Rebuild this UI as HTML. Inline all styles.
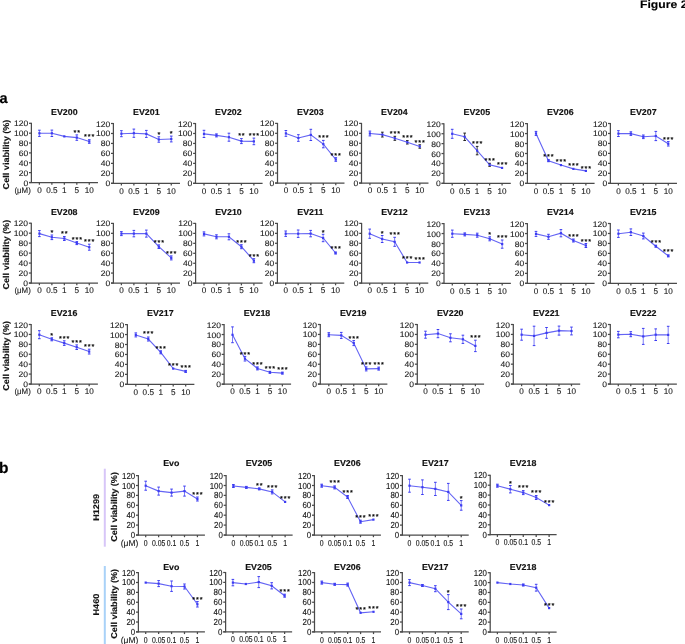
<!DOCTYPE html>
<html><head><meta charset="utf-8"><title>Figure 2</title>
<style>
html,body{margin:0;padding:0;background:#fff;}
body{width:685px;height:644px;overflow:hidden;}
svg{display:block;will-change:transform;}
text{font-family:"Liberation Sans", sans-serif;text-rendering:geometricPrecision;}
</style></head>
<body>
<svg width="685" height="644" viewBox="0 0 685 644">
<rect width="685" height="644" fill="#fff"/>
<line x1="31.4" y1="122.8" x2="31.4" y2="183" stroke="#4a4a4a" stroke-width="1.25"/>
<line x1="29" y1="182.5" x2="31.4" y2="182.5" stroke="#4a4a4a" stroke-width="1.25"/>
<text transform="translate(28.2,185.5) scale(1.08,1)" font-size="7.9" stroke="#1a1a1a" stroke-width="0.11" text-anchor="end" fill="#1a1a1a">0</text>
<line x1="29" y1="172.63" x2="31.4" y2="172.63" stroke="#4a4a4a" stroke-width="1.25"/>
<text transform="translate(28.2,175.63) scale(1.08,1)" font-size="7.9" stroke="#1a1a1a" stroke-width="0.11" text-anchor="end" fill="#1a1a1a">20</text>
<line x1="29" y1="162.77" x2="31.4" y2="162.77" stroke="#4a4a4a" stroke-width="1.25"/>
<text transform="translate(28.2,165.77) scale(1.08,1)" font-size="7.9" stroke="#1a1a1a" stroke-width="0.11" text-anchor="end" fill="#1a1a1a">40</text>
<line x1="29" y1="152.9" x2="31.4" y2="152.9" stroke="#4a4a4a" stroke-width="1.25"/>
<text transform="translate(28.2,155.9) scale(1.08,1)" font-size="7.9" stroke="#1a1a1a" stroke-width="0.11" text-anchor="end" fill="#1a1a1a">60</text>
<line x1="29" y1="143.03" x2="31.4" y2="143.03" stroke="#4a4a4a" stroke-width="1.25"/>
<text transform="translate(28.2,146.03) scale(1.08,1)" font-size="7.9" stroke="#1a1a1a" stroke-width="0.11" text-anchor="end" fill="#1a1a1a">80</text>
<line x1="29" y1="133.17" x2="31.4" y2="133.17" stroke="#4a4a4a" stroke-width="1.25"/>
<text transform="translate(28.2,136.17) scale(1.08,1)" font-size="7.9" stroke="#1a1a1a" stroke-width="0.11" text-anchor="end" fill="#1a1a1a">100</text>
<line x1="29" y1="123.3" x2="31.4" y2="123.3" stroke="#4a4a4a" stroke-width="1.25"/>
<text transform="translate(28.2,126.3) scale(1.08,1)" font-size="7.9" stroke="#1a1a1a" stroke-width="0.11" text-anchor="end" fill="#1a1a1a">120</text>
<line x1="29" y1="182.5" x2="97.98" y2="182.5" stroke="#4a4a4a" stroke-width="1.25"/>
<line x1="39.4" y1="182.5" x2="39.4" y2="184.7" stroke="#4a4a4a" stroke-width="1.25"/>
<text transform="translate(39.4,192.7) scale(0.98,1)" font-size="8.3" stroke="#1a1a1a" stroke-width="0.12" text-anchor="middle" fill="#1a1a1a">0</text>
<line x1="51.87" y1="182.5" x2="51.87" y2="184.7" stroke="#4a4a4a" stroke-width="1.25"/>
<text transform="translate(51.87,192.7) scale(0.98,1)" font-size="8.3" stroke="#1a1a1a" stroke-width="0.12" text-anchor="middle" fill="#1a1a1a">0.5</text>
<line x1="64.34" y1="182.5" x2="64.34" y2="184.7" stroke="#4a4a4a" stroke-width="1.25"/>
<text transform="translate(64.34,192.7) scale(0.98,1)" font-size="8.3" stroke="#1a1a1a" stroke-width="0.12" text-anchor="middle" fill="#1a1a1a">1</text>
<line x1="76.81" y1="182.5" x2="76.81" y2="184.7" stroke="#4a4a4a" stroke-width="1.25"/>
<text transform="translate(76.81,192.7) scale(0.98,1)" font-size="8.3" stroke="#1a1a1a" stroke-width="0.12" text-anchor="middle" fill="#1a1a1a">5</text>
<line x1="89.28" y1="182.5" x2="89.28" y2="184.7" stroke="#4a4a4a" stroke-width="1.25"/>
<text transform="translate(89.28,192.7) scale(0.98,1)" font-size="8.3" stroke="#1a1a1a" stroke-width="0.12" text-anchor="middle" fill="#1a1a1a">10</text>
<text transform="translate(64.3,115.1) scale(1.03,1)" font-size="8.6" font-weight="bold" stroke="#111" stroke-width="0.15" text-anchor="middle" fill="#111">EV200</text>
<polyline points="39.4,133.3 51.87,133.3 64.34,136.4 76.81,137.6 89.28,141.5" fill="none" stroke="#6464f4" stroke-width="1.1"/>
<line x1="39.4" y1="130.2" x2="39.4" y2="136.4" stroke="#6a6af5" stroke-width="0.9"/>
<line x1="38.1" y1="130.2" x2="40.7" y2="130.2" stroke="#3c3cf2" stroke-width="1"/>
<line x1="38.1" y1="136.4" x2="40.7" y2="136.4" stroke="#3c3cf2" stroke-width="1"/>
<rect x="38.3" y="132.2" width="2.2" height="2.2" fill="#3c3cf2"/>
<line x1="51.87" y1="130.1" x2="51.87" y2="136.5" stroke="#6a6af5" stroke-width="0.9"/>
<line x1="50.57" y1="130.1" x2="53.17" y2="130.1" stroke="#3c3cf2" stroke-width="1"/>
<line x1="50.57" y1="136.5" x2="53.17" y2="136.5" stroke="#3c3cf2" stroke-width="1"/>
<rect x="50.77" y="132.2" width="2.2" height="2.2" fill="#3c3cf2"/>
<rect x="63.24" y="135.3" width="2.2" height="2.2" fill="#3c3cf2"/>
<line x1="76.81" y1="134.9" x2="76.81" y2="140.3" stroke="#6a6af5" stroke-width="0.9"/>
<line x1="75.51" y1="134.9" x2="78.11" y2="134.9" stroke="#3c3cf2" stroke-width="1"/>
<line x1="75.51" y1="140.3" x2="78.11" y2="140.3" stroke="#3c3cf2" stroke-width="1"/>
<rect x="75.71" y="136.5" width="2.2" height="2.2" fill="#3c3cf2"/>
<line x1="89.28" y1="139.7" x2="89.28" y2="143.3" stroke="#6a6af5" stroke-width="0.9"/>
<line x1="87.98" y1="139.7" x2="90.58" y2="139.7" stroke="#3c3cf2" stroke-width="1"/>
<line x1="87.98" y1="143.3" x2="90.58" y2="143.3" stroke="#3c3cf2" stroke-width="1"/>
<rect x="88.18" y="140.4" width="2.2" height="2.2" fill="#3c3cf2"/>
<text transform="translate(77.26,134.5)" font-size="7.3" letter-spacing="0.9" stroke="#000" stroke-width="0.2" text-anchor="middle" fill="#000">**</text>
<text transform="translate(89.73,139)" font-size="7.3" letter-spacing="0.9" stroke="#000" stroke-width="0.2" text-anchor="middle" fill="#000">***</text>
<text transform="translate(8.9,154.5) rotate(-90) scale(1.07,1)" font-size="8.5" font-weight="bold" stroke="#111" stroke-width="0.14" text-anchor="middle" fill="#111">Cell viability (%)</text>
<text transform="translate(30.8,192.7)" font-size="7.9" stroke="#1a1a1a" stroke-width="0.12" text-anchor="end" fill="#1a1a1a">(μM)</text>
<line x1="113.4" y1="123" x2="113.4" y2="183.8" stroke="#4a4a4a" stroke-width="1.25"/>
<line x1="111" y1="183.3" x2="113.4" y2="183.3" stroke="#4a4a4a" stroke-width="1.25"/>
<text transform="translate(110.2,186.3) scale(1.08,1)" font-size="7.9" stroke="#1a1a1a" stroke-width="0.11" text-anchor="end" fill="#1a1a1a">0</text>
<line x1="111" y1="173.33" x2="113.4" y2="173.33" stroke="#4a4a4a" stroke-width="1.25"/>
<text transform="translate(110.2,176.33) scale(1.08,1)" font-size="7.9" stroke="#1a1a1a" stroke-width="0.11" text-anchor="end" fill="#1a1a1a">20</text>
<line x1="111" y1="163.37" x2="113.4" y2="163.37" stroke="#4a4a4a" stroke-width="1.25"/>
<text transform="translate(110.2,166.37) scale(1.08,1)" font-size="7.9" stroke="#1a1a1a" stroke-width="0.11" text-anchor="end" fill="#1a1a1a">40</text>
<line x1="111" y1="153.4" x2="113.4" y2="153.4" stroke="#4a4a4a" stroke-width="1.25"/>
<text transform="translate(110.2,156.4) scale(1.08,1)" font-size="7.9" stroke="#1a1a1a" stroke-width="0.11" text-anchor="end" fill="#1a1a1a">60</text>
<line x1="111" y1="143.43" x2="113.4" y2="143.43" stroke="#4a4a4a" stroke-width="1.25"/>
<text transform="translate(110.2,146.43) scale(1.08,1)" font-size="7.9" stroke="#1a1a1a" stroke-width="0.11" text-anchor="end" fill="#1a1a1a">80</text>
<line x1="111" y1="133.47" x2="113.4" y2="133.47" stroke="#4a4a4a" stroke-width="1.25"/>
<text transform="translate(110.2,136.47) scale(1.08,1)" font-size="7.9" stroke="#1a1a1a" stroke-width="0.11" text-anchor="end" fill="#1a1a1a">100</text>
<line x1="111" y1="123.5" x2="113.4" y2="123.5" stroke="#4a4a4a" stroke-width="1.25"/>
<text transform="translate(110.2,126.5) scale(1.08,1)" font-size="7.9" stroke="#1a1a1a" stroke-width="0.11" text-anchor="end" fill="#1a1a1a">120</text>
<line x1="111" y1="183.3" x2="179.98" y2="183.3" stroke="#4a4a4a" stroke-width="1.25"/>
<line x1="121.4" y1="183.3" x2="121.4" y2="185.5" stroke="#4a4a4a" stroke-width="1.25"/>
<text transform="translate(121.4,193.5) scale(0.98,1)" font-size="8.3" stroke="#1a1a1a" stroke-width="0.12" text-anchor="middle" fill="#1a1a1a">0</text>
<line x1="133.87" y1="183.3" x2="133.87" y2="185.5" stroke="#4a4a4a" stroke-width="1.25"/>
<text transform="translate(133.87,193.5) scale(0.98,1)" font-size="8.3" stroke="#1a1a1a" stroke-width="0.12" text-anchor="middle" fill="#1a1a1a">0.5</text>
<line x1="146.34" y1="183.3" x2="146.34" y2="185.5" stroke="#4a4a4a" stroke-width="1.25"/>
<text transform="translate(146.34,193.5) scale(0.98,1)" font-size="8.3" stroke="#1a1a1a" stroke-width="0.12" text-anchor="middle" fill="#1a1a1a">1</text>
<line x1="158.81" y1="183.3" x2="158.81" y2="185.5" stroke="#4a4a4a" stroke-width="1.25"/>
<text transform="translate(158.81,193.5) scale(0.98,1)" font-size="8.3" stroke="#1a1a1a" stroke-width="0.12" text-anchor="middle" fill="#1a1a1a">5</text>
<line x1="171.28" y1="183.3" x2="171.28" y2="185.5" stroke="#4a4a4a" stroke-width="1.25"/>
<text transform="translate(171.28,193.5) scale(0.98,1)" font-size="8.3" stroke="#1a1a1a" stroke-width="0.12" text-anchor="middle" fill="#1a1a1a">10</text>
<text transform="translate(146.3,115.1) scale(1.03,1)" font-size="8.6" font-weight="bold" stroke="#111" stroke-width="0.15" text-anchor="middle" fill="#111">EV201</text>
<polyline points="121.4,133.7 133.87,133.2 146.34,133.9 158.81,139.5 171.28,139" fill="none" stroke="#6464f4" stroke-width="1.1"/>
<line x1="121.4" y1="130.7" x2="121.4" y2="136.7" stroke="#6a6af5" stroke-width="0.9"/>
<line x1="120.1" y1="130.7" x2="122.7" y2="130.7" stroke="#3c3cf2" stroke-width="1"/>
<line x1="120.1" y1="136.7" x2="122.7" y2="136.7" stroke="#3c3cf2" stroke-width="1"/>
<rect x="120.3" y="132.6" width="2.2" height="2.2" fill="#3c3cf2"/>
<line x1="133.87" y1="129.1" x2="133.87" y2="137.3" stroke="#6a6af5" stroke-width="0.9"/>
<line x1="132.57" y1="129.1" x2="135.17" y2="129.1" stroke="#3c3cf2" stroke-width="1"/>
<line x1="132.57" y1="137.3" x2="135.17" y2="137.3" stroke="#3c3cf2" stroke-width="1"/>
<rect x="132.77" y="132.1" width="2.2" height="2.2" fill="#3c3cf2"/>
<line x1="146.34" y1="130.4" x2="146.34" y2="137.4" stroke="#6a6af5" stroke-width="0.9"/>
<line x1="145.04" y1="130.4" x2="147.64" y2="130.4" stroke="#3c3cf2" stroke-width="1"/>
<line x1="145.04" y1="137.4" x2="147.64" y2="137.4" stroke="#3c3cf2" stroke-width="1"/>
<rect x="145.24" y="132.8" width="2.2" height="2.2" fill="#3c3cf2"/>
<line x1="158.81" y1="136.8" x2="158.81" y2="142.2" stroke="#6a6af5" stroke-width="0.9"/>
<line x1="157.51" y1="136.8" x2="160.11" y2="136.8" stroke="#3c3cf2" stroke-width="1"/>
<line x1="157.51" y1="142.2" x2="160.11" y2="142.2" stroke="#3c3cf2" stroke-width="1"/>
<rect x="157.71" y="138.4" width="2.2" height="2.2" fill="#3c3cf2"/>
<line x1="171.28" y1="136.1" x2="171.28" y2="141.9" stroke="#6a6af5" stroke-width="0.9"/>
<line x1="169.98" y1="136.1" x2="172.58" y2="136.1" stroke="#3c3cf2" stroke-width="1"/>
<line x1="169.98" y1="141.9" x2="172.58" y2="141.9" stroke="#3c3cf2" stroke-width="1"/>
<rect x="170.18" y="137.9" width="2.2" height="2.2" fill="#3c3cf2"/>
<text transform="translate(159.26,137.1)" font-size="7.3" letter-spacing="0.9" stroke="#000" stroke-width="0.2" text-anchor="middle" fill="#000">*</text>
<text transform="translate(171.73,136.1)" font-size="7.3" letter-spacing="0.9" stroke="#000" stroke-width="0.2" text-anchor="middle" fill="#000">*</text>
<line x1="195.5" y1="123" x2="195.5" y2="183.8" stroke="#4a4a4a" stroke-width="1.25"/>
<line x1="193.1" y1="183.3" x2="195.5" y2="183.3" stroke="#4a4a4a" stroke-width="1.25"/>
<text transform="translate(192.3,186.3) scale(1.08,1)" font-size="7.9" stroke="#1a1a1a" stroke-width="0.11" text-anchor="end" fill="#1a1a1a">0</text>
<line x1="193.1" y1="173.33" x2="195.5" y2="173.33" stroke="#4a4a4a" stroke-width="1.25"/>
<text transform="translate(192.3,176.33) scale(1.08,1)" font-size="7.9" stroke="#1a1a1a" stroke-width="0.11" text-anchor="end" fill="#1a1a1a">20</text>
<line x1="193.1" y1="163.37" x2="195.5" y2="163.37" stroke="#4a4a4a" stroke-width="1.25"/>
<text transform="translate(192.3,166.37) scale(1.08,1)" font-size="7.9" stroke="#1a1a1a" stroke-width="0.11" text-anchor="end" fill="#1a1a1a">40</text>
<line x1="193.1" y1="153.4" x2="195.5" y2="153.4" stroke="#4a4a4a" stroke-width="1.25"/>
<text transform="translate(192.3,156.4) scale(1.08,1)" font-size="7.9" stroke="#1a1a1a" stroke-width="0.11" text-anchor="end" fill="#1a1a1a">60</text>
<line x1="193.1" y1="143.43" x2="195.5" y2="143.43" stroke="#4a4a4a" stroke-width="1.25"/>
<text transform="translate(192.3,146.43) scale(1.08,1)" font-size="7.9" stroke="#1a1a1a" stroke-width="0.11" text-anchor="end" fill="#1a1a1a">80</text>
<line x1="193.1" y1="133.47" x2="195.5" y2="133.47" stroke="#4a4a4a" stroke-width="1.25"/>
<text transform="translate(192.3,136.47) scale(1.08,1)" font-size="7.9" stroke="#1a1a1a" stroke-width="0.11" text-anchor="end" fill="#1a1a1a">100</text>
<line x1="193.1" y1="123.5" x2="195.5" y2="123.5" stroke="#4a4a4a" stroke-width="1.25"/>
<text transform="translate(192.3,126.5) scale(1.08,1)" font-size="7.9" stroke="#1a1a1a" stroke-width="0.11" text-anchor="end" fill="#1a1a1a">120</text>
<line x1="193.1" y1="183.3" x2="262.58" y2="183.3" stroke="#4a4a4a" stroke-width="1.25"/>
<line x1="204" y1="183.3" x2="204" y2="185.5" stroke="#4a4a4a" stroke-width="1.25"/>
<text transform="translate(204,193.5) scale(0.98,1)" font-size="8.3" stroke="#1a1a1a" stroke-width="0.12" text-anchor="middle" fill="#1a1a1a">0</text>
<line x1="216.47" y1="183.3" x2="216.47" y2="185.5" stroke="#4a4a4a" stroke-width="1.25"/>
<text transform="translate(216.47,193.5) scale(0.98,1)" font-size="8.3" stroke="#1a1a1a" stroke-width="0.12" text-anchor="middle" fill="#1a1a1a">0.5</text>
<line x1="228.94" y1="183.3" x2="228.94" y2="185.5" stroke="#4a4a4a" stroke-width="1.25"/>
<text transform="translate(228.94,193.5) scale(0.98,1)" font-size="8.3" stroke="#1a1a1a" stroke-width="0.12" text-anchor="middle" fill="#1a1a1a">1</text>
<line x1="241.41" y1="183.3" x2="241.41" y2="185.5" stroke="#4a4a4a" stroke-width="1.25"/>
<text transform="translate(241.41,193.5) scale(0.98,1)" font-size="8.3" stroke="#1a1a1a" stroke-width="0.12" text-anchor="middle" fill="#1a1a1a">5</text>
<line x1="253.88" y1="183.3" x2="253.88" y2="185.5" stroke="#4a4a4a" stroke-width="1.25"/>
<text transform="translate(253.88,193.5) scale(0.98,1)" font-size="8.3" stroke="#1a1a1a" stroke-width="0.12" text-anchor="middle" fill="#1a1a1a">10</text>
<text transform="translate(228.4,115.1) scale(1.03,1)" font-size="8.6" font-weight="bold" stroke="#111" stroke-width="0.15" text-anchor="middle" fill="#111">EV202</text>
<polyline points="204,133.9 216.47,135.4 228.94,137.2 241.41,141.1 253.88,141.4" fill="none" stroke="#6464f4" stroke-width="1.1"/>
<line x1="204" y1="130.3" x2="204" y2="137.5" stroke="#6a6af5" stroke-width="0.9"/>
<line x1="202.7" y1="130.3" x2="205.3" y2="130.3" stroke="#3c3cf2" stroke-width="1"/>
<line x1="202.7" y1="137.5" x2="205.3" y2="137.5" stroke="#3c3cf2" stroke-width="1"/>
<rect x="202.9" y="132.8" width="2.2" height="2.2" fill="#3c3cf2"/>
<line x1="216.47" y1="133.9" x2="216.47" y2="136.9" stroke="#6a6af5" stroke-width="0.9"/>
<line x1="215.17" y1="133.9" x2="217.77" y2="133.9" stroke="#3c3cf2" stroke-width="1"/>
<line x1="215.17" y1="136.9" x2="217.77" y2="136.9" stroke="#3c3cf2" stroke-width="1"/>
<rect x="215.37" y="134.3" width="2.2" height="2.2" fill="#3c3cf2"/>
<line x1="228.94" y1="133.2" x2="228.94" y2="141.2" stroke="#6a6af5" stroke-width="0.9"/>
<line x1="227.64" y1="133.2" x2="230.24" y2="133.2" stroke="#3c3cf2" stroke-width="1"/>
<line x1="227.64" y1="141.2" x2="230.24" y2="141.2" stroke="#3c3cf2" stroke-width="1"/>
<rect x="227.84" y="136.1" width="2.2" height="2.2" fill="#3c3cf2"/>
<line x1="241.41" y1="138.6" x2="241.41" y2="143.6" stroke="#6a6af5" stroke-width="0.9"/>
<line x1="240.11" y1="138.6" x2="242.71" y2="138.6" stroke="#3c3cf2" stroke-width="1"/>
<line x1="240.11" y1="143.6" x2="242.71" y2="143.6" stroke="#3c3cf2" stroke-width="1"/>
<rect x="240.31" y="140" width="2.2" height="2.2" fill="#3c3cf2"/>
<line x1="253.88" y1="138.1" x2="253.88" y2="144.7" stroke="#6a6af5" stroke-width="0.9"/>
<line x1="252.58" y1="138.1" x2="255.18" y2="138.1" stroke="#3c3cf2" stroke-width="1"/>
<line x1="252.58" y1="144.7" x2="255.18" y2="144.7" stroke="#3c3cf2" stroke-width="1"/>
<rect x="252.78" y="140.3" width="2.2" height="2.2" fill="#3c3cf2"/>
<text transform="translate(241.86,138.1)" font-size="7.3" letter-spacing="0.9" stroke="#000" stroke-width="0.2" text-anchor="middle" fill="#000">**</text>
<text transform="translate(254.33,137.7)" font-size="7.3" letter-spacing="0.9" stroke="#000" stroke-width="0.2" text-anchor="middle" fill="#000">***</text>
<line x1="277.5" y1="122.9" x2="277.5" y2="183.5" stroke="#4a4a4a" stroke-width="1.25"/>
<line x1="275.1" y1="183" x2="277.5" y2="183" stroke="#4a4a4a" stroke-width="1.25"/>
<text transform="translate(274.3,186) scale(1.08,1)" font-size="7.9" stroke="#1a1a1a" stroke-width="0.11" text-anchor="end" fill="#1a1a1a">0</text>
<line x1="275.1" y1="173.07" x2="277.5" y2="173.07" stroke="#4a4a4a" stroke-width="1.25"/>
<text transform="translate(274.3,176.07) scale(1.08,1)" font-size="7.9" stroke="#1a1a1a" stroke-width="0.11" text-anchor="end" fill="#1a1a1a">20</text>
<line x1="275.1" y1="163.13" x2="277.5" y2="163.13" stroke="#4a4a4a" stroke-width="1.25"/>
<text transform="translate(274.3,166.13) scale(1.08,1)" font-size="7.9" stroke="#1a1a1a" stroke-width="0.11" text-anchor="end" fill="#1a1a1a">40</text>
<line x1="275.1" y1="153.2" x2="277.5" y2="153.2" stroke="#4a4a4a" stroke-width="1.25"/>
<text transform="translate(274.3,156.2) scale(1.08,1)" font-size="7.9" stroke="#1a1a1a" stroke-width="0.11" text-anchor="end" fill="#1a1a1a">60</text>
<line x1="275.1" y1="143.27" x2="277.5" y2="143.27" stroke="#4a4a4a" stroke-width="1.25"/>
<text transform="translate(274.3,146.27) scale(1.08,1)" font-size="7.9" stroke="#1a1a1a" stroke-width="0.11" text-anchor="end" fill="#1a1a1a">80</text>
<line x1="275.1" y1="133.33" x2="277.5" y2="133.33" stroke="#4a4a4a" stroke-width="1.25"/>
<text transform="translate(274.3,136.33) scale(1.08,1)" font-size="7.9" stroke="#1a1a1a" stroke-width="0.11" text-anchor="end" fill="#1a1a1a">100</text>
<line x1="275.1" y1="123.4" x2="277.5" y2="123.4" stroke="#4a4a4a" stroke-width="1.25"/>
<text transform="translate(274.3,126.4) scale(1.08,1)" font-size="7.9" stroke="#1a1a1a" stroke-width="0.11" text-anchor="end" fill="#1a1a1a">120</text>
<line x1="275.1" y1="183" x2="344.48" y2="183" stroke="#4a4a4a" stroke-width="1.25"/>
<line x1="285.9" y1="183" x2="285.9" y2="185.2" stroke="#4a4a4a" stroke-width="1.25"/>
<text transform="translate(285.9,193.2) scale(0.98,1)" font-size="8.3" stroke="#1a1a1a" stroke-width="0.12" text-anchor="middle" fill="#1a1a1a">0</text>
<line x1="298.37" y1="183" x2="298.37" y2="185.2" stroke="#4a4a4a" stroke-width="1.25"/>
<text transform="translate(298.37,193.2) scale(0.98,1)" font-size="8.3" stroke="#1a1a1a" stroke-width="0.12" text-anchor="middle" fill="#1a1a1a">0.5</text>
<line x1="310.84" y1="183" x2="310.84" y2="185.2" stroke="#4a4a4a" stroke-width="1.25"/>
<text transform="translate(310.84,193.2) scale(0.98,1)" font-size="8.3" stroke="#1a1a1a" stroke-width="0.12" text-anchor="middle" fill="#1a1a1a">1</text>
<line x1="323.31" y1="183" x2="323.31" y2="185.2" stroke="#4a4a4a" stroke-width="1.25"/>
<text transform="translate(323.31,193.2) scale(0.98,1)" font-size="8.3" stroke="#1a1a1a" stroke-width="0.12" text-anchor="middle" fill="#1a1a1a">5</text>
<line x1="335.78" y1="183" x2="335.78" y2="185.2" stroke="#4a4a4a" stroke-width="1.25"/>
<text transform="translate(335.78,193.2) scale(0.98,1)" font-size="8.3" stroke="#1a1a1a" stroke-width="0.12" text-anchor="middle" fill="#1a1a1a">10</text>
<text transform="translate(310.4,115.1) scale(1.03,1)" font-size="8.6" font-weight="bold" stroke="#111" stroke-width="0.15" text-anchor="middle" fill="#111">EV203</text>
<polyline points="285.9,133.4 298.37,138 310.84,134.9 323.31,144.1 335.78,159.5" fill="none" stroke="#6464f4" stroke-width="1.1"/>
<line x1="285.9" y1="130.5" x2="285.9" y2="136.3" stroke="#6a6af5" stroke-width="0.9"/>
<line x1="284.6" y1="130.5" x2="287.2" y2="130.5" stroke="#3c3cf2" stroke-width="1"/>
<line x1="284.6" y1="136.3" x2="287.2" y2="136.3" stroke="#3c3cf2" stroke-width="1"/>
<rect x="284.8" y="132.3" width="2.2" height="2.2" fill="#3c3cf2"/>
<line x1="298.37" y1="134.7" x2="298.37" y2="141.3" stroke="#6a6af5" stroke-width="0.9"/>
<line x1="297.07" y1="134.7" x2="299.67" y2="134.7" stroke="#3c3cf2" stroke-width="1"/>
<line x1="297.07" y1="141.3" x2="299.67" y2="141.3" stroke="#3c3cf2" stroke-width="1"/>
<rect x="297.27" y="136.9" width="2.2" height="2.2" fill="#3c3cf2"/>
<line x1="310.84" y1="129.3" x2="310.84" y2="140.5" stroke="#6a6af5" stroke-width="0.9"/>
<line x1="309.54" y1="129.3" x2="312.14" y2="129.3" stroke="#3c3cf2" stroke-width="1"/>
<line x1="309.54" y1="140.5" x2="312.14" y2="140.5" stroke="#3c3cf2" stroke-width="1"/>
<rect x="309.74" y="133.8" width="2.2" height="2.2" fill="#3c3cf2"/>
<line x1="323.31" y1="140.4" x2="323.31" y2="147.8" stroke="#6a6af5" stroke-width="0.9"/>
<line x1="322.01" y1="140.4" x2="324.61" y2="140.4" stroke="#3c3cf2" stroke-width="1"/>
<line x1="322.01" y1="147.8" x2="324.61" y2="147.8" stroke="#3c3cf2" stroke-width="1"/>
<rect x="322.21" y="143" width="2.2" height="2.2" fill="#3c3cf2"/>
<line x1="335.78" y1="157.7" x2="335.78" y2="161.3" stroke="#6a6af5" stroke-width="0.9"/>
<line x1="334.48" y1="157.7" x2="337.08" y2="157.7" stroke="#3c3cf2" stroke-width="1"/>
<line x1="334.48" y1="161.3" x2="337.08" y2="161.3" stroke="#3c3cf2" stroke-width="1"/>
<rect x="334.68" y="158.4" width="2.2" height="2.2" fill="#3c3cf2"/>
<text transform="translate(323.76,140)" font-size="7.3" letter-spacing="0.9" stroke="#000" stroke-width="0.2" text-anchor="middle" fill="#000">***</text>
<text transform="translate(336.23,157.6)" font-size="7.3" letter-spacing="0.9" stroke="#000" stroke-width="0.2" text-anchor="middle" fill="#000">***</text>
<line x1="361.5" y1="122.9" x2="361.5" y2="183.5" stroke="#4a4a4a" stroke-width="1.25"/>
<line x1="359.1" y1="183" x2="361.5" y2="183" stroke="#4a4a4a" stroke-width="1.25"/>
<text transform="translate(358.3,186) scale(1.08,1)" font-size="7.9" stroke="#1a1a1a" stroke-width="0.11" text-anchor="end" fill="#1a1a1a">0</text>
<line x1="359.1" y1="173.07" x2="361.5" y2="173.07" stroke="#4a4a4a" stroke-width="1.25"/>
<text transform="translate(358.3,176.07) scale(1.08,1)" font-size="7.9" stroke="#1a1a1a" stroke-width="0.11" text-anchor="end" fill="#1a1a1a">20</text>
<line x1="359.1" y1="163.13" x2="361.5" y2="163.13" stroke="#4a4a4a" stroke-width="1.25"/>
<text transform="translate(358.3,166.13) scale(1.08,1)" font-size="7.9" stroke="#1a1a1a" stroke-width="0.11" text-anchor="end" fill="#1a1a1a">40</text>
<line x1="359.1" y1="153.2" x2="361.5" y2="153.2" stroke="#4a4a4a" stroke-width="1.25"/>
<text transform="translate(358.3,156.2) scale(1.08,1)" font-size="7.9" stroke="#1a1a1a" stroke-width="0.11" text-anchor="end" fill="#1a1a1a">60</text>
<line x1="359.1" y1="143.27" x2="361.5" y2="143.27" stroke="#4a4a4a" stroke-width="1.25"/>
<text transform="translate(358.3,146.27) scale(1.08,1)" font-size="7.9" stroke="#1a1a1a" stroke-width="0.11" text-anchor="end" fill="#1a1a1a">80</text>
<line x1="359.1" y1="133.33" x2="361.5" y2="133.33" stroke="#4a4a4a" stroke-width="1.25"/>
<text transform="translate(358.3,136.33) scale(1.08,1)" font-size="7.9" stroke="#1a1a1a" stroke-width="0.11" text-anchor="end" fill="#1a1a1a">100</text>
<line x1="359.1" y1="123.4" x2="361.5" y2="123.4" stroke="#4a4a4a" stroke-width="1.25"/>
<text transform="translate(358.3,126.4) scale(1.08,1)" font-size="7.9" stroke="#1a1a1a" stroke-width="0.11" text-anchor="end" fill="#1a1a1a">120</text>
<line x1="359.1" y1="183" x2="428.48" y2="183" stroke="#4a4a4a" stroke-width="1.25"/>
<line x1="369.9" y1="183" x2="369.9" y2="185.2" stroke="#4a4a4a" stroke-width="1.25"/>
<text transform="translate(369.9,193.2) scale(0.98,1)" font-size="8.3" stroke="#1a1a1a" stroke-width="0.12" text-anchor="middle" fill="#1a1a1a">0</text>
<line x1="382.37" y1="183" x2="382.37" y2="185.2" stroke="#4a4a4a" stroke-width="1.25"/>
<text transform="translate(382.37,193.2) scale(0.98,1)" font-size="8.3" stroke="#1a1a1a" stroke-width="0.12" text-anchor="middle" fill="#1a1a1a">0.5</text>
<line x1="394.84" y1="183" x2="394.84" y2="185.2" stroke="#4a4a4a" stroke-width="1.25"/>
<text transform="translate(394.84,193.2) scale(0.98,1)" font-size="8.3" stroke="#1a1a1a" stroke-width="0.12" text-anchor="middle" fill="#1a1a1a">1</text>
<line x1="407.31" y1="183" x2="407.31" y2="185.2" stroke="#4a4a4a" stroke-width="1.25"/>
<text transform="translate(407.31,193.2) scale(0.98,1)" font-size="8.3" stroke="#1a1a1a" stroke-width="0.12" text-anchor="middle" fill="#1a1a1a">5</text>
<line x1="419.78" y1="183" x2="419.78" y2="185.2" stroke="#4a4a4a" stroke-width="1.25"/>
<text transform="translate(419.78,193.2) scale(0.98,1)" font-size="8.3" stroke="#1a1a1a" stroke-width="0.12" text-anchor="middle" fill="#1a1a1a">10</text>
<text transform="translate(394.4,115.1) scale(1.03,1)" font-size="8.6" font-weight="bold" stroke="#111" stroke-width="0.15" text-anchor="middle" fill="#111">EV204</text>
<polyline points="369.9,133.5 382.37,134.6 394.84,138.3 407.31,142.3 419.78,146.5" fill="none" stroke="#6464f4" stroke-width="1.1"/>
<line x1="369.9" y1="131.1" x2="369.9" y2="135.9" stroke="#6a6af5" stroke-width="0.9"/>
<line x1="368.6" y1="131.1" x2="371.2" y2="131.1" stroke="#3c3cf2" stroke-width="1"/>
<line x1="368.6" y1="135.9" x2="371.2" y2="135.9" stroke="#3c3cf2" stroke-width="1"/>
<rect x="368.8" y="132.4" width="2.2" height="2.2" fill="#3c3cf2"/>
<line x1="382.37" y1="132.2" x2="382.37" y2="137" stroke="#222" stroke-width="0.9"/>
<line x1="381.07" y1="132.2" x2="383.67" y2="132.2" stroke="#222" stroke-width="1"/>
<line x1="381.07" y1="137" x2="383.67" y2="137" stroke="#222" stroke-width="1"/>
<rect x="381.27" y="133.5" width="2.2" height="2.2" fill="#3c3cf2"/>
<line x1="394.84" y1="136.3" x2="394.84" y2="140.3" stroke="#222" stroke-width="0.9"/>
<line x1="393.54" y1="136.3" x2="396.14" y2="136.3" stroke="#222" stroke-width="1"/>
<line x1="393.54" y1="140.3" x2="396.14" y2="140.3" stroke="#222" stroke-width="1"/>
<rect x="393.74" y="137.2" width="2.2" height="2.2" fill="#3c3cf2"/>
<line x1="407.31" y1="140.6" x2="407.31" y2="144" stroke="#222" stroke-width="0.9"/>
<line x1="406.01" y1="140.6" x2="408.61" y2="140.6" stroke="#222" stroke-width="1"/>
<line x1="406.01" y1="144" x2="408.61" y2="144" stroke="#222" stroke-width="1"/>
<rect x="406.21" y="141.2" width="2.2" height="2.2" fill="#3c3cf2"/>
<line x1="419.78" y1="144.8" x2="419.78" y2="148.2" stroke="#222" stroke-width="0.9"/>
<line x1="418.48" y1="144.8" x2="421.08" y2="144.8" stroke="#222" stroke-width="1"/>
<line x1="418.48" y1="148.2" x2="421.08" y2="148.2" stroke="#222" stroke-width="1"/>
<rect x="418.68" y="145.4" width="2.2" height="2.2" fill="#3c3cf2"/>
<text transform="translate(395.29,135.9)" font-size="7.3" letter-spacing="0.9" stroke="#000" stroke-width="0.2" text-anchor="middle" fill="#000">***</text>
<text transform="translate(407.76,139.9)" font-size="7.3" letter-spacing="0.9" stroke="#000" stroke-width="0.2" text-anchor="middle" fill="#000">***</text>
<text transform="translate(420.23,144.5)" font-size="7.3" letter-spacing="0.9" stroke="#000" stroke-width="0.2" text-anchor="middle" fill="#000">***</text>
<line x1="443.9" y1="123.3" x2="443.9" y2="183.8" stroke="#4a4a4a" stroke-width="1.25"/>
<line x1="441.5" y1="183.3" x2="443.9" y2="183.3" stroke="#4a4a4a" stroke-width="1.25"/>
<text transform="translate(440.7,186.3) scale(1.08,1)" font-size="7.9" stroke="#1a1a1a" stroke-width="0.11" text-anchor="end" fill="#1a1a1a">0</text>
<line x1="441.5" y1="173.38" x2="443.9" y2="173.38" stroke="#4a4a4a" stroke-width="1.25"/>
<text transform="translate(440.7,176.38) scale(1.08,1)" font-size="7.9" stroke="#1a1a1a" stroke-width="0.11" text-anchor="end" fill="#1a1a1a">20</text>
<line x1="441.5" y1="163.47" x2="443.9" y2="163.47" stroke="#4a4a4a" stroke-width="1.25"/>
<text transform="translate(440.7,166.47) scale(1.08,1)" font-size="7.9" stroke="#1a1a1a" stroke-width="0.11" text-anchor="end" fill="#1a1a1a">40</text>
<line x1="441.5" y1="153.55" x2="443.9" y2="153.55" stroke="#4a4a4a" stroke-width="1.25"/>
<text transform="translate(440.7,156.55) scale(1.08,1)" font-size="7.9" stroke="#1a1a1a" stroke-width="0.11" text-anchor="end" fill="#1a1a1a">60</text>
<line x1="441.5" y1="143.63" x2="443.9" y2="143.63" stroke="#4a4a4a" stroke-width="1.25"/>
<text transform="translate(440.7,146.63) scale(1.08,1)" font-size="7.9" stroke="#1a1a1a" stroke-width="0.11" text-anchor="end" fill="#1a1a1a">80</text>
<line x1="441.5" y1="133.72" x2="443.9" y2="133.72" stroke="#4a4a4a" stroke-width="1.25"/>
<text transform="translate(440.7,136.72) scale(1.08,1)" font-size="7.9" stroke="#1a1a1a" stroke-width="0.11" text-anchor="end" fill="#1a1a1a">100</text>
<line x1="441.5" y1="123.8" x2="443.9" y2="123.8" stroke="#4a4a4a" stroke-width="1.25"/>
<text transform="translate(440.7,126.8) scale(1.08,1)" font-size="7.9" stroke="#1a1a1a" stroke-width="0.11" text-anchor="end" fill="#1a1a1a">120</text>
<line x1="441.5" y1="183.3" x2="510.78" y2="183.3" stroke="#4a4a4a" stroke-width="1.25"/>
<line x1="452.2" y1="183.3" x2="452.2" y2="185.5" stroke="#4a4a4a" stroke-width="1.25"/>
<text transform="translate(452.2,193.5) scale(0.98,1)" font-size="8.3" stroke="#1a1a1a" stroke-width="0.12" text-anchor="middle" fill="#1a1a1a">0</text>
<line x1="464.67" y1="183.3" x2="464.67" y2="185.5" stroke="#4a4a4a" stroke-width="1.25"/>
<text transform="translate(464.67,193.5) scale(0.98,1)" font-size="8.3" stroke="#1a1a1a" stroke-width="0.12" text-anchor="middle" fill="#1a1a1a">0.5</text>
<line x1="477.14" y1="183.3" x2="477.14" y2="185.5" stroke="#4a4a4a" stroke-width="1.25"/>
<text transform="translate(477.14,193.5) scale(0.98,1)" font-size="8.3" stroke="#1a1a1a" stroke-width="0.12" text-anchor="middle" fill="#1a1a1a">1</text>
<line x1="489.61" y1="183.3" x2="489.61" y2="185.5" stroke="#4a4a4a" stroke-width="1.25"/>
<text transform="translate(489.61,193.5) scale(0.98,1)" font-size="8.3" stroke="#1a1a1a" stroke-width="0.12" text-anchor="middle" fill="#1a1a1a">5</text>
<line x1="502.08" y1="183.3" x2="502.08" y2="185.5" stroke="#4a4a4a" stroke-width="1.25"/>
<text transform="translate(502.08,193.5) scale(0.98,1)" font-size="8.3" stroke="#1a1a1a" stroke-width="0.12" text-anchor="middle" fill="#1a1a1a">10</text>
<text transform="translate(476.8,115.1) scale(1.03,1)" font-size="8.6" font-weight="bold" stroke="#111" stroke-width="0.15" text-anchor="middle" fill="#111">EV205</text>
<polyline points="452.2,133.8 464.67,136.8 477.14,150.6 489.61,164.8 502.08,167.9" fill="none" stroke="#6464f4" stroke-width="1.1"/>
<line x1="452.2" y1="129.3" x2="452.2" y2="138.3" stroke="#6a6af5" stroke-width="0.9"/>
<line x1="450.9" y1="129.3" x2="453.5" y2="129.3" stroke="#3c3cf2" stroke-width="1"/>
<line x1="450.9" y1="138.3" x2="453.5" y2="138.3" stroke="#3c3cf2" stroke-width="1"/>
<rect x="451.1" y="132.7" width="2.2" height="2.2" fill="#3c3cf2"/>
<line x1="464.67" y1="133.1" x2="464.67" y2="140.5" stroke="#222" stroke-width="0.9"/>
<line x1="463.37" y1="133.1" x2="465.97" y2="133.1" stroke="#222" stroke-width="1"/>
<line x1="463.37" y1="140.5" x2="465.97" y2="140.5" stroke="#222" stroke-width="1"/>
<rect x="463.57" y="135.7" width="2.2" height="2.2" fill="#3c3cf2"/>
<line x1="477.14" y1="146.4" x2="477.14" y2="154.8" stroke="#222" stroke-width="0.9"/>
<line x1="475.84" y1="146.4" x2="478.44" y2="146.4" stroke="#222" stroke-width="1"/>
<line x1="475.84" y1="154.8" x2="478.44" y2="154.8" stroke="#222" stroke-width="1"/>
<rect x="476.04" y="149.5" width="2.2" height="2.2" fill="#3c3cf2"/>
<line x1="489.61" y1="163.3" x2="489.61" y2="166.3" stroke="#222" stroke-width="0.9"/>
<line x1="488.31" y1="163.3" x2="490.91" y2="163.3" stroke="#222" stroke-width="1"/>
<line x1="488.31" y1="166.3" x2="490.91" y2="166.3" stroke="#222" stroke-width="1"/>
<rect x="488.51" y="163.7" width="2.2" height="2.2" fill="#3c3cf2"/>
<rect x="500.98" y="166.8" width="2.2" height="2.2" fill="#3c3cf2"/>
<text transform="translate(477.59,146)" font-size="7.3" letter-spacing="0.9" stroke="#000" stroke-width="0.2" text-anchor="middle" fill="#000">***</text>
<text transform="translate(490.06,163.4)" font-size="7.3" letter-spacing="0.9" stroke="#000" stroke-width="0.2" text-anchor="middle" fill="#000">***</text>
<text transform="translate(502.53,166.9)" font-size="7.3" letter-spacing="0.9" stroke="#000" stroke-width="0.2" text-anchor="middle" fill="#000">***</text>
<line x1="527.4" y1="123.1" x2="527.4" y2="183.9" stroke="#4a4a4a" stroke-width="1.25"/>
<line x1="525" y1="183.4" x2="527.4" y2="183.4" stroke="#4a4a4a" stroke-width="1.25"/>
<text transform="translate(524.2,186.4) scale(1.08,1)" font-size="7.9" stroke="#1a1a1a" stroke-width="0.11" text-anchor="end" fill="#1a1a1a">0</text>
<line x1="525" y1="173.43" x2="527.4" y2="173.43" stroke="#4a4a4a" stroke-width="1.25"/>
<text transform="translate(524.2,176.43) scale(1.08,1)" font-size="7.9" stroke="#1a1a1a" stroke-width="0.11" text-anchor="end" fill="#1a1a1a">20</text>
<line x1="525" y1="163.47" x2="527.4" y2="163.47" stroke="#4a4a4a" stroke-width="1.25"/>
<text transform="translate(524.2,166.47) scale(1.08,1)" font-size="7.9" stroke="#1a1a1a" stroke-width="0.11" text-anchor="end" fill="#1a1a1a">40</text>
<line x1="525" y1="153.5" x2="527.4" y2="153.5" stroke="#4a4a4a" stroke-width="1.25"/>
<text transform="translate(524.2,156.5) scale(1.08,1)" font-size="7.9" stroke="#1a1a1a" stroke-width="0.11" text-anchor="end" fill="#1a1a1a">60</text>
<line x1="525" y1="143.53" x2="527.4" y2="143.53" stroke="#4a4a4a" stroke-width="1.25"/>
<text transform="translate(524.2,146.53) scale(1.08,1)" font-size="7.9" stroke="#1a1a1a" stroke-width="0.11" text-anchor="end" fill="#1a1a1a">80</text>
<line x1="525" y1="133.57" x2="527.4" y2="133.57" stroke="#4a4a4a" stroke-width="1.25"/>
<text transform="translate(524.2,136.57) scale(1.08,1)" font-size="7.9" stroke="#1a1a1a" stroke-width="0.11" text-anchor="end" fill="#1a1a1a">100</text>
<line x1="525" y1="123.6" x2="527.4" y2="123.6" stroke="#4a4a4a" stroke-width="1.25"/>
<text transform="translate(524.2,126.6) scale(1.08,1)" font-size="7.9" stroke="#1a1a1a" stroke-width="0.11" text-anchor="end" fill="#1a1a1a">120</text>
<line x1="525" y1="183.4" x2="594.58" y2="183.4" stroke="#4a4a4a" stroke-width="1.25"/>
<line x1="536" y1="183.4" x2="536" y2="185.6" stroke="#4a4a4a" stroke-width="1.25"/>
<text transform="translate(536,193.6) scale(0.98,1)" font-size="8.3" stroke="#1a1a1a" stroke-width="0.12" text-anchor="middle" fill="#1a1a1a">0</text>
<line x1="548.47" y1="183.4" x2="548.47" y2="185.6" stroke="#4a4a4a" stroke-width="1.25"/>
<text transform="translate(548.47,193.6) scale(0.98,1)" font-size="8.3" stroke="#1a1a1a" stroke-width="0.12" text-anchor="middle" fill="#1a1a1a">0.5</text>
<line x1="560.94" y1="183.4" x2="560.94" y2="185.6" stroke="#4a4a4a" stroke-width="1.25"/>
<text transform="translate(560.94,193.6) scale(0.98,1)" font-size="8.3" stroke="#1a1a1a" stroke-width="0.12" text-anchor="middle" fill="#1a1a1a">1</text>
<line x1="573.41" y1="183.4" x2="573.41" y2="185.6" stroke="#4a4a4a" stroke-width="1.25"/>
<text transform="translate(573.41,193.6) scale(0.98,1)" font-size="8.3" stroke="#1a1a1a" stroke-width="0.12" text-anchor="middle" fill="#1a1a1a">5</text>
<line x1="585.88" y1="183.4" x2="585.88" y2="185.6" stroke="#4a4a4a" stroke-width="1.25"/>
<text transform="translate(585.88,193.6) scale(0.98,1)" font-size="8.3" stroke="#1a1a1a" stroke-width="0.12" text-anchor="middle" fill="#1a1a1a">10</text>
<text transform="translate(560.3,115.1) scale(1.03,1)" font-size="8.6" font-weight="bold" stroke="#111" stroke-width="0.15" text-anchor="middle" fill="#111">EV206</text>
<polyline points="536,133.4 548.47,160.7 560.94,165.1 573.41,168.9 585.88,170.9" fill="none" stroke="#6464f4" stroke-width="1.1"/>
<line x1="536" y1="131.4" x2="536" y2="135.4" stroke="#6a6af5" stroke-width="0.9"/>
<line x1="534.7" y1="131.4" x2="537.3" y2="131.4" stroke="#3c3cf2" stroke-width="1"/>
<line x1="534.7" y1="135.4" x2="537.3" y2="135.4" stroke="#3c3cf2" stroke-width="1"/>
<rect x="534.9" y="132.3" width="2.2" height="2.2" fill="#3c3cf2"/>
<line x1="548.47" y1="159.7" x2="548.47" y2="161.7" stroke="#6a6af5" stroke-width="0.9"/>
<line x1="547.17" y1="159.7" x2="549.77" y2="159.7" stroke="#3c3cf2" stroke-width="1"/>
<line x1="547.17" y1="161.7" x2="549.77" y2="161.7" stroke="#3c3cf2" stroke-width="1"/>
<rect x="547.37" y="159.6" width="2.2" height="2.2" fill="#3c3cf2"/>
<rect x="559.84" y="164" width="2.2" height="2.2" fill="#3c3cf2"/>
<rect x="572.31" y="167.8" width="2.2" height="2.2" fill="#3c3cf2"/>
<rect x="584.78" y="169.8" width="2.2" height="2.2" fill="#3c3cf2"/>
<text transform="translate(548.92,159.4)" font-size="7.3" letter-spacing="0.9" stroke="#000" stroke-width="0.2" text-anchor="middle" fill="#000">***</text>
<text transform="translate(561.39,164.2)" font-size="7.3" letter-spacing="0.9" stroke="#000" stroke-width="0.2" text-anchor="middle" fill="#000">***</text>
<text transform="translate(573.86,168.4)" font-size="7.3" letter-spacing="0.9" stroke="#000" stroke-width="0.2" text-anchor="middle" fill="#000">***</text>
<text transform="translate(586.33,170.6)" font-size="7.3" letter-spacing="0.9" stroke="#000" stroke-width="0.2" text-anchor="middle" fill="#000">***</text>
<line x1="610.4" y1="123" x2="610.4" y2="183.8" stroke="#4a4a4a" stroke-width="1.25"/>
<line x1="608" y1="183.3" x2="610.4" y2="183.3" stroke="#4a4a4a" stroke-width="1.25"/>
<text transform="translate(607.2,186.3) scale(1.08,1)" font-size="7.9" stroke="#1a1a1a" stroke-width="0.11" text-anchor="end" fill="#1a1a1a">0</text>
<line x1="608" y1="173.33" x2="610.4" y2="173.33" stroke="#4a4a4a" stroke-width="1.25"/>
<text transform="translate(607.2,176.33) scale(1.08,1)" font-size="7.9" stroke="#1a1a1a" stroke-width="0.11" text-anchor="end" fill="#1a1a1a">20</text>
<line x1="608" y1="163.37" x2="610.4" y2="163.37" stroke="#4a4a4a" stroke-width="1.25"/>
<text transform="translate(607.2,166.37) scale(1.08,1)" font-size="7.9" stroke="#1a1a1a" stroke-width="0.11" text-anchor="end" fill="#1a1a1a">40</text>
<line x1="608" y1="153.4" x2="610.4" y2="153.4" stroke="#4a4a4a" stroke-width="1.25"/>
<text transform="translate(607.2,156.4) scale(1.08,1)" font-size="7.9" stroke="#1a1a1a" stroke-width="0.11" text-anchor="end" fill="#1a1a1a">60</text>
<line x1="608" y1="143.43" x2="610.4" y2="143.43" stroke="#4a4a4a" stroke-width="1.25"/>
<text transform="translate(607.2,146.43) scale(1.08,1)" font-size="7.9" stroke="#1a1a1a" stroke-width="0.11" text-anchor="end" fill="#1a1a1a">80</text>
<line x1="608" y1="133.47" x2="610.4" y2="133.47" stroke="#4a4a4a" stroke-width="1.25"/>
<text transform="translate(607.2,136.47) scale(1.08,1)" font-size="7.9" stroke="#1a1a1a" stroke-width="0.11" text-anchor="end" fill="#1a1a1a">100</text>
<line x1="608" y1="123.5" x2="610.4" y2="123.5" stroke="#4a4a4a" stroke-width="1.25"/>
<text transform="translate(607.2,126.5) scale(1.08,1)" font-size="7.9" stroke="#1a1a1a" stroke-width="0.11" text-anchor="end" fill="#1a1a1a">120</text>
<line x1="608" y1="183.3" x2="676.98" y2="183.3" stroke="#4a4a4a" stroke-width="1.25"/>
<line x1="618.4" y1="183.3" x2="618.4" y2="185.5" stroke="#4a4a4a" stroke-width="1.25"/>
<text transform="translate(618.4,193.5) scale(0.98,1)" font-size="8.3" stroke="#1a1a1a" stroke-width="0.12" text-anchor="middle" fill="#1a1a1a">0</text>
<line x1="630.87" y1="183.3" x2="630.87" y2="185.5" stroke="#4a4a4a" stroke-width="1.25"/>
<text transform="translate(630.87,193.5) scale(0.98,1)" font-size="8.3" stroke="#1a1a1a" stroke-width="0.12" text-anchor="middle" fill="#1a1a1a">0.5</text>
<line x1="643.34" y1="183.3" x2="643.34" y2="185.5" stroke="#4a4a4a" stroke-width="1.25"/>
<text transform="translate(643.34,193.5) scale(0.98,1)" font-size="8.3" stroke="#1a1a1a" stroke-width="0.12" text-anchor="middle" fill="#1a1a1a">1</text>
<line x1="655.81" y1="183.3" x2="655.81" y2="185.5" stroke="#4a4a4a" stroke-width="1.25"/>
<text transform="translate(655.81,193.5) scale(0.98,1)" font-size="8.3" stroke="#1a1a1a" stroke-width="0.12" text-anchor="middle" fill="#1a1a1a">5</text>
<line x1="668.28" y1="183.3" x2="668.28" y2="185.5" stroke="#4a4a4a" stroke-width="1.25"/>
<text transform="translate(668.28,193.5) scale(0.98,1)" font-size="8.3" stroke="#1a1a1a" stroke-width="0.12" text-anchor="middle" fill="#1a1a1a">10</text>
<text transform="translate(643.3,115.1) scale(1.03,1)" font-size="8.6" font-weight="bold" stroke="#111" stroke-width="0.15" text-anchor="middle" fill="#111">EV207</text>
<polyline points="618.4,133.6 630.87,133.6 643.34,136.8 655.81,136 668.28,143.8" fill="none" stroke="#6464f4" stroke-width="1.1"/>
<line x1="618.4" y1="130.7" x2="618.4" y2="136.5" stroke="#6a6af5" stroke-width="0.9"/>
<line x1="617.1" y1="130.7" x2="619.7" y2="130.7" stroke="#3c3cf2" stroke-width="1"/>
<line x1="617.1" y1="136.5" x2="619.7" y2="136.5" stroke="#3c3cf2" stroke-width="1"/>
<rect x="617.3" y="132.5" width="2.2" height="2.2" fill="#3c3cf2"/>
<line x1="630.87" y1="131.8" x2="630.87" y2="135.4" stroke="#6a6af5" stroke-width="0.9"/>
<line x1="629.57" y1="131.8" x2="632.17" y2="131.8" stroke="#3c3cf2" stroke-width="1"/>
<line x1="629.57" y1="135.4" x2="632.17" y2="135.4" stroke="#3c3cf2" stroke-width="1"/>
<rect x="629.77" y="132.5" width="2.2" height="2.2" fill="#3c3cf2"/>
<line x1="643.34" y1="135" x2="643.34" y2="138.6" stroke="#6a6af5" stroke-width="0.9"/>
<line x1="642.04" y1="135" x2="644.64" y2="135" stroke="#3c3cf2" stroke-width="1"/>
<line x1="642.04" y1="138.6" x2="644.64" y2="138.6" stroke="#3c3cf2" stroke-width="1"/>
<rect x="642.24" y="135.7" width="2.2" height="2.2" fill="#3c3cf2"/>
<line x1="655.81" y1="131.4" x2="655.81" y2="140.6" stroke="#6a6af5" stroke-width="0.9"/>
<line x1="654.51" y1="131.4" x2="657.11" y2="131.4" stroke="#3c3cf2" stroke-width="1"/>
<line x1="654.51" y1="140.6" x2="657.11" y2="140.6" stroke="#3c3cf2" stroke-width="1"/>
<rect x="654.71" y="134.9" width="2.2" height="2.2" fill="#3c3cf2"/>
<line x1="668.28" y1="141.6" x2="668.28" y2="146" stroke="#6a6af5" stroke-width="0.9"/>
<line x1="666.98" y1="141.6" x2="669.58" y2="141.6" stroke="#3c3cf2" stroke-width="1"/>
<line x1="666.98" y1="146" x2="669.58" y2="146" stroke="#3c3cf2" stroke-width="1"/>
<rect x="667.18" y="142.7" width="2.2" height="2.2" fill="#3c3cf2"/>
<text transform="translate(668.73,141.8)" font-size="7.3" letter-spacing="0.9" stroke="#000" stroke-width="0.2" text-anchor="middle" fill="#000">***</text>
<line x1="31.3" y1="222.7" x2="31.3" y2="283.5" stroke="#4a4a4a" stroke-width="1.25"/>
<line x1="28.9" y1="283" x2="31.3" y2="283" stroke="#4a4a4a" stroke-width="1.25"/>
<text transform="translate(28.1,286) scale(1.08,1)" font-size="7.9" stroke="#1a1a1a" stroke-width="0.11" text-anchor="end" fill="#1a1a1a">0</text>
<line x1="28.9" y1="273.03" x2="31.3" y2="273.03" stroke="#4a4a4a" stroke-width="1.25"/>
<text transform="translate(28.1,276.03) scale(1.08,1)" font-size="7.9" stroke="#1a1a1a" stroke-width="0.11" text-anchor="end" fill="#1a1a1a">20</text>
<line x1="28.9" y1="263.07" x2="31.3" y2="263.07" stroke="#4a4a4a" stroke-width="1.25"/>
<text transform="translate(28.1,266.07) scale(1.08,1)" font-size="7.9" stroke="#1a1a1a" stroke-width="0.11" text-anchor="end" fill="#1a1a1a">40</text>
<line x1="28.9" y1="253.1" x2="31.3" y2="253.1" stroke="#4a4a4a" stroke-width="1.25"/>
<text transform="translate(28.1,256.1) scale(1.08,1)" font-size="7.9" stroke="#1a1a1a" stroke-width="0.11" text-anchor="end" fill="#1a1a1a">60</text>
<line x1="28.9" y1="243.13" x2="31.3" y2="243.13" stroke="#4a4a4a" stroke-width="1.25"/>
<text transform="translate(28.1,246.13) scale(1.08,1)" font-size="7.9" stroke="#1a1a1a" stroke-width="0.11" text-anchor="end" fill="#1a1a1a">80</text>
<line x1="28.9" y1="233.17" x2="31.3" y2="233.17" stroke="#4a4a4a" stroke-width="1.25"/>
<text transform="translate(28.1,236.17) scale(1.08,1)" font-size="7.9" stroke="#1a1a1a" stroke-width="0.11" text-anchor="end" fill="#1a1a1a">100</text>
<line x1="28.9" y1="223.2" x2="31.3" y2="223.2" stroke="#4a4a4a" stroke-width="1.25"/>
<text transform="translate(28.1,226.2) scale(1.08,1)" font-size="7.9" stroke="#1a1a1a" stroke-width="0.11" text-anchor="end" fill="#1a1a1a">120</text>
<line x1="28.9" y1="283" x2="97.98" y2="283" stroke="#4a4a4a" stroke-width="1.25"/>
<line x1="39.4" y1="283" x2="39.4" y2="285.2" stroke="#4a4a4a" stroke-width="1.25"/>
<text transform="translate(39.4,293.2) scale(0.98,1)" font-size="8.3" stroke="#1a1a1a" stroke-width="0.12" text-anchor="middle" fill="#1a1a1a">0</text>
<line x1="51.87" y1="283" x2="51.87" y2="285.2" stroke="#4a4a4a" stroke-width="1.25"/>
<text transform="translate(51.87,293.2) scale(0.98,1)" font-size="8.3" stroke="#1a1a1a" stroke-width="0.12" text-anchor="middle" fill="#1a1a1a">0.5</text>
<line x1="64.34" y1="283" x2="64.34" y2="285.2" stroke="#4a4a4a" stroke-width="1.25"/>
<text transform="translate(64.34,293.2) scale(0.98,1)" font-size="8.3" stroke="#1a1a1a" stroke-width="0.12" text-anchor="middle" fill="#1a1a1a">1</text>
<line x1="76.81" y1="283" x2="76.81" y2="285.2" stroke="#4a4a4a" stroke-width="1.25"/>
<text transform="translate(76.81,293.2) scale(0.98,1)" font-size="8.3" stroke="#1a1a1a" stroke-width="0.12" text-anchor="middle" fill="#1a1a1a">5</text>
<line x1="89.28" y1="283" x2="89.28" y2="285.2" stroke="#4a4a4a" stroke-width="1.25"/>
<text transform="translate(89.28,293.2) scale(0.98,1)" font-size="8.3" stroke="#1a1a1a" stroke-width="0.12" text-anchor="middle" fill="#1a1a1a">10</text>
<text transform="translate(64.2,215) scale(1.03,1)" font-size="8.6" font-weight="bold" stroke="#111" stroke-width="0.15" text-anchor="middle" fill="#111">EV208</text>
<polyline points="39.4,233.6 51.87,237.3 64.34,238.5 76.81,243.1 89.28,247.2" fill="none" stroke="#6464f4" stroke-width="1.1"/>
<line x1="39.4" y1="230.6" x2="39.4" y2="236.6" stroke="#6a6af5" stroke-width="0.9"/>
<line x1="38.1" y1="230.6" x2="40.7" y2="230.6" stroke="#3c3cf2" stroke-width="1"/>
<line x1="38.1" y1="236.6" x2="40.7" y2="236.6" stroke="#3c3cf2" stroke-width="1"/>
<rect x="38.3" y="232.5" width="2.2" height="2.2" fill="#3c3cf2"/>
<line x1="51.87" y1="235" x2="51.87" y2="239.6" stroke="#6a6af5" stroke-width="0.9"/>
<line x1="50.57" y1="235" x2="53.17" y2="235" stroke="#3c3cf2" stroke-width="1"/>
<line x1="50.57" y1="239.6" x2="53.17" y2="239.6" stroke="#3c3cf2" stroke-width="1"/>
<rect x="50.77" y="236.2" width="2.2" height="2.2" fill="#3c3cf2"/>
<line x1="64.34" y1="236.5" x2="64.34" y2="240.5" stroke="#6a6af5" stroke-width="0.9"/>
<line x1="63.04" y1="236.5" x2="65.64" y2="236.5" stroke="#3c3cf2" stroke-width="1"/>
<line x1="63.04" y1="240.5" x2="65.64" y2="240.5" stroke="#3c3cf2" stroke-width="1"/>
<rect x="63.24" y="237.4" width="2.2" height="2.2" fill="#3c3cf2"/>
<line x1="76.81" y1="241.6" x2="76.81" y2="244.6" stroke="#6a6af5" stroke-width="0.9"/>
<line x1="75.51" y1="241.6" x2="78.11" y2="241.6" stroke="#3c3cf2" stroke-width="1"/>
<line x1="75.51" y1="244.6" x2="78.11" y2="244.6" stroke="#3c3cf2" stroke-width="1"/>
<rect x="75.71" y="242" width="2.2" height="2.2" fill="#3c3cf2"/>
<line x1="89.28" y1="244.2" x2="89.28" y2="250.2" stroke="#6a6af5" stroke-width="0.9"/>
<line x1="87.98" y1="244.2" x2="90.58" y2="244.2" stroke="#3c3cf2" stroke-width="1"/>
<line x1="87.98" y1="250.2" x2="90.58" y2="250.2" stroke="#3c3cf2" stroke-width="1"/>
<rect x="88.18" y="246.1" width="2.2" height="2.2" fill="#3c3cf2"/>
<text transform="translate(52.32,234.8)" font-size="7.3" letter-spacing="0.9" stroke="#000" stroke-width="0.2" text-anchor="middle" fill="#000">*</text>
<text transform="translate(64.79,236.1)" font-size="7.3" letter-spacing="0.9" stroke="#000" stroke-width="0.2" text-anchor="middle" fill="#000">**</text>
<text transform="translate(77.26,242)" font-size="7.3" letter-spacing="0.9" stroke="#000" stroke-width="0.2" text-anchor="middle" fill="#000">***</text>
<text transform="translate(89.73,244)" font-size="7.3" letter-spacing="0.9" stroke="#000" stroke-width="0.2" text-anchor="middle" fill="#000">***</text>
<text transform="translate(8.9,254.7) rotate(-90) scale(1.07,1)" font-size="8.5" font-weight="bold" stroke="#111" stroke-width="0.14" text-anchor="middle" fill="#111">Cell viability (%)</text>
<text transform="translate(30.8,293.2)" font-size="7.9" stroke="#1a1a1a" stroke-width="0.12" text-anchor="end" fill="#1a1a1a">(μM)</text>
<line x1="113.4" y1="222.9" x2="113.4" y2="283.5" stroke="#4a4a4a" stroke-width="1.25"/>
<line x1="111" y1="283" x2="113.4" y2="283" stroke="#4a4a4a" stroke-width="1.25"/>
<text transform="translate(110.2,286) scale(1.08,1)" font-size="7.9" stroke="#1a1a1a" stroke-width="0.11" text-anchor="end" fill="#1a1a1a">0</text>
<line x1="111" y1="273.07" x2="113.4" y2="273.07" stroke="#4a4a4a" stroke-width="1.25"/>
<text transform="translate(110.2,276.07) scale(1.08,1)" font-size="7.9" stroke="#1a1a1a" stroke-width="0.11" text-anchor="end" fill="#1a1a1a">20</text>
<line x1="111" y1="263.13" x2="113.4" y2="263.13" stroke="#4a4a4a" stroke-width="1.25"/>
<text transform="translate(110.2,266.13) scale(1.08,1)" font-size="7.9" stroke="#1a1a1a" stroke-width="0.11" text-anchor="end" fill="#1a1a1a">40</text>
<line x1="111" y1="253.2" x2="113.4" y2="253.2" stroke="#4a4a4a" stroke-width="1.25"/>
<text transform="translate(110.2,256.2) scale(1.08,1)" font-size="7.9" stroke="#1a1a1a" stroke-width="0.11" text-anchor="end" fill="#1a1a1a">60</text>
<line x1="111" y1="243.27" x2="113.4" y2="243.27" stroke="#4a4a4a" stroke-width="1.25"/>
<text transform="translate(110.2,246.27) scale(1.08,1)" font-size="7.9" stroke="#1a1a1a" stroke-width="0.11" text-anchor="end" fill="#1a1a1a">80</text>
<line x1="111" y1="233.33" x2="113.4" y2="233.33" stroke="#4a4a4a" stroke-width="1.25"/>
<text transform="translate(110.2,236.33) scale(1.08,1)" font-size="7.9" stroke="#1a1a1a" stroke-width="0.11" text-anchor="end" fill="#1a1a1a">100</text>
<line x1="111" y1="223.4" x2="113.4" y2="223.4" stroke="#4a4a4a" stroke-width="1.25"/>
<text transform="translate(110.2,226.4) scale(1.08,1)" font-size="7.9" stroke="#1a1a1a" stroke-width="0.11" text-anchor="end" fill="#1a1a1a">120</text>
<line x1="111" y1="283" x2="179.98" y2="283" stroke="#4a4a4a" stroke-width="1.25"/>
<line x1="121.4" y1="283" x2="121.4" y2="285.2" stroke="#4a4a4a" stroke-width="1.25"/>
<text transform="translate(121.4,293.2) scale(0.98,1)" font-size="8.3" stroke="#1a1a1a" stroke-width="0.12" text-anchor="middle" fill="#1a1a1a">0</text>
<line x1="133.87" y1="283" x2="133.87" y2="285.2" stroke="#4a4a4a" stroke-width="1.25"/>
<text transform="translate(133.87,293.2) scale(0.98,1)" font-size="8.3" stroke="#1a1a1a" stroke-width="0.12" text-anchor="middle" fill="#1a1a1a">0.5</text>
<line x1="146.34" y1="283" x2="146.34" y2="285.2" stroke="#4a4a4a" stroke-width="1.25"/>
<text transform="translate(146.34,293.2) scale(0.98,1)" font-size="8.3" stroke="#1a1a1a" stroke-width="0.12" text-anchor="middle" fill="#1a1a1a">1</text>
<line x1="158.81" y1="283" x2="158.81" y2="285.2" stroke="#4a4a4a" stroke-width="1.25"/>
<text transform="translate(158.81,293.2) scale(0.98,1)" font-size="8.3" stroke="#1a1a1a" stroke-width="0.12" text-anchor="middle" fill="#1a1a1a">5</text>
<line x1="171.28" y1="283" x2="171.28" y2="285.2" stroke="#4a4a4a" stroke-width="1.25"/>
<text transform="translate(171.28,293.2) scale(0.98,1)" font-size="8.3" stroke="#1a1a1a" stroke-width="0.12" text-anchor="middle" fill="#1a1a1a">10</text>
<text transform="translate(146.3,215) scale(1.03,1)" font-size="8.6" font-weight="bold" stroke="#111" stroke-width="0.15" text-anchor="middle" fill="#111">EV209</text>
<polyline points="121.4,233.6 133.87,233.6 146.34,233.6 158.81,246.7 171.28,257.9" fill="none" stroke="#6464f4" stroke-width="1.1"/>
<line x1="121.4" y1="231.6" x2="121.4" y2="235.6" stroke="#6a6af5" stroke-width="0.9"/>
<line x1="120.1" y1="231.6" x2="122.7" y2="231.6" stroke="#3c3cf2" stroke-width="1"/>
<line x1="120.1" y1="235.6" x2="122.7" y2="235.6" stroke="#3c3cf2" stroke-width="1"/>
<rect x="120.3" y="232.5" width="2.2" height="2.2" fill="#3c3cf2"/>
<line x1="133.87" y1="230.4" x2="133.87" y2="236.8" stroke="#6a6af5" stroke-width="0.9"/>
<line x1="132.57" y1="230.4" x2="135.17" y2="230.4" stroke="#3c3cf2" stroke-width="1"/>
<line x1="132.57" y1="236.8" x2="135.17" y2="236.8" stroke="#3c3cf2" stroke-width="1"/>
<rect x="132.77" y="232.5" width="2.2" height="2.2" fill="#3c3cf2"/>
<line x1="146.34" y1="230.1" x2="146.34" y2="237.1" stroke="#6a6af5" stroke-width="0.9"/>
<line x1="145.04" y1="230.1" x2="147.64" y2="230.1" stroke="#3c3cf2" stroke-width="1"/>
<line x1="145.04" y1="237.1" x2="147.64" y2="237.1" stroke="#3c3cf2" stroke-width="1"/>
<rect x="145.24" y="232.5" width="2.2" height="2.2" fill="#3c3cf2"/>
<line x1="158.81" y1="244.9" x2="158.81" y2="248.5" stroke="#6a6af5" stroke-width="0.9"/>
<line x1="157.51" y1="244.9" x2="160.11" y2="244.9" stroke="#3c3cf2" stroke-width="1"/>
<line x1="157.51" y1="248.5" x2="160.11" y2="248.5" stroke="#3c3cf2" stroke-width="1"/>
<rect x="157.71" y="245.6" width="2.2" height="2.2" fill="#3c3cf2"/>
<line x1="171.28" y1="255.9" x2="171.28" y2="259.9" stroke="#6a6af5" stroke-width="0.9"/>
<line x1="169.98" y1="255.9" x2="172.58" y2="255.9" stroke="#3c3cf2" stroke-width="1"/>
<line x1="169.98" y1="259.9" x2="172.58" y2="259.9" stroke="#3c3cf2" stroke-width="1"/>
<rect x="170.18" y="256.8" width="2.2" height="2.2" fill="#3c3cf2"/>
<text transform="translate(159.26,245.3)" font-size="7.3" letter-spacing="0.9" stroke="#000" stroke-width="0.2" text-anchor="middle" fill="#000">***</text>
<text transform="translate(171.73,256.1)" font-size="7.3" letter-spacing="0.9" stroke="#000" stroke-width="0.2" text-anchor="middle" fill="#000">***</text>
<line x1="195.6" y1="222.9" x2="195.6" y2="283.7" stroke="#4a4a4a" stroke-width="1.25"/>
<line x1="193.2" y1="283.2" x2="195.6" y2="283.2" stroke="#4a4a4a" stroke-width="1.25"/>
<text transform="translate(192.4,286.2) scale(1.08,1)" font-size="7.9" stroke="#1a1a1a" stroke-width="0.11" text-anchor="end" fill="#1a1a1a">0</text>
<line x1="193.2" y1="273.23" x2="195.6" y2="273.23" stroke="#4a4a4a" stroke-width="1.25"/>
<text transform="translate(192.4,276.23) scale(1.08,1)" font-size="7.9" stroke="#1a1a1a" stroke-width="0.11" text-anchor="end" fill="#1a1a1a">20</text>
<line x1="193.2" y1="263.27" x2="195.6" y2="263.27" stroke="#4a4a4a" stroke-width="1.25"/>
<text transform="translate(192.4,266.27) scale(1.08,1)" font-size="7.9" stroke="#1a1a1a" stroke-width="0.11" text-anchor="end" fill="#1a1a1a">40</text>
<line x1="193.2" y1="253.3" x2="195.6" y2="253.3" stroke="#4a4a4a" stroke-width="1.25"/>
<text transform="translate(192.4,256.3) scale(1.08,1)" font-size="7.9" stroke="#1a1a1a" stroke-width="0.11" text-anchor="end" fill="#1a1a1a">60</text>
<line x1="193.2" y1="243.33" x2="195.6" y2="243.33" stroke="#4a4a4a" stroke-width="1.25"/>
<text transform="translate(192.4,246.33) scale(1.08,1)" font-size="7.9" stroke="#1a1a1a" stroke-width="0.11" text-anchor="end" fill="#1a1a1a">80</text>
<line x1="193.2" y1="233.37" x2="195.6" y2="233.37" stroke="#4a4a4a" stroke-width="1.25"/>
<text transform="translate(192.4,236.37) scale(1.08,1)" font-size="7.9" stroke="#1a1a1a" stroke-width="0.11" text-anchor="end" fill="#1a1a1a">100</text>
<line x1="193.2" y1="223.4" x2="195.6" y2="223.4" stroke="#4a4a4a" stroke-width="1.25"/>
<text transform="translate(192.4,226.4) scale(1.08,1)" font-size="7.9" stroke="#1a1a1a" stroke-width="0.11" text-anchor="end" fill="#1a1a1a">120</text>
<line x1="193.2" y1="283.2" x2="262.58" y2="283.2" stroke="#4a4a4a" stroke-width="1.25"/>
<line x1="204" y1="283.2" x2="204" y2="285.4" stroke="#4a4a4a" stroke-width="1.25"/>
<text transform="translate(204,293.4) scale(0.98,1)" font-size="8.3" stroke="#1a1a1a" stroke-width="0.12" text-anchor="middle" fill="#1a1a1a">0</text>
<line x1="216.47" y1="283.2" x2="216.47" y2="285.4" stroke="#4a4a4a" stroke-width="1.25"/>
<text transform="translate(216.47,293.4) scale(0.98,1)" font-size="8.3" stroke="#1a1a1a" stroke-width="0.12" text-anchor="middle" fill="#1a1a1a">0.5</text>
<line x1="228.94" y1="283.2" x2="228.94" y2="285.4" stroke="#4a4a4a" stroke-width="1.25"/>
<text transform="translate(228.94,293.4) scale(0.98,1)" font-size="8.3" stroke="#1a1a1a" stroke-width="0.12" text-anchor="middle" fill="#1a1a1a">1</text>
<line x1="241.41" y1="283.2" x2="241.41" y2="285.4" stroke="#4a4a4a" stroke-width="1.25"/>
<text transform="translate(241.41,293.4) scale(0.98,1)" font-size="8.3" stroke="#1a1a1a" stroke-width="0.12" text-anchor="middle" fill="#1a1a1a">5</text>
<line x1="253.88" y1="283.2" x2="253.88" y2="285.4" stroke="#4a4a4a" stroke-width="1.25"/>
<text transform="translate(253.88,293.4) scale(0.98,1)" font-size="8.3" stroke="#1a1a1a" stroke-width="0.12" text-anchor="middle" fill="#1a1a1a">10</text>
<text transform="translate(228.5,215) scale(1.03,1)" font-size="8.6" font-weight="bold" stroke="#111" stroke-width="0.15" text-anchor="middle" fill="#111">EV210</text>
<polyline points="204,233.9 216.47,236.8 228.94,236.8 241.41,246.7 253.88,260.7" fill="none" stroke="#6464f4" stroke-width="1.1"/>
<line x1="204" y1="231.9" x2="204" y2="235.9" stroke="#6a6af5" stroke-width="0.9"/>
<line x1="202.7" y1="231.9" x2="205.3" y2="231.9" stroke="#3c3cf2" stroke-width="1"/>
<line x1="202.7" y1="235.9" x2="205.3" y2="235.9" stroke="#3c3cf2" stroke-width="1"/>
<rect x="202.9" y="232.8" width="2.2" height="2.2" fill="#3c3cf2"/>
<line x1="216.47" y1="234.8" x2="216.47" y2="238.8" stroke="#6a6af5" stroke-width="0.9"/>
<line x1="215.17" y1="234.8" x2="217.77" y2="234.8" stroke="#3c3cf2" stroke-width="1"/>
<line x1="215.17" y1="238.8" x2="217.77" y2="238.8" stroke="#3c3cf2" stroke-width="1"/>
<rect x="215.37" y="235.7" width="2.2" height="2.2" fill="#3c3cf2"/>
<line x1="228.94" y1="233.8" x2="228.94" y2="239.8" stroke="#6a6af5" stroke-width="0.9"/>
<line x1="227.64" y1="233.8" x2="230.24" y2="233.8" stroke="#3c3cf2" stroke-width="1"/>
<line x1="227.64" y1="239.8" x2="230.24" y2="239.8" stroke="#3c3cf2" stroke-width="1"/>
<rect x="227.84" y="235.7" width="2.2" height="2.2" fill="#3c3cf2"/>
<line x1="241.41" y1="244.7" x2="241.41" y2="248.7" stroke="#6a6af5" stroke-width="0.9"/>
<line x1="240.11" y1="244.7" x2="242.71" y2="244.7" stroke="#3c3cf2" stroke-width="1"/>
<line x1="240.11" y1="248.7" x2="242.71" y2="248.7" stroke="#3c3cf2" stroke-width="1"/>
<rect x="240.31" y="245.6" width="2.2" height="2.2" fill="#3c3cf2"/>
<line x1="253.88" y1="258.7" x2="253.88" y2="262.7" stroke="#6a6af5" stroke-width="0.9"/>
<line x1="252.58" y1="258.7" x2="255.18" y2="258.7" stroke="#3c3cf2" stroke-width="1"/>
<line x1="252.58" y1="262.7" x2="255.18" y2="262.7" stroke="#3c3cf2" stroke-width="1"/>
<rect x="252.78" y="259.6" width="2.2" height="2.2" fill="#3c3cf2"/>
<text transform="translate(241.86,244.9)" font-size="7.3" letter-spacing="0.9" stroke="#000" stroke-width="0.2" text-anchor="middle" fill="#000">***</text>
<text transform="translate(254.33,259.4)" font-size="7.3" letter-spacing="0.9" stroke="#000" stroke-width="0.2" text-anchor="middle" fill="#000">***</text>
<line x1="277.4" y1="222.9" x2="277.4" y2="283.6" stroke="#4a4a4a" stroke-width="1.25"/>
<line x1="275" y1="283.1" x2="277.4" y2="283.1" stroke="#4a4a4a" stroke-width="1.25"/>
<text transform="translate(274.2,286.1) scale(1.08,1)" font-size="7.9" stroke="#1a1a1a" stroke-width="0.11" text-anchor="end" fill="#1a1a1a">0</text>
<line x1="275" y1="273.15" x2="277.4" y2="273.15" stroke="#4a4a4a" stroke-width="1.25"/>
<text transform="translate(274.2,276.15) scale(1.08,1)" font-size="7.9" stroke="#1a1a1a" stroke-width="0.11" text-anchor="end" fill="#1a1a1a">20</text>
<line x1="275" y1="263.2" x2="277.4" y2="263.2" stroke="#4a4a4a" stroke-width="1.25"/>
<text transform="translate(274.2,266.2) scale(1.08,1)" font-size="7.9" stroke="#1a1a1a" stroke-width="0.11" text-anchor="end" fill="#1a1a1a">40</text>
<line x1="275" y1="253.25" x2="277.4" y2="253.25" stroke="#4a4a4a" stroke-width="1.25"/>
<text transform="translate(274.2,256.25) scale(1.08,1)" font-size="7.9" stroke="#1a1a1a" stroke-width="0.11" text-anchor="end" fill="#1a1a1a">60</text>
<line x1="275" y1="243.3" x2="277.4" y2="243.3" stroke="#4a4a4a" stroke-width="1.25"/>
<text transform="translate(274.2,246.3) scale(1.08,1)" font-size="7.9" stroke="#1a1a1a" stroke-width="0.11" text-anchor="end" fill="#1a1a1a">80</text>
<line x1="275" y1="233.35" x2="277.4" y2="233.35" stroke="#4a4a4a" stroke-width="1.25"/>
<text transform="translate(274.2,236.35) scale(1.08,1)" font-size="7.9" stroke="#1a1a1a" stroke-width="0.11" text-anchor="end" fill="#1a1a1a">100</text>
<line x1="275" y1="223.4" x2="277.4" y2="223.4" stroke="#4a4a4a" stroke-width="1.25"/>
<text transform="translate(274.2,226.4) scale(1.08,1)" font-size="7.9" stroke="#1a1a1a" stroke-width="0.11" text-anchor="end" fill="#1a1a1a">120</text>
<line x1="275" y1="283.1" x2="344.28" y2="283.1" stroke="#4a4a4a" stroke-width="1.25"/>
<line x1="285.7" y1="283.1" x2="285.7" y2="285.3" stroke="#4a4a4a" stroke-width="1.25"/>
<text transform="translate(285.7,293.3) scale(0.98,1)" font-size="8.3" stroke="#1a1a1a" stroke-width="0.12" text-anchor="middle" fill="#1a1a1a">0</text>
<line x1="298.17" y1="283.1" x2="298.17" y2="285.3" stroke="#4a4a4a" stroke-width="1.25"/>
<text transform="translate(298.17,293.3) scale(0.98,1)" font-size="8.3" stroke="#1a1a1a" stroke-width="0.12" text-anchor="middle" fill="#1a1a1a">0.5</text>
<line x1="310.64" y1="283.1" x2="310.64" y2="285.3" stroke="#4a4a4a" stroke-width="1.25"/>
<text transform="translate(310.64,293.3) scale(0.98,1)" font-size="8.3" stroke="#1a1a1a" stroke-width="0.12" text-anchor="middle" fill="#1a1a1a">1</text>
<line x1="323.11" y1="283.1" x2="323.11" y2="285.3" stroke="#4a4a4a" stroke-width="1.25"/>
<text transform="translate(323.11,293.3) scale(0.98,1)" font-size="8.3" stroke="#1a1a1a" stroke-width="0.12" text-anchor="middle" fill="#1a1a1a">5</text>
<line x1="335.58" y1="283.1" x2="335.58" y2="285.3" stroke="#4a4a4a" stroke-width="1.25"/>
<text transform="translate(335.58,293.3) scale(0.98,1)" font-size="8.3" stroke="#1a1a1a" stroke-width="0.12" text-anchor="middle" fill="#1a1a1a">10</text>
<text transform="translate(310.3,215) scale(1.03,1)" font-size="8.6" font-weight="bold" stroke="#111" stroke-width="0.15" text-anchor="middle" fill="#111">EV211</text>
<polyline points="285.7,233.7 298.17,233.7 310.64,233.6 323.11,238 335.58,253" fill="none" stroke="#6464f4" stroke-width="1.1"/>
<line x1="285.7" y1="231" x2="285.7" y2="236.4" stroke="#6a6af5" stroke-width="0.9"/>
<line x1="284.4" y1="231" x2="287" y2="231" stroke="#3c3cf2" stroke-width="1"/>
<line x1="284.4" y1="236.4" x2="287" y2="236.4" stroke="#3c3cf2" stroke-width="1"/>
<rect x="284.6" y="232.6" width="2.2" height="2.2" fill="#3c3cf2"/>
<line x1="298.17" y1="230" x2="298.17" y2="237.4" stroke="#6a6af5" stroke-width="0.9"/>
<line x1="296.87" y1="230" x2="299.47" y2="230" stroke="#3c3cf2" stroke-width="1"/>
<line x1="296.87" y1="237.4" x2="299.47" y2="237.4" stroke="#3c3cf2" stroke-width="1"/>
<rect x="297.07" y="232.6" width="2.2" height="2.2" fill="#3c3cf2"/>
<line x1="310.64" y1="230.4" x2="310.64" y2="236.8" stroke="#6a6af5" stroke-width="0.9"/>
<line x1="309.34" y1="230.4" x2="311.94" y2="230.4" stroke="#3c3cf2" stroke-width="1"/>
<line x1="309.34" y1="236.8" x2="311.94" y2="236.8" stroke="#3c3cf2" stroke-width="1"/>
<rect x="309.54" y="232.5" width="2.2" height="2.2" fill="#3c3cf2"/>
<line x1="323.11" y1="234.3" x2="323.11" y2="241.7" stroke="#6a6af5" stroke-width="0.9"/>
<line x1="321.81" y1="234.3" x2="324.41" y2="234.3" stroke="#3c3cf2" stroke-width="1"/>
<line x1="321.81" y1="241.7" x2="324.41" y2="241.7" stroke="#3c3cf2" stroke-width="1"/>
<rect x="322.01" y="236.9" width="2.2" height="2.2" fill="#3c3cf2"/>
<line x1="335.58" y1="252" x2="335.58" y2="254" stroke="#6a6af5" stroke-width="0.9"/>
<line x1="334.28" y1="252" x2="336.88" y2="252" stroke="#3c3cf2" stroke-width="1"/>
<line x1="334.28" y1="254" x2="336.88" y2="254" stroke="#3c3cf2" stroke-width="1"/>
<rect x="334.48" y="251.9" width="2.2" height="2.2" fill="#3c3cf2"/>
<text transform="translate(323.56,234.6)" font-size="7.3" letter-spacing="0.9" stroke="#000" stroke-width="0.2" text-anchor="middle" fill="#000">*</text>
<text transform="translate(336.03,251.4)" font-size="7.3" letter-spacing="0.9" stroke="#000" stroke-width="0.2" text-anchor="middle" fill="#000">***</text>
<line x1="361.6" y1="222.9" x2="361.6" y2="283.6" stroke="#4a4a4a" stroke-width="1.25"/>
<line x1="359.2" y1="283.1" x2="361.6" y2="283.1" stroke="#4a4a4a" stroke-width="1.25"/>
<text transform="translate(358.4,286.1) scale(1.08,1)" font-size="7.9" stroke="#1a1a1a" stroke-width="0.11" text-anchor="end" fill="#1a1a1a">0</text>
<line x1="359.2" y1="273.15" x2="361.6" y2="273.15" stroke="#4a4a4a" stroke-width="1.25"/>
<text transform="translate(358.4,276.15) scale(1.08,1)" font-size="7.9" stroke="#1a1a1a" stroke-width="0.11" text-anchor="end" fill="#1a1a1a">20</text>
<line x1="359.2" y1="263.2" x2="361.6" y2="263.2" stroke="#4a4a4a" stroke-width="1.25"/>
<text transform="translate(358.4,266.2) scale(1.08,1)" font-size="7.9" stroke="#1a1a1a" stroke-width="0.11" text-anchor="end" fill="#1a1a1a">40</text>
<line x1="359.2" y1="253.25" x2="361.6" y2="253.25" stroke="#4a4a4a" stroke-width="1.25"/>
<text transform="translate(358.4,256.25) scale(1.08,1)" font-size="7.9" stroke="#1a1a1a" stroke-width="0.11" text-anchor="end" fill="#1a1a1a">60</text>
<line x1="359.2" y1="243.3" x2="361.6" y2="243.3" stroke="#4a4a4a" stroke-width="1.25"/>
<text transform="translate(358.4,246.3) scale(1.08,1)" font-size="7.9" stroke="#1a1a1a" stroke-width="0.11" text-anchor="end" fill="#1a1a1a">80</text>
<line x1="359.2" y1="233.35" x2="361.6" y2="233.35" stroke="#4a4a4a" stroke-width="1.25"/>
<text transform="translate(358.4,236.35) scale(1.08,1)" font-size="7.9" stroke="#1a1a1a" stroke-width="0.11" text-anchor="end" fill="#1a1a1a">100</text>
<line x1="359.2" y1="223.4" x2="361.6" y2="223.4" stroke="#4a4a4a" stroke-width="1.25"/>
<text transform="translate(358.4,226.4) scale(1.08,1)" font-size="7.9" stroke="#1a1a1a" stroke-width="0.11" text-anchor="end" fill="#1a1a1a">120</text>
<line x1="359.2" y1="283.1" x2="428.28" y2="283.1" stroke="#4a4a4a" stroke-width="1.25"/>
<line x1="369.7" y1="283.1" x2="369.7" y2="285.3" stroke="#4a4a4a" stroke-width="1.25"/>
<text transform="translate(369.7,293.3) scale(0.98,1)" font-size="8.3" stroke="#1a1a1a" stroke-width="0.12" text-anchor="middle" fill="#1a1a1a">0</text>
<line x1="382.17" y1="283.1" x2="382.17" y2="285.3" stroke="#4a4a4a" stroke-width="1.25"/>
<text transform="translate(382.17,293.3) scale(0.98,1)" font-size="8.3" stroke="#1a1a1a" stroke-width="0.12" text-anchor="middle" fill="#1a1a1a">0.5</text>
<line x1="394.64" y1="283.1" x2="394.64" y2="285.3" stroke="#4a4a4a" stroke-width="1.25"/>
<text transform="translate(394.64,293.3) scale(0.98,1)" font-size="8.3" stroke="#1a1a1a" stroke-width="0.12" text-anchor="middle" fill="#1a1a1a">1</text>
<line x1="407.11" y1="283.1" x2="407.11" y2="285.3" stroke="#4a4a4a" stroke-width="1.25"/>
<text transform="translate(407.11,293.3) scale(0.98,1)" font-size="8.3" stroke="#1a1a1a" stroke-width="0.12" text-anchor="middle" fill="#1a1a1a">5</text>
<line x1="419.58" y1="283.1" x2="419.58" y2="285.3" stroke="#4a4a4a" stroke-width="1.25"/>
<text transform="translate(419.58,293.3) scale(0.98,1)" font-size="8.3" stroke="#1a1a1a" stroke-width="0.12" text-anchor="middle" fill="#1a1a1a">10</text>
<text transform="translate(394.5,215) scale(1.03,1)" font-size="8.6" font-weight="bold" stroke="#111" stroke-width="0.15" text-anchor="middle" fill="#111">EV212</text>
<polyline points="369.7,233.7 382.17,239 394.64,241.8 407.11,262.5 419.58,262.5" fill="none" stroke="#6464f4" stroke-width="1.1"/>
<line x1="369.7" y1="229.1" x2="369.7" y2="238.3" stroke="#6a6af5" stroke-width="0.9"/>
<line x1="368.4" y1="229.1" x2="371" y2="229.1" stroke="#3c3cf2" stroke-width="1"/>
<line x1="368.4" y1="238.3" x2="371" y2="238.3" stroke="#3c3cf2" stroke-width="1"/>
<rect x="368.6" y="232.6" width="2.2" height="2.2" fill="#3c3cf2"/>
<line x1="382.17" y1="235.5" x2="382.17" y2="242.5" stroke="#6a6af5" stroke-width="0.9"/>
<line x1="380.87" y1="235.5" x2="383.47" y2="235.5" stroke="#3c3cf2" stroke-width="1"/>
<line x1="380.87" y1="242.5" x2="383.47" y2="242.5" stroke="#3c3cf2" stroke-width="1"/>
<rect x="381.07" y="237.9" width="2.2" height="2.2" fill="#3c3cf2"/>
<line x1="394.64" y1="237.3" x2="394.64" y2="246.3" stroke="#6a6af5" stroke-width="0.9"/>
<line x1="393.34" y1="237.3" x2="395.94" y2="237.3" stroke="#3c3cf2" stroke-width="1"/>
<line x1="393.34" y1="246.3" x2="395.94" y2="246.3" stroke="#3c3cf2" stroke-width="1"/>
<rect x="393.54" y="240.7" width="2.2" height="2.2" fill="#3c3cf2"/>
<rect x="406.01" y="261.4" width="2.2" height="2.2" fill="#3c3cf2"/>
<rect x="418.48" y="261.4" width="2.2" height="2.2" fill="#3c3cf2"/>
<text transform="translate(382.62,235.7)" font-size="7.3" letter-spacing="0.9" stroke="#000" stroke-width="0.2" text-anchor="middle" fill="#000">*</text>
<text transform="translate(395.09,237.2)" font-size="7.3" letter-spacing="0.9" stroke="#000" stroke-width="0.2" text-anchor="middle" fill="#000">***</text>
<text transform="translate(407.56,261.4)" font-size="7.3" letter-spacing="0.9" stroke="#000" stroke-width="0.2" text-anchor="middle" fill="#000">***</text>
<text transform="translate(420.03,261.9)" font-size="7.3" letter-spacing="0.9" stroke="#000" stroke-width="0.2" text-anchor="middle" fill="#000">***</text>
<line x1="444" y1="223.1" x2="444" y2="283.8" stroke="#4a4a4a" stroke-width="1.25"/>
<line x1="441.6" y1="283.3" x2="444" y2="283.3" stroke="#4a4a4a" stroke-width="1.25"/>
<text transform="translate(440.8,286.3) scale(1.08,1)" font-size="7.9" stroke="#1a1a1a" stroke-width="0.11" text-anchor="end" fill="#1a1a1a">0</text>
<line x1="441.6" y1="273.35" x2="444" y2="273.35" stroke="#4a4a4a" stroke-width="1.25"/>
<text transform="translate(440.8,276.35) scale(1.08,1)" font-size="7.9" stroke="#1a1a1a" stroke-width="0.11" text-anchor="end" fill="#1a1a1a">20</text>
<line x1="441.6" y1="263.4" x2="444" y2="263.4" stroke="#4a4a4a" stroke-width="1.25"/>
<text transform="translate(440.8,266.4) scale(1.08,1)" font-size="7.9" stroke="#1a1a1a" stroke-width="0.11" text-anchor="end" fill="#1a1a1a">40</text>
<line x1="441.6" y1="253.45" x2="444" y2="253.45" stroke="#4a4a4a" stroke-width="1.25"/>
<text transform="translate(440.8,256.45) scale(1.08,1)" font-size="7.9" stroke="#1a1a1a" stroke-width="0.11" text-anchor="end" fill="#1a1a1a">60</text>
<line x1="441.6" y1="243.5" x2="444" y2="243.5" stroke="#4a4a4a" stroke-width="1.25"/>
<text transform="translate(440.8,246.5) scale(1.08,1)" font-size="7.9" stroke="#1a1a1a" stroke-width="0.11" text-anchor="end" fill="#1a1a1a">80</text>
<line x1="441.6" y1="233.55" x2="444" y2="233.55" stroke="#4a4a4a" stroke-width="1.25"/>
<text transform="translate(440.8,236.55) scale(1.08,1)" font-size="7.9" stroke="#1a1a1a" stroke-width="0.11" text-anchor="end" fill="#1a1a1a">100</text>
<line x1="441.6" y1="223.6" x2="444" y2="223.6" stroke="#4a4a4a" stroke-width="1.25"/>
<text transform="translate(440.8,226.6) scale(1.08,1)" font-size="7.9" stroke="#1a1a1a" stroke-width="0.11" text-anchor="end" fill="#1a1a1a">120</text>
<line x1="441.6" y1="283.3" x2="510.88" y2="283.3" stroke="#4a4a4a" stroke-width="1.25"/>
<line x1="452.3" y1="283.3" x2="452.3" y2="285.5" stroke="#4a4a4a" stroke-width="1.25"/>
<text transform="translate(452.3,293.5) scale(0.98,1)" font-size="8.3" stroke="#1a1a1a" stroke-width="0.12" text-anchor="middle" fill="#1a1a1a">0</text>
<line x1="464.77" y1="283.3" x2="464.77" y2="285.5" stroke="#4a4a4a" stroke-width="1.25"/>
<text transform="translate(464.77,293.5) scale(0.98,1)" font-size="8.3" stroke="#1a1a1a" stroke-width="0.12" text-anchor="middle" fill="#1a1a1a">0.5</text>
<line x1="477.24" y1="283.3" x2="477.24" y2="285.5" stroke="#4a4a4a" stroke-width="1.25"/>
<text transform="translate(477.24,293.5) scale(0.98,1)" font-size="8.3" stroke="#1a1a1a" stroke-width="0.12" text-anchor="middle" fill="#1a1a1a">1</text>
<line x1="489.71" y1="283.3" x2="489.71" y2="285.5" stroke="#4a4a4a" stroke-width="1.25"/>
<text transform="translate(489.71,293.5) scale(0.98,1)" font-size="8.3" stroke="#1a1a1a" stroke-width="0.12" text-anchor="middle" fill="#1a1a1a">5</text>
<line x1="502.18" y1="283.3" x2="502.18" y2="285.5" stroke="#4a4a4a" stroke-width="1.25"/>
<text transform="translate(502.18,293.5) scale(0.98,1)" font-size="8.3" stroke="#1a1a1a" stroke-width="0.12" text-anchor="middle" fill="#1a1a1a">10</text>
<text transform="translate(476.9,215) scale(1.03,1)" font-size="8.6" font-weight="bold" stroke="#111" stroke-width="0.15" text-anchor="middle" fill="#111">EV213</text>
<polyline points="452.3,233.7 464.77,234.4 477.24,235.2 489.71,238.8 502.18,244.1" fill="none" stroke="#6464f4" stroke-width="1.1"/>
<line x1="452.3" y1="230.1" x2="452.3" y2="237.3" stroke="#6a6af5" stroke-width="0.9"/>
<line x1="451" y1="230.1" x2="453.6" y2="230.1" stroke="#3c3cf2" stroke-width="1"/>
<line x1="451" y1="237.3" x2="453.6" y2="237.3" stroke="#3c3cf2" stroke-width="1"/>
<rect x="451.2" y="232.6" width="2.2" height="2.2" fill="#3c3cf2"/>
<line x1="464.77" y1="232.9" x2="464.77" y2="235.9" stroke="#6a6af5" stroke-width="0.9"/>
<line x1="463.47" y1="232.9" x2="466.07" y2="232.9" stroke="#3c3cf2" stroke-width="1"/>
<line x1="463.47" y1="235.9" x2="466.07" y2="235.9" stroke="#3c3cf2" stroke-width="1"/>
<rect x="463.67" y="233.3" width="2.2" height="2.2" fill="#3c3cf2"/>
<line x1="477.24" y1="233.2" x2="477.24" y2="237.2" stroke="#6a6af5" stroke-width="0.9"/>
<line x1="475.94" y1="233.2" x2="478.54" y2="233.2" stroke="#3c3cf2" stroke-width="1"/>
<line x1="475.94" y1="237.2" x2="478.54" y2="237.2" stroke="#3c3cf2" stroke-width="1"/>
<rect x="476.14" y="234.1" width="2.2" height="2.2" fill="#3c3cf2"/>
<line x1="489.71" y1="236.8" x2="489.71" y2="240.8" stroke="#6a6af5" stroke-width="0.9"/>
<line x1="488.41" y1="236.8" x2="491.01" y2="236.8" stroke="#3c3cf2" stroke-width="1"/>
<line x1="488.41" y1="240.8" x2="491.01" y2="240.8" stroke="#3c3cf2" stroke-width="1"/>
<rect x="488.61" y="237.7" width="2.2" height="2.2" fill="#3c3cf2"/>
<line x1="502.18" y1="240" x2="502.18" y2="248.2" stroke="#6a6af5" stroke-width="0.9"/>
<line x1="500.88" y1="240" x2="503.48" y2="240" stroke="#3c3cf2" stroke-width="1"/>
<line x1="500.88" y1="248.2" x2="503.48" y2="248.2" stroke="#3c3cf2" stroke-width="1"/>
<rect x="501.08" y="243" width="2.2" height="2.2" fill="#3c3cf2"/>
<text transform="translate(490.16,236.9)" font-size="7.3" letter-spacing="0.9" stroke="#000" stroke-width="0.2" text-anchor="middle" fill="#000">*</text>
<text transform="translate(502.63,240)" font-size="7.3" letter-spacing="0.9" stroke="#000" stroke-width="0.2" text-anchor="middle" fill="#000">***</text>
<line x1="527.4" y1="223.1" x2="527.4" y2="283.8" stroke="#4a4a4a" stroke-width="1.25"/>
<line x1="525" y1="283.3" x2="527.4" y2="283.3" stroke="#4a4a4a" stroke-width="1.25"/>
<text transform="translate(524.2,286.3) scale(1.08,1)" font-size="7.9" stroke="#1a1a1a" stroke-width="0.11" text-anchor="end" fill="#1a1a1a">0</text>
<line x1="525" y1="273.35" x2="527.4" y2="273.35" stroke="#4a4a4a" stroke-width="1.25"/>
<text transform="translate(524.2,276.35) scale(1.08,1)" font-size="7.9" stroke="#1a1a1a" stroke-width="0.11" text-anchor="end" fill="#1a1a1a">20</text>
<line x1="525" y1="263.4" x2="527.4" y2="263.4" stroke="#4a4a4a" stroke-width="1.25"/>
<text transform="translate(524.2,266.4) scale(1.08,1)" font-size="7.9" stroke="#1a1a1a" stroke-width="0.11" text-anchor="end" fill="#1a1a1a">40</text>
<line x1="525" y1="253.45" x2="527.4" y2="253.45" stroke="#4a4a4a" stroke-width="1.25"/>
<text transform="translate(524.2,256.45) scale(1.08,1)" font-size="7.9" stroke="#1a1a1a" stroke-width="0.11" text-anchor="end" fill="#1a1a1a">60</text>
<line x1="525" y1="243.5" x2="527.4" y2="243.5" stroke="#4a4a4a" stroke-width="1.25"/>
<text transform="translate(524.2,246.5) scale(1.08,1)" font-size="7.9" stroke="#1a1a1a" stroke-width="0.11" text-anchor="end" fill="#1a1a1a">80</text>
<line x1="525" y1="233.55" x2="527.4" y2="233.55" stroke="#4a4a4a" stroke-width="1.25"/>
<text transform="translate(524.2,236.55) scale(1.08,1)" font-size="7.9" stroke="#1a1a1a" stroke-width="0.11" text-anchor="end" fill="#1a1a1a">100</text>
<line x1="525" y1="223.6" x2="527.4" y2="223.6" stroke="#4a4a4a" stroke-width="1.25"/>
<text transform="translate(524.2,226.6) scale(1.08,1)" font-size="7.9" stroke="#1a1a1a" stroke-width="0.11" text-anchor="end" fill="#1a1a1a">120</text>
<line x1="525" y1="283.3" x2="594.58" y2="283.3" stroke="#4a4a4a" stroke-width="1.25"/>
<line x1="536" y1="283.3" x2="536" y2="285.5" stroke="#4a4a4a" stroke-width="1.25"/>
<text transform="translate(536,293.5) scale(0.98,1)" font-size="8.3" stroke="#1a1a1a" stroke-width="0.12" text-anchor="middle" fill="#1a1a1a">0</text>
<line x1="548.47" y1="283.3" x2="548.47" y2="285.5" stroke="#4a4a4a" stroke-width="1.25"/>
<text transform="translate(548.47,293.5) scale(0.98,1)" font-size="8.3" stroke="#1a1a1a" stroke-width="0.12" text-anchor="middle" fill="#1a1a1a">0.5</text>
<line x1="560.94" y1="283.3" x2="560.94" y2="285.5" stroke="#4a4a4a" stroke-width="1.25"/>
<text transform="translate(560.94,293.5) scale(0.98,1)" font-size="8.3" stroke="#1a1a1a" stroke-width="0.12" text-anchor="middle" fill="#1a1a1a">1</text>
<line x1="573.41" y1="283.3" x2="573.41" y2="285.5" stroke="#4a4a4a" stroke-width="1.25"/>
<text transform="translate(573.41,293.5) scale(0.98,1)" font-size="8.3" stroke="#1a1a1a" stroke-width="0.12" text-anchor="middle" fill="#1a1a1a">5</text>
<line x1="585.88" y1="283.3" x2="585.88" y2="285.5" stroke="#4a4a4a" stroke-width="1.25"/>
<text transform="translate(585.88,293.5) scale(0.98,1)" font-size="8.3" stroke="#1a1a1a" stroke-width="0.12" text-anchor="middle" fill="#1a1a1a">10</text>
<text transform="translate(560.3,215) scale(1.03,1)" font-size="8.6" font-weight="bold" stroke="#111" stroke-width="0.15" text-anchor="middle" fill="#111">EV214</text>
<polyline points="536,233.9 548.47,236.8 560.94,233.2 573.41,240.5 585.88,245.5" fill="none" stroke="#6464f4" stroke-width="1.1"/>
<line x1="536" y1="231.4" x2="536" y2="236.4" stroke="#6a6af5" stroke-width="0.9"/>
<line x1="534.7" y1="231.4" x2="537.3" y2="231.4" stroke="#3c3cf2" stroke-width="1"/>
<line x1="534.7" y1="236.4" x2="537.3" y2="236.4" stroke="#3c3cf2" stroke-width="1"/>
<rect x="534.9" y="232.8" width="2.2" height="2.2" fill="#3c3cf2"/>
<line x1="548.47" y1="234.3" x2="548.47" y2="239.3" stroke="#6a6af5" stroke-width="0.9"/>
<line x1="547.17" y1="234.3" x2="549.77" y2="234.3" stroke="#3c3cf2" stroke-width="1"/>
<line x1="547.17" y1="239.3" x2="549.77" y2="239.3" stroke="#3c3cf2" stroke-width="1"/>
<rect x="547.37" y="235.7" width="2.2" height="2.2" fill="#3c3cf2"/>
<line x1="560.94" y1="229.6" x2="560.94" y2="236.8" stroke="#6a6af5" stroke-width="0.9"/>
<line x1="559.64" y1="229.6" x2="562.24" y2="229.6" stroke="#3c3cf2" stroke-width="1"/>
<line x1="559.64" y1="236.8" x2="562.24" y2="236.8" stroke="#3c3cf2" stroke-width="1"/>
<rect x="559.84" y="232.1" width="2.2" height="2.2" fill="#3c3cf2"/>
<line x1="573.41" y1="239" x2="573.41" y2="242" stroke="#6a6af5" stroke-width="0.9"/>
<line x1="572.11" y1="239" x2="574.71" y2="239" stroke="#3c3cf2" stroke-width="1"/>
<line x1="572.11" y1="242" x2="574.71" y2="242" stroke="#3c3cf2" stroke-width="1"/>
<rect x="572.31" y="239.4" width="2.2" height="2.2" fill="#3c3cf2"/>
<line x1="585.88" y1="243.5" x2="585.88" y2="247.5" stroke="#6a6af5" stroke-width="0.9"/>
<line x1="584.58" y1="243.5" x2="587.18" y2="243.5" stroke="#3c3cf2" stroke-width="1"/>
<line x1="584.58" y1="247.5" x2="587.18" y2="247.5" stroke="#3c3cf2" stroke-width="1"/>
<rect x="584.78" y="244.4" width="2.2" height="2.2" fill="#3c3cf2"/>
<text transform="translate(573.86,238.9)" font-size="7.3" letter-spacing="0.9" stroke="#000" stroke-width="0.2" text-anchor="middle" fill="#000">***</text>
<text transform="translate(586.33,243.5)" font-size="7.3" letter-spacing="0.9" stroke="#000" stroke-width="0.2" text-anchor="middle" fill="#000">***</text>
<line x1="610.3" y1="223" x2="610.3" y2="283.8" stroke="#4a4a4a" stroke-width="1.25"/>
<line x1="607.9" y1="283.3" x2="610.3" y2="283.3" stroke="#4a4a4a" stroke-width="1.25"/>
<text transform="translate(607.1,286.3) scale(1.08,1)" font-size="7.9" stroke="#1a1a1a" stroke-width="0.11" text-anchor="end" fill="#1a1a1a">0</text>
<line x1="607.9" y1="273.33" x2="610.3" y2="273.33" stroke="#4a4a4a" stroke-width="1.25"/>
<text transform="translate(607.1,276.33) scale(1.08,1)" font-size="7.9" stroke="#1a1a1a" stroke-width="0.11" text-anchor="end" fill="#1a1a1a">20</text>
<line x1="607.9" y1="263.37" x2="610.3" y2="263.37" stroke="#4a4a4a" stroke-width="1.25"/>
<text transform="translate(607.1,266.37) scale(1.08,1)" font-size="7.9" stroke="#1a1a1a" stroke-width="0.11" text-anchor="end" fill="#1a1a1a">40</text>
<line x1="607.9" y1="253.4" x2="610.3" y2="253.4" stroke="#4a4a4a" stroke-width="1.25"/>
<text transform="translate(607.1,256.4) scale(1.08,1)" font-size="7.9" stroke="#1a1a1a" stroke-width="0.11" text-anchor="end" fill="#1a1a1a">60</text>
<line x1="607.9" y1="243.43" x2="610.3" y2="243.43" stroke="#4a4a4a" stroke-width="1.25"/>
<text transform="translate(607.1,246.43) scale(1.08,1)" font-size="7.9" stroke="#1a1a1a" stroke-width="0.11" text-anchor="end" fill="#1a1a1a">80</text>
<line x1="607.9" y1="233.47" x2="610.3" y2="233.47" stroke="#4a4a4a" stroke-width="1.25"/>
<text transform="translate(607.1,236.47) scale(1.08,1)" font-size="7.9" stroke="#1a1a1a" stroke-width="0.11" text-anchor="end" fill="#1a1a1a">100</text>
<line x1="607.9" y1="223.5" x2="610.3" y2="223.5" stroke="#4a4a4a" stroke-width="1.25"/>
<text transform="translate(607.1,226.5) scale(1.08,1)" font-size="7.9" stroke="#1a1a1a" stroke-width="0.11" text-anchor="end" fill="#1a1a1a">120</text>
<line x1="607.9" y1="283.3" x2="676.98" y2="283.3" stroke="#4a4a4a" stroke-width="1.25"/>
<line x1="618.4" y1="283.3" x2="618.4" y2="285.5" stroke="#4a4a4a" stroke-width="1.25"/>
<text transform="translate(618.4,293.5) scale(0.98,1)" font-size="8.3" stroke="#1a1a1a" stroke-width="0.12" text-anchor="middle" fill="#1a1a1a">0</text>
<line x1="630.87" y1="283.3" x2="630.87" y2="285.5" stroke="#4a4a4a" stroke-width="1.25"/>
<text transform="translate(630.87,293.5) scale(0.98,1)" font-size="8.3" stroke="#1a1a1a" stroke-width="0.12" text-anchor="middle" fill="#1a1a1a">0.5</text>
<line x1="643.34" y1="283.3" x2="643.34" y2="285.5" stroke="#4a4a4a" stroke-width="1.25"/>
<text transform="translate(643.34,293.5) scale(0.98,1)" font-size="8.3" stroke="#1a1a1a" stroke-width="0.12" text-anchor="middle" fill="#1a1a1a">1</text>
<line x1="655.81" y1="283.3" x2="655.81" y2="285.5" stroke="#4a4a4a" stroke-width="1.25"/>
<text transform="translate(655.81,293.5) scale(0.98,1)" font-size="8.3" stroke="#1a1a1a" stroke-width="0.12" text-anchor="middle" fill="#1a1a1a">5</text>
<line x1="668.28" y1="283.3" x2="668.28" y2="285.5" stroke="#4a4a4a" stroke-width="1.25"/>
<text transform="translate(668.28,293.5) scale(0.98,1)" font-size="8.3" stroke="#1a1a1a" stroke-width="0.12" text-anchor="middle" fill="#1a1a1a">10</text>
<text transform="translate(643.2,215) scale(1.03,1)" font-size="8.6" font-weight="bold" stroke="#111" stroke-width="0.15" text-anchor="middle" fill="#111">EV215</text>
<polyline points="618.4,233.7 630.87,232.2 643.34,236 655.81,246.2 668.28,255.9" fill="none" stroke="#6464f4" stroke-width="1.1"/>
<line x1="618.4" y1="230" x2="618.4" y2="237.4" stroke="#6a6af5" stroke-width="0.9"/>
<line x1="617.1" y1="230" x2="619.7" y2="230" stroke="#3c3cf2" stroke-width="1"/>
<line x1="617.1" y1="237.4" x2="619.7" y2="237.4" stroke="#3c3cf2" stroke-width="1"/>
<rect x="617.3" y="232.6" width="2.2" height="2.2" fill="#3c3cf2"/>
<line x1="630.87" y1="228.9" x2="630.87" y2="235.5" stroke="#6a6af5" stroke-width="0.9"/>
<line x1="629.57" y1="228.9" x2="632.17" y2="228.9" stroke="#3c3cf2" stroke-width="1"/>
<line x1="629.57" y1="235.5" x2="632.17" y2="235.5" stroke="#3c3cf2" stroke-width="1"/>
<rect x="629.77" y="231.1" width="2.2" height="2.2" fill="#3c3cf2"/>
<line x1="643.34" y1="233.1" x2="643.34" y2="238.9" stroke="#6a6af5" stroke-width="0.9"/>
<line x1="642.04" y1="233.1" x2="644.64" y2="233.1" stroke="#3c3cf2" stroke-width="1"/>
<line x1="642.04" y1="238.9" x2="644.64" y2="238.9" stroke="#3c3cf2" stroke-width="1"/>
<rect x="642.24" y="234.9" width="2.2" height="2.2" fill="#3c3cf2"/>
<line x1="655.81" y1="245.2" x2="655.81" y2="247.2" stroke="#6a6af5" stroke-width="0.9"/>
<line x1="654.51" y1="245.2" x2="657.11" y2="245.2" stroke="#3c3cf2" stroke-width="1"/>
<line x1="654.51" y1="247.2" x2="657.11" y2="247.2" stroke="#3c3cf2" stroke-width="1"/>
<rect x="654.71" y="245.1" width="2.2" height="2.2" fill="#3c3cf2"/>
<line x1="668.28" y1="254.9" x2="668.28" y2="256.9" stroke="#6a6af5" stroke-width="0.9"/>
<line x1="666.98" y1="254.9" x2="669.58" y2="254.9" stroke="#3c3cf2" stroke-width="1"/>
<line x1="666.98" y1="256.9" x2="669.58" y2="256.9" stroke="#3c3cf2" stroke-width="1"/>
<rect x="667.18" y="254.8" width="2.2" height="2.2" fill="#3c3cf2"/>
<text transform="translate(656.26,245.3)" font-size="7.3" letter-spacing="0.9" stroke="#000" stroke-width="0.2" text-anchor="middle" fill="#000">***</text>
<text transform="translate(668.73,254.3)" font-size="7.3" letter-spacing="0.9" stroke="#000" stroke-width="0.2" text-anchor="middle" fill="#000">***</text>
<line x1="31.2" y1="324" x2="31.2" y2="384.5" stroke="#4a4a4a" stroke-width="1.25"/>
<line x1="28.8" y1="384" x2="31.2" y2="384" stroke="#4a4a4a" stroke-width="1.25"/>
<text transform="translate(28,387) scale(1.08,1)" font-size="7.9" stroke="#1a1a1a" stroke-width="0.11" text-anchor="end" fill="#1a1a1a">0</text>
<line x1="28.8" y1="374.08" x2="31.2" y2="374.08" stroke="#4a4a4a" stroke-width="1.25"/>
<text transform="translate(28,377.08) scale(1.08,1)" font-size="7.9" stroke="#1a1a1a" stroke-width="0.11" text-anchor="end" fill="#1a1a1a">20</text>
<line x1="28.8" y1="364.17" x2="31.2" y2="364.17" stroke="#4a4a4a" stroke-width="1.25"/>
<text transform="translate(28,367.17) scale(1.08,1)" font-size="7.9" stroke="#1a1a1a" stroke-width="0.11" text-anchor="end" fill="#1a1a1a">40</text>
<line x1="28.8" y1="354.25" x2="31.2" y2="354.25" stroke="#4a4a4a" stroke-width="1.25"/>
<text transform="translate(28,357.25) scale(1.08,1)" font-size="7.9" stroke="#1a1a1a" stroke-width="0.11" text-anchor="end" fill="#1a1a1a">60</text>
<line x1="28.8" y1="344.33" x2="31.2" y2="344.33" stroke="#4a4a4a" stroke-width="1.25"/>
<text transform="translate(28,347.33) scale(1.08,1)" font-size="7.9" stroke="#1a1a1a" stroke-width="0.11" text-anchor="end" fill="#1a1a1a">80</text>
<line x1="28.8" y1="334.42" x2="31.2" y2="334.42" stroke="#4a4a4a" stroke-width="1.25"/>
<text transform="translate(28,337.42) scale(1.08,1)" font-size="7.9" stroke="#1a1a1a" stroke-width="0.11" text-anchor="end" fill="#1a1a1a">100</text>
<line x1="28.8" y1="324.5" x2="31.2" y2="324.5" stroke="#4a4a4a" stroke-width="1.25"/>
<text transform="translate(28,327.5) scale(1.08,1)" font-size="7.9" stroke="#1a1a1a" stroke-width="0.11" text-anchor="end" fill="#1a1a1a">120</text>
<line x1="28.8" y1="384" x2="97.88" y2="384" stroke="#4a4a4a" stroke-width="1.25"/>
<line x1="39.3" y1="384" x2="39.3" y2="386.2" stroke="#4a4a4a" stroke-width="1.25"/>
<text transform="translate(39.3,394.2) scale(0.98,1)" font-size="8.3" stroke="#1a1a1a" stroke-width="0.12" text-anchor="middle" fill="#1a1a1a">0</text>
<line x1="51.77" y1="384" x2="51.77" y2="386.2" stroke="#4a4a4a" stroke-width="1.25"/>
<text transform="translate(51.77,394.2) scale(0.98,1)" font-size="8.3" stroke="#1a1a1a" stroke-width="0.12" text-anchor="middle" fill="#1a1a1a">0.5</text>
<line x1="64.24" y1="384" x2="64.24" y2="386.2" stroke="#4a4a4a" stroke-width="1.25"/>
<text transform="translate(64.24,394.2) scale(0.98,1)" font-size="8.3" stroke="#1a1a1a" stroke-width="0.12" text-anchor="middle" fill="#1a1a1a">1</text>
<line x1="76.71" y1="384" x2="76.71" y2="386.2" stroke="#4a4a4a" stroke-width="1.25"/>
<text transform="translate(76.71,394.2) scale(0.98,1)" font-size="8.3" stroke="#1a1a1a" stroke-width="0.12" text-anchor="middle" fill="#1a1a1a">5</text>
<line x1="89.18" y1="384" x2="89.18" y2="386.2" stroke="#4a4a4a" stroke-width="1.25"/>
<text transform="translate(89.18,394.2) scale(0.98,1)" font-size="8.3" stroke="#1a1a1a" stroke-width="0.12" text-anchor="middle" fill="#1a1a1a">10</text>
<text transform="translate(64.1,315.9) scale(1.03,1)" font-size="8.6" font-weight="bold" stroke="#111" stroke-width="0.15" text-anchor="middle" fill="#111">EV216</text>
<polyline points="39.3,334.7 51.77,339.3 64.24,343.1 76.71,347.2 89.18,351.6" fill="none" stroke="#6464f4" stroke-width="1.1"/>
<line x1="39.3" y1="330.7" x2="39.3" y2="338.7" stroke="#6a6af5" stroke-width="0.9"/>
<line x1="38" y1="330.7" x2="40.6" y2="330.7" stroke="#3c3cf2" stroke-width="1"/>
<line x1="38" y1="338.7" x2="40.6" y2="338.7" stroke="#3c3cf2" stroke-width="1"/>
<rect x="38.2" y="333.6" width="2.2" height="2.2" fill="#3c3cf2"/>
<line x1="51.77" y1="337.8" x2="51.77" y2="340.8" stroke="#6a6af5" stroke-width="0.9"/>
<line x1="50.47" y1="337.8" x2="53.07" y2="337.8" stroke="#3c3cf2" stroke-width="1"/>
<line x1="50.47" y1="340.8" x2="53.07" y2="340.8" stroke="#3c3cf2" stroke-width="1"/>
<rect x="50.67" y="338.2" width="2.2" height="2.2" fill="#3c3cf2"/>
<line x1="64.24" y1="340.8" x2="64.24" y2="345.4" stroke="#6a6af5" stroke-width="0.9"/>
<line x1="62.94" y1="340.8" x2="65.54" y2="340.8" stroke="#3c3cf2" stroke-width="1"/>
<line x1="62.94" y1="345.4" x2="65.54" y2="345.4" stroke="#3c3cf2" stroke-width="1"/>
<rect x="63.14" y="342" width="2.2" height="2.2" fill="#3c3cf2"/>
<line x1="76.71" y1="344.9" x2="76.71" y2="349.5" stroke="#6a6af5" stroke-width="0.9"/>
<line x1="75.41" y1="344.9" x2="78.01" y2="344.9" stroke="#3c3cf2" stroke-width="1"/>
<line x1="75.41" y1="349.5" x2="78.01" y2="349.5" stroke="#3c3cf2" stroke-width="1"/>
<rect x="75.61" y="346.1" width="2.2" height="2.2" fill="#3c3cf2"/>
<line x1="89.18" y1="349.2" x2="89.18" y2="354" stroke="#6a6af5" stroke-width="0.9"/>
<line x1="87.88" y1="349.2" x2="90.48" y2="349.2" stroke="#3c3cf2" stroke-width="1"/>
<line x1="87.88" y1="354" x2="90.48" y2="354" stroke="#3c3cf2" stroke-width="1"/>
<rect x="88.08" y="350.5" width="2.2" height="2.2" fill="#3c3cf2"/>
<text transform="translate(52.22,337.7)" font-size="7.3" letter-spacing="0.9" stroke="#000" stroke-width="0.2" text-anchor="middle" fill="#000">*</text>
<text transform="translate(64.69,340.8)" font-size="7.3" letter-spacing="0.9" stroke="#000" stroke-width="0.2" text-anchor="middle" fill="#000">***</text>
<text transform="translate(77.16,344.8)" font-size="7.3" letter-spacing="0.9" stroke="#000" stroke-width="0.2" text-anchor="middle" fill="#000">***</text>
<text transform="translate(89.63,349.1)" font-size="7.3" letter-spacing="0.9" stroke="#000" stroke-width="0.2" text-anchor="middle" fill="#000">***</text>
<text transform="translate(8.9,355.85) rotate(-90) scale(1.07,1)" font-size="8.5" font-weight="bold" stroke="#111" stroke-width="0.14" text-anchor="middle" fill="#111">Cell viability (%)</text>
<text transform="translate(30.8,394.2)" font-size="7.9" stroke="#1a1a1a" stroke-width="0.12" text-anchor="end" fill="#1a1a1a">(μM)</text>
<line x1="127.4" y1="324.1" x2="127.4" y2="384.8" stroke="#4a4a4a" stroke-width="1.25"/>
<line x1="125" y1="384.3" x2="127.4" y2="384.3" stroke="#4a4a4a" stroke-width="1.25"/>
<text transform="translate(124.2,387.3) scale(1.08,1)" font-size="7.9" stroke="#1a1a1a" stroke-width="0.11" text-anchor="end" fill="#1a1a1a">0</text>
<line x1="125" y1="374.35" x2="127.4" y2="374.35" stroke="#4a4a4a" stroke-width="1.25"/>
<text transform="translate(124.2,377.35) scale(1.08,1)" font-size="7.9" stroke="#1a1a1a" stroke-width="0.11" text-anchor="end" fill="#1a1a1a">20</text>
<line x1="125" y1="364.4" x2="127.4" y2="364.4" stroke="#4a4a4a" stroke-width="1.25"/>
<text transform="translate(124.2,367.4) scale(1.08,1)" font-size="7.9" stroke="#1a1a1a" stroke-width="0.11" text-anchor="end" fill="#1a1a1a">40</text>
<line x1="125" y1="354.45" x2="127.4" y2="354.45" stroke="#4a4a4a" stroke-width="1.25"/>
<text transform="translate(124.2,357.45) scale(1.08,1)" font-size="7.9" stroke="#1a1a1a" stroke-width="0.11" text-anchor="end" fill="#1a1a1a">60</text>
<line x1="125" y1="344.5" x2="127.4" y2="344.5" stroke="#4a4a4a" stroke-width="1.25"/>
<text transform="translate(124.2,347.5) scale(1.08,1)" font-size="7.9" stroke="#1a1a1a" stroke-width="0.11" text-anchor="end" fill="#1a1a1a">80</text>
<line x1="125" y1="334.55" x2="127.4" y2="334.55" stroke="#4a4a4a" stroke-width="1.25"/>
<text transform="translate(124.2,337.55) scale(1.08,1)" font-size="7.9" stroke="#1a1a1a" stroke-width="0.11" text-anchor="end" fill="#1a1a1a">100</text>
<line x1="125" y1="324.6" x2="127.4" y2="324.6" stroke="#4a4a4a" stroke-width="1.25"/>
<text transform="translate(124.2,327.6) scale(1.08,1)" font-size="7.9" stroke="#1a1a1a" stroke-width="0.11" text-anchor="end" fill="#1a1a1a">120</text>
<line x1="125" y1="384.3" x2="194.38" y2="384.3" stroke="#4a4a4a" stroke-width="1.25"/>
<line x1="135.8" y1="384.3" x2="135.8" y2="386.5" stroke="#4a4a4a" stroke-width="1.25"/>
<text transform="translate(135.8,394.5) scale(0.98,1)" font-size="8.3" stroke="#1a1a1a" stroke-width="0.12" text-anchor="middle" fill="#1a1a1a">0</text>
<line x1="148.27" y1="384.3" x2="148.27" y2="386.5" stroke="#4a4a4a" stroke-width="1.25"/>
<text transform="translate(148.27,394.5) scale(0.98,1)" font-size="8.3" stroke="#1a1a1a" stroke-width="0.12" text-anchor="middle" fill="#1a1a1a">0.5</text>
<line x1="160.74" y1="384.3" x2="160.74" y2="386.5" stroke="#4a4a4a" stroke-width="1.25"/>
<text transform="translate(160.74,394.5) scale(0.98,1)" font-size="8.3" stroke="#1a1a1a" stroke-width="0.12" text-anchor="middle" fill="#1a1a1a">1</text>
<line x1="173.21" y1="384.3" x2="173.21" y2="386.5" stroke="#4a4a4a" stroke-width="1.25"/>
<text transform="translate(173.21,394.5) scale(0.98,1)" font-size="8.3" stroke="#1a1a1a" stroke-width="0.12" text-anchor="middle" fill="#1a1a1a">5</text>
<line x1="185.68" y1="384.3" x2="185.68" y2="386.5" stroke="#4a4a4a" stroke-width="1.25"/>
<text transform="translate(185.68,394.5) scale(0.98,1)" font-size="8.3" stroke="#1a1a1a" stroke-width="0.12" text-anchor="middle" fill="#1a1a1a">10</text>
<text transform="translate(160.3,315.9) scale(1.03,1)" font-size="8.6" font-weight="bold" stroke="#111" stroke-width="0.15" text-anchor="middle" fill="#111">EV217</text>
<polyline points="135.8,334.9 148.27,339 160.74,352.3 173.21,368.6 185.68,371.4" fill="none" stroke="#6464f4" stroke-width="1.1"/>
<line x1="135.8" y1="332.9" x2="135.8" y2="336.9" stroke="#6a6af5" stroke-width="0.9"/>
<line x1="134.5" y1="332.9" x2="137.1" y2="332.9" stroke="#3c3cf2" stroke-width="1"/>
<line x1="134.5" y1="336.9" x2="137.1" y2="336.9" stroke="#3c3cf2" stroke-width="1"/>
<rect x="134.7" y="333.8" width="2.2" height="2.2" fill="#3c3cf2"/>
<line x1="148.27" y1="337" x2="148.27" y2="341" stroke="#6a6af5" stroke-width="0.9"/>
<line x1="146.97" y1="337" x2="149.57" y2="337" stroke="#3c3cf2" stroke-width="1"/>
<line x1="146.97" y1="341" x2="149.57" y2="341" stroke="#3c3cf2" stroke-width="1"/>
<rect x="147.17" y="337.9" width="2.2" height="2.2" fill="#3c3cf2"/>
<line x1="160.74" y1="350.8" x2="160.74" y2="353.8" stroke="#6a6af5" stroke-width="0.9"/>
<line x1="159.44" y1="350.8" x2="162.04" y2="350.8" stroke="#3c3cf2" stroke-width="1"/>
<line x1="159.44" y1="353.8" x2="162.04" y2="353.8" stroke="#3c3cf2" stroke-width="1"/>
<rect x="159.64" y="351.2" width="2.2" height="2.2" fill="#3c3cf2"/>
<rect x="172.11" y="367.5" width="2.2" height="2.2" fill="#3c3cf2"/>
<line x1="185.68" y1="370.4" x2="185.68" y2="372.4" stroke="#6a6af5" stroke-width="0.9"/>
<line x1="184.38" y1="370.4" x2="186.98" y2="370.4" stroke="#3c3cf2" stroke-width="1"/>
<line x1="184.38" y1="372.4" x2="186.98" y2="372.4" stroke="#3c3cf2" stroke-width="1"/>
<rect x="184.58" y="370.3" width="2.2" height="2.2" fill="#3c3cf2"/>
<text transform="translate(148.72,336.1)" font-size="7.3" letter-spacing="0.9" stroke="#000" stroke-width="0.2" text-anchor="middle" fill="#000">***</text>
<text transform="translate(161.19,350.7)" font-size="7.3" letter-spacing="0.9" stroke="#000" stroke-width="0.2" text-anchor="middle" fill="#000">***</text>
<text transform="translate(173.66,368)" font-size="7.3" letter-spacing="0.9" stroke="#000" stroke-width="0.2" text-anchor="middle" fill="#000">***</text>
<text transform="translate(186.13,369.8)" font-size="7.3" letter-spacing="0.9" stroke="#000" stroke-width="0.2" text-anchor="middle" fill="#000">***</text>
<line x1="224.1" y1="324.1" x2="224.1" y2="384.7" stroke="#4a4a4a" stroke-width="1.25"/>
<line x1="221.7" y1="384.2" x2="224.1" y2="384.2" stroke="#4a4a4a" stroke-width="1.25"/>
<text transform="translate(220.9,387.2) scale(1.08,1)" font-size="7.9" stroke="#1a1a1a" stroke-width="0.11" text-anchor="end" fill="#1a1a1a">0</text>
<line x1="221.7" y1="374.27" x2="224.1" y2="374.27" stroke="#4a4a4a" stroke-width="1.25"/>
<text transform="translate(220.9,377.27) scale(1.08,1)" font-size="7.9" stroke="#1a1a1a" stroke-width="0.11" text-anchor="end" fill="#1a1a1a">20</text>
<line x1="221.7" y1="364.33" x2="224.1" y2="364.33" stroke="#4a4a4a" stroke-width="1.25"/>
<text transform="translate(220.9,367.33) scale(1.08,1)" font-size="7.9" stroke="#1a1a1a" stroke-width="0.11" text-anchor="end" fill="#1a1a1a">40</text>
<line x1="221.7" y1="354.4" x2="224.1" y2="354.4" stroke="#4a4a4a" stroke-width="1.25"/>
<text transform="translate(220.9,357.4) scale(1.08,1)" font-size="7.9" stroke="#1a1a1a" stroke-width="0.11" text-anchor="end" fill="#1a1a1a">60</text>
<line x1="221.7" y1="344.47" x2="224.1" y2="344.47" stroke="#4a4a4a" stroke-width="1.25"/>
<text transform="translate(220.9,347.47) scale(1.08,1)" font-size="7.9" stroke="#1a1a1a" stroke-width="0.11" text-anchor="end" fill="#1a1a1a">80</text>
<line x1="221.7" y1="334.53" x2="224.1" y2="334.53" stroke="#4a4a4a" stroke-width="1.25"/>
<text transform="translate(220.9,337.53) scale(1.08,1)" font-size="7.9" stroke="#1a1a1a" stroke-width="0.11" text-anchor="end" fill="#1a1a1a">100</text>
<line x1="221.7" y1="324.6" x2="224.1" y2="324.6" stroke="#4a4a4a" stroke-width="1.25"/>
<text transform="translate(220.9,327.6) scale(1.08,1)" font-size="7.9" stroke="#1a1a1a" stroke-width="0.11" text-anchor="end" fill="#1a1a1a">120</text>
<line x1="221.7" y1="384.2" x2="291.08" y2="384.2" stroke="#4a4a4a" stroke-width="1.25"/>
<line x1="232.5" y1="384.2" x2="232.5" y2="386.4" stroke="#4a4a4a" stroke-width="1.25"/>
<text transform="translate(232.5,394.4) scale(0.98,1)" font-size="8.3" stroke="#1a1a1a" stroke-width="0.12" text-anchor="middle" fill="#1a1a1a">0</text>
<line x1="244.97" y1="384.2" x2="244.97" y2="386.4" stroke="#4a4a4a" stroke-width="1.25"/>
<text transform="translate(244.97,394.4) scale(0.98,1)" font-size="8.3" stroke="#1a1a1a" stroke-width="0.12" text-anchor="middle" fill="#1a1a1a">0.5</text>
<line x1="257.44" y1="384.2" x2="257.44" y2="386.4" stroke="#4a4a4a" stroke-width="1.25"/>
<text transform="translate(257.44,394.4) scale(0.98,1)" font-size="8.3" stroke="#1a1a1a" stroke-width="0.12" text-anchor="middle" fill="#1a1a1a">1</text>
<line x1="269.91" y1="384.2" x2="269.91" y2="386.4" stroke="#4a4a4a" stroke-width="1.25"/>
<text transform="translate(269.91,394.4) scale(0.98,1)" font-size="8.3" stroke="#1a1a1a" stroke-width="0.12" text-anchor="middle" fill="#1a1a1a">5</text>
<line x1="282.38" y1="384.2" x2="282.38" y2="386.4" stroke="#4a4a4a" stroke-width="1.25"/>
<text transform="translate(282.38,394.4) scale(0.98,1)" font-size="8.3" stroke="#1a1a1a" stroke-width="0.12" text-anchor="middle" fill="#1a1a1a">10</text>
<text transform="translate(257,315.9) scale(1.03,1)" font-size="8.6" font-weight="bold" stroke="#111" stroke-width="0.15" text-anchor="middle" fill="#111">EV218</text>
<polyline points="232.5,334.8 244.97,358.7 257.44,368.4 269.91,372.3 282.38,373.1" fill="none" stroke="#6464f4" stroke-width="1.1"/>
<line x1="232.5" y1="326.9" x2="232.5" y2="342.7" stroke="#6a6af5" stroke-width="0.9"/>
<line x1="231.2" y1="326.9" x2="233.8" y2="326.9" stroke="#3c3cf2" stroke-width="1"/>
<line x1="231.2" y1="342.7" x2="233.8" y2="342.7" stroke="#3c3cf2" stroke-width="1"/>
<rect x="231.4" y="333.7" width="2.2" height="2.2" fill="#3c3cf2"/>
<line x1="244.97" y1="356.4" x2="244.97" y2="361" stroke="#6a6af5" stroke-width="0.9"/>
<line x1="243.67" y1="356.4" x2="246.27" y2="356.4" stroke="#3c3cf2" stroke-width="1"/>
<line x1="243.67" y1="361" x2="246.27" y2="361" stroke="#3c3cf2" stroke-width="1"/>
<rect x="243.87" y="357.6" width="2.2" height="2.2" fill="#3c3cf2"/>
<line x1="257.44" y1="366.9" x2="257.44" y2="369.9" stroke="#6a6af5" stroke-width="0.9"/>
<line x1="256.14" y1="366.9" x2="258.74" y2="366.9" stroke="#3c3cf2" stroke-width="1"/>
<line x1="256.14" y1="369.9" x2="258.74" y2="369.9" stroke="#3c3cf2" stroke-width="1"/>
<rect x="256.34" y="367.3" width="2.2" height="2.2" fill="#3c3cf2"/>
<line x1="269.91" y1="371.3" x2="269.91" y2="373.3" stroke="#6a6af5" stroke-width="0.9"/>
<line x1="268.61" y1="371.3" x2="271.21" y2="371.3" stroke="#3c3cf2" stroke-width="1"/>
<line x1="268.61" y1="373.3" x2="271.21" y2="373.3" stroke="#3c3cf2" stroke-width="1"/>
<rect x="268.81" y="371.2" width="2.2" height="2.2" fill="#3c3cf2"/>
<line x1="282.38" y1="372.1" x2="282.38" y2="374.1" stroke="#6a6af5" stroke-width="0.9"/>
<line x1="281.08" y1="372.1" x2="283.68" y2="372.1" stroke="#3c3cf2" stroke-width="1"/>
<line x1="281.08" y1="374.1" x2="283.68" y2="374.1" stroke="#3c3cf2" stroke-width="1"/>
<rect x="281.28" y="372" width="2.2" height="2.2" fill="#3c3cf2"/>
<text transform="translate(245.42,356.5)" font-size="7.3" letter-spacing="0.9" stroke="#000" stroke-width="0.2" text-anchor="middle" fill="#000">***</text>
<text transform="translate(257.89,366.8)" font-size="7.3" letter-spacing="0.9" stroke="#000" stroke-width="0.2" text-anchor="middle" fill="#000">***</text>
<text transform="translate(270.36,370.6)" font-size="7.3" letter-spacing="0.9" stroke="#000" stroke-width="0.2" text-anchor="middle" fill="#000">***</text>
<text transform="translate(282.83,372)" font-size="7.3" letter-spacing="0.9" stroke="#000" stroke-width="0.2" text-anchor="middle" fill="#000">***</text>
<line x1="320.3" y1="324" x2="320.3" y2="384.6" stroke="#4a4a4a" stroke-width="1.25"/>
<line x1="317.9" y1="384.1" x2="320.3" y2="384.1" stroke="#4a4a4a" stroke-width="1.25"/>
<text transform="translate(317.1,387.1) scale(1.08,1)" font-size="7.9" stroke="#1a1a1a" stroke-width="0.11" text-anchor="end" fill="#1a1a1a">0</text>
<line x1="317.9" y1="374.17" x2="320.3" y2="374.17" stroke="#4a4a4a" stroke-width="1.25"/>
<text transform="translate(317.1,377.17) scale(1.08,1)" font-size="7.9" stroke="#1a1a1a" stroke-width="0.11" text-anchor="end" fill="#1a1a1a">20</text>
<line x1="317.9" y1="364.23" x2="320.3" y2="364.23" stroke="#4a4a4a" stroke-width="1.25"/>
<text transform="translate(317.1,367.23) scale(1.08,1)" font-size="7.9" stroke="#1a1a1a" stroke-width="0.11" text-anchor="end" fill="#1a1a1a">40</text>
<line x1="317.9" y1="354.3" x2="320.3" y2="354.3" stroke="#4a4a4a" stroke-width="1.25"/>
<text transform="translate(317.1,357.3) scale(1.08,1)" font-size="7.9" stroke="#1a1a1a" stroke-width="0.11" text-anchor="end" fill="#1a1a1a">60</text>
<line x1="317.9" y1="344.37" x2="320.3" y2="344.37" stroke="#4a4a4a" stroke-width="1.25"/>
<text transform="translate(317.1,347.37) scale(1.08,1)" font-size="7.9" stroke="#1a1a1a" stroke-width="0.11" text-anchor="end" fill="#1a1a1a">80</text>
<line x1="317.9" y1="334.43" x2="320.3" y2="334.43" stroke="#4a4a4a" stroke-width="1.25"/>
<text transform="translate(317.1,337.43) scale(1.08,1)" font-size="7.9" stroke="#1a1a1a" stroke-width="0.11" text-anchor="end" fill="#1a1a1a">100</text>
<line x1="317.9" y1="324.5" x2="320.3" y2="324.5" stroke="#4a4a4a" stroke-width="1.25"/>
<text transform="translate(317.1,327.5) scale(1.08,1)" font-size="7.9" stroke="#1a1a1a" stroke-width="0.11" text-anchor="end" fill="#1a1a1a">120</text>
<line x1="317.9" y1="384.1" x2="387.38" y2="384.1" stroke="#4a4a4a" stroke-width="1.25"/>
<line x1="328.8" y1="384.1" x2="328.8" y2="386.3" stroke="#4a4a4a" stroke-width="1.25"/>
<text transform="translate(328.8,394.3) scale(0.98,1)" font-size="8.3" stroke="#1a1a1a" stroke-width="0.12" text-anchor="middle" fill="#1a1a1a">0</text>
<line x1="341.27" y1="384.1" x2="341.27" y2="386.3" stroke="#4a4a4a" stroke-width="1.25"/>
<text transform="translate(341.27,394.3) scale(0.98,1)" font-size="8.3" stroke="#1a1a1a" stroke-width="0.12" text-anchor="middle" fill="#1a1a1a">0.5</text>
<line x1="353.74" y1="384.1" x2="353.74" y2="386.3" stroke="#4a4a4a" stroke-width="1.25"/>
<text transform="translate(353.74,394.3) scale(0.98,1)" font-size="8.3" stroke="#1a1a1a" stroke-width="0.12" text-anchor="middle" fill="#1a1a1a">1</text>
<line x1="366.21" y1="384.1" x2="366.21" y2="386.3" stroke="#4a4a4a" stroke-width="1.25"/>
<text transform="translate(366.21,394.3) scale(0.98,1)" font-size="8.3" stroke="#1a1a1a" stroke-width="0.12" text-anchor="middle" fill="#1a1a1a">5</text>
<line x1="378.68" y1="384.1" x2="378.68" y2="386.3" stroke="#4a4a4a" stroke-width="1.25"/>
<text transform="translate(378.68,394.3) scale(0.98,1)" font-size="8.3" stroke="#1a1a1a" stroke-width="0.12" text-anchor="middle" fill="#1a1a1a">10</text>
<text transform="translate(353.2,315.9) scale(1.03,1)" font-size="8.6" font-weight="bold" stroke="#111" stroke-width="0.15" text-anchor="middle" fill="#111">EV219</text>
<polyline points="328.8,334.7 341.27,335.4 353.74,343.1 366.21,368.9 378.68,368.6" fill="none" stroke="#6464f4" stroke-width="1.1"/>
<line x1="328.8" y1="332.7" x2="328.8" y2="336.7" stroke="#6a6af5" stroke-width="0.9"/>
<line x1="327.5" y1="332.7" x2="330.1" y2="332.7" stroke="#3c3cf2" stroke-width="1"/>
<line x1="327.5" y1="336.7" x2="330.1" y2="336.7" stroke="#3c3cf2" stroke-width="1"/>
<rect x="327.7" y="333.6" width="2.2" height="2.2" fill="#3c3cf2"/>
<line x1="341.27" y1="332.4" x2="341.27" y2="338.4" stroke="#6a6af5" stroke-width="0.9"/>
<line x1="339.97" y1="332.4" x2="342.57" y2="332.4" stroke="#3c3cf2" stroke-width="1"/>
<line x1="339.97" y1="338.4" x2="342.57" y2="338.4" stroke="#3c3cf2" stroke-width="1"/>
<rect x="340.17" y="334.3" width="2.2" height="2.2" fill="#3c3cf2"/>
<line x1="353.74" y1="340.6" x2="353.74" y2="345.6" stroke="#6a6af5" stroke-width="0.9"/>
<line x1="352.44" y1="340.6" x2="355.04" y2="340.6" stroke="#3c3cf2" stroke-width="1"/>
<line x1="352.44" y1="345.6" x2="355.04" y2="345.6" stroke="#3c3cf2" stroke-width="1"/>
<rect x="352.64" y="342" width="2.2" height="2.2" fill="#3c3cf2"/>
<line x1="366.21" y1="366.9" x2="366.21" y2="370.9" stroke="#6a6af5" stroke-width="0.9"/>
<line x1="364.91" y1="366.9" x2="367.51" y2="366.9" stroke="#3c3cf2" stroke-width="1"/>
<line x1="364.91" y1="370.9" x2="367.51" y2="370.9" stroke="#3c3cf2" stroke-width="1"/>
<rect x="365.11" y="367.8" width="2.2" height="2.2" fill="#3c3cf2"/>
<line x1="378.68" y1="367.1" x2="378.68" y2="370.1" stroke="#6a6af5" stroke-width="0.9"/>
<line x1="377.38" y1="367.1" x2="379.98" y2="367.1" stroke="#3c3cf2" stroke-width="1"/>
<line x1="377.38" y1="370.1" x2="379.98" y2="370.1" stroke="#3c3cf2" stroke-width="1"/>
<rect x="377.58" y="367.5" width="2.2" height="2.2" fill="#3c3cf2"/>
<text transform="translate(354.19,340.7)" font-size="7.3" letter-spacing="0.9" stroke="#000" stroke-width="0.2" text-anchor="middle" fill="#000">***</text>
<text transform="translate(366.66,366.7)" font-size="7.3" letter-spacing="0.9" stroke="#000" stroke-width="0.2" text-anchor="middle" fill="#000">***</text>
<text transform="translate(379.13,366.7)" font-size="7.3" letter-spacing="0.9" stroke="#000" stroke-width="0.2" text-anchor="middle" fill="#000">***</text>
<line x1="417.3" y1="324" x2="417.3" y2="384.5" stroke="#4a4a4a" stroke-width="1.25"/>
<line x1="414.9" y1="384" x2="417.3" y2="384" stroke="#4a4a4a" stroke-width="1.25"/>
<text transform="translate(414.1,387) scale(1.08,1)" font-size="7.9" stroke="#1a1a1a" stroke-width="0.11" text-anchor="end" fill="#1a1a1a">0</text>
<line x1="414.9" y1="374.08" x2="417.3" y2="374.08" stroke="#4a4a4a" stroke-width="1.25"/>
<text transform="translate(414.1,377.08) scale(1.08,1)" font-size="7.9" stroke="#1a1a1a" stroke-width="0.11" text-anchor="end" fill="#1a1a1a">20</text>
<line x1="414.9" y1="364.17" x2="417.3" y2="364.17" stroke="#4a4a4a" stroke-width="1.25"/>
<text transform="translate(414.1,367.17) scale(1.08,1)" font-size="7.9" stroke="#1a1a1a" stroke-width="0.11" text-anchor="end" fill="#1a1a1a">40</text>
<line x1="414.9" y1="354.25" x2="417.3" y2="354.25" stroke="#4a4a4a" stroke-width="1.25"/>
<text transform="translate(414.1,357.25) scale(1.08,1)" font-size="7.9" stroke="#1a1a1a" stroke-width="0.11" text-anchor="end" fill="#1a1a1a">60</text>
<line x1="414.9" y1="344.33" x2="417.3" y2="344.33" stroke="#4a4a4a" stroke-width="1.25"/>
<text transform="translate(414.1,347.33) scale(1.08,1)" font-size="7.9" stroke="#1a1a1a" stroke-width="0.11" text-anchor="end" fill="#1a1a1a">80</text>
<line x1="414.9" y1="334.42" x2="417.3" y2="334.42" stroke="#4a4a4a" stroke-width="1.25"/>
<text transform="translate(414.1,337.42) scale(1.08,1)" font-size="7.9" stroke="#1a1a1a" stroke-width="0.11" text-anchor="end" fill="#1a1a1a">100</text>
<line x1="414.9" y1="324.5" x2="417.3" y2="324.5" stroke="#4a4a4a" stroke-width="1.25"/>
<text transform="translate(414.1,327.5) scale(1.08,1)" font-size="7.9" stroke="#1a1a1a" stroke-width="0.11" text-anchor="end" fill="#1a1a1a">120</text>
<line x1="414.9" y1="384" x2="484.08" y2="384" stroke="#4a4a4a" stroke-width="1.25"/>
<line x1="425.5" y1="384" x2="425.5" y2="386.2" stroke="#4a4a4a" stroke-width="1.25"/>
<text transform="translate(425.5,394.2) scale(0.98,1)" font-size="8.3" stroke="#1a1a1a" stroke-width="0.12" text-anchor="middle" fill="#1a1a1a">0</text>
<line x1="437.97" y1="384" x2="437.97" y2="386.2" stroke="#4a4a4a" stroke-width="1.25"/>
<text transform="translate(437.97,394.2) scale(0.98,1)" font-size="8.3" stroke="#1a1a1a" stroke-width="0.12" text-anchor="middle" fill="#1a1a1a">0.5</text>
<line x1="450.44" y1="384" x2="450.44" y2="386.2" stroke="#4a4a4a" stroke-width="1.25"/>
<text transform="translate(450.44,394.2) scale(0.98,1)" font-size="8.3" stroke="#1a1a1a" stroke-width="0.12" text-anchor="middle" fill="#1a1a1a">1</text>
<line x1="462.91" y1="384" x2="462.91" y2="386.2" stroke="#4a4a4a" stroke-width="1.25"/>
<text transform="translate(462.91,394.2) scale(0.98,1)" font-size="8.3" stroke="#1a1a1a" stroke-width="0.12" text-anchor="middle" fill="#1a1a1a">5</text>
<line x1="475.38" y1="384" x2="475.38" y2="386.2" stroke="#4a4a4a" stroke-width="1.25"/>
<text transform="translate(475.38,394.2) scale(0.98,1)" font-size="8.3" stroke="#1a1a1a" stroke-width="0.12" text-anchor="middle" fill="#1a1a1a">10</text>
<text transform="translate(450.2,315.9) scale(1.03,1)" font-size="8.6" font-weight="bold" stroke="#111" stroke-width="0.15" text-anchor="middle" fill="#111">EV220</text>
<polyline points="425.5,334.7 437.97,333.6 450.44,337.8 462.91,339.3 475.38,345.9" fill="none" stroke="#6464f4" stroke-width="1.1"/>
<line x1="425.5" y1="331.2" x2="425.5" y2="338.2" stroke="#6a6af5" stroke-width="0.9"/>
<line x1="424.2" y1="331.2" x2="426.8" y2="331.2" stroke="#3c3cf2" stroke-width="1"/>
<line x1="424.2" y1="338.2" x2="426.8" y2="338.2" stroke="#3c3cf2" stroke-width="1"/>
<rect x="424.4" y="333.6" width="2.2" height="2.2" fill="#3c3cf2"/>
<line x1="437.97" y1="329.5" x2="437.97" y2="337.7" stroke="#6a6af5" stroke-width="0.9"/>
<line x1="436.67" y1="329.5" x2="439.27" y2="329.5" stroke="#3c3cf2" stroke-width="1"/>
<line x1="436.67" y1="337.7" x2="439.27" y2="337.7" stroke="#3c3cf2" stroke-width="1"/>
<rect x="436.87" y="332.5" width="2.2" height="2.2" fill="#3c3cf2"/>
<line x1="450.44" y1="333.8" x2="450.44" y2="341.8" stroke="#6a6af5" stroke-width="0.9"/>
<line x1="449.14" y1="333.8" x2="451.74" y2="333.8" stroke="#3c3cf2" stroke-width="1"/>
<line x1="449.14" y1="341.8" x2="451.74" y2="341.8" stroke="#3c3cf2" stroke-width="1"/>
<rect x="449.34" y="336.7" width="2.2" height="2.2" fill="#3c3cf2"/>
<line x1="462.91" y1="335.2" x2="462.91" y2="343.4" stroke="#6a6af5" stroke-width="0.9"/>
<line x1="461.61" y1="335.2" x2="464.21" y2="335.2" stroke="#3c3cf2" stroke-width="1"/>
<line x1="461.61" y1="343.4" x2="464.21" y2="343.4" stroke="#3c3cf2" stroke-width="1"/>
<rect x="461.81" y="338.2" width="2.2" height="2.2" fill="#3c3cf2"/>
<line x1="475.38" y1="340.2" x2="475.38" y2="351.6" stroke="#6a6af5" stroke-width="0.9"/>
<line x1="474.08" y1="340.2" x2="476.68" y2="340.2" stroke="#3c3cf2" stroke-width="1"/>
<line x1="474.08" y1="351.6" x2="476.68" y2="351.6" stroke="#3c3cf2" stroke-width="1"/>
<rect x="474.28" y="344.8" width="2.2" height="2.2" fill="#3c3cf2"/>
<text transform="translate(475.83,340.2)" font-size="7.3" letter-spacing="0.9" stroke="#000" stroke-width="0.2" text-anchor="middle" fill="#000">***</text>
<line x1="513.3" y1="324" x2="513.3" y2="384.5" stroke="#4a4a4a" stroke-width="1.25"/>
<line x1="510.9" y1="384" x2="513.3" y2="384" stroke="#4a4a4a" stroke-width="1.25"/>
<text transform="translate(510.1,387) scale(1.08,1)" font-size="7.9" stroke="#1a1a1a" stroke-width="0.11" text-anchor="end" fill="#1a1a1a">0</text>
<line x1="510.9" y1="374.08" x2="513.3" y2="374.08" stroke="#4a4a4a" stroke-width="1.25"/>
<text transform="translate(510.1,377.08) scale(1.08,1)" font-size="7.9" stroke="#1a1a1a" stroke-width="0.11" text-anchor="end" fill="#1a1a1a">20</text>
<line x1="510.9" y1="364.17" x2="513.3" y2="364.17" stroke="#4a4a4a" stroke-width="1.25"/>
<text transform="translate(510.1,367.17) scale(1.08,1)" font-size="7.9" stroke="#1a1a1a" stroke-width="0.11" text-anchor="end" fill="#1a1a1a">40</text>
<line x1="510.9" y1="354.25" x2="513.3" y2="354.25" stroke="#4a4a4a" stroke-width="1.25"/>
<text transform="translate(510.1,357.25) scale(1.08,1)" font-size="7.9" stroke="#1a1a1a" stroke-width="0.11" text-anchor="end" fill="#1a1a1a">60</text>
<line x1="510.9" y1="344.33" x2="513.3" y2="344.33" stroke="#4a4a4a" stroke-width="1.25"/>
<text transform="translate(510.1,347.33) scale(1.08,1)" font-size="7.9" stroke="#1a1a1a" stroke-width="0.11" text-anchor="end" fill="#1a1a1a">80</text>
<line x1="510.9" y1="334.42" x2="513.3" y2="334.42" stroke="#4a4a4a" stroke-width="1.25"/>
<text transform="translate(510.1,337.42) scale(1.08,1)" font-size="7.9" stroke="#1a1a1a" stroke-width="0.11" text-anchor="end" fill="#1a1a1a">100</text>
<line x1="510.9" y1="324.5" x2="513.3" y2="324.5" stroke="#4a4a4a" stroke-width="1.25"/>
<text transform="translate(510.1,327.5) scale(1.08,1)" font-size="7.9" stroke="#1a1a1a" stroke-width="0.11" text-anchor="end" fill="#1a1a1a">120</text>
<line x1="510.9" y1="384" x2="580.18" y2="384" stroke="#4a4a4a" stroke-width="1.25"/>
<line x1="521.6" y1="384" x2="521.6" y2="386.2" stroke="#4a4a4a" stroke-width="1.25"/>
<text transform="translate(521.6,394.2) scale(0.98,1)" font-size="8.3" stroke="#1a1a1a" stroke-width="0.12" text-anchor="middle" fill="#1a1a1a">0</text>
<line x1="534.07" y1="384" x2="534.07" y2="386.2" stroke="#4a4a4a" stroke-width="1.25"/>
<text transform="translate(534.07,394.2) scale(0.98,1)" font-size="8.3" stroke="#1a1a1a" stroke-width="0.12" text-anchor="middle" fill="#1a1a1a">0.5</text>
<line x1="546.54" y1="384" x2="546.54" y2="386.2" stroke="#4a4a4a" stroke-width="1.25"/>
<text transform="translate(546.54,394.2) scale(0.98,1)" font-size="8.3" stroke="#1a1a1a" stroke-width="0.12" text-anchor="middle" fill="#1a1a1a">1</text>
<line x1="559.01" y1="384" x2="559.01" y2="386.2" stroke="#4a4a4a" stroke-width="1.25"/>
<text transform="translate(559.01,394.2) scale(0.98,1)" font-size="8.3" stroke="#1a1a1a" stroke-width="0.12" text-anchor="middle" fill="#1a1a1a">5</text>
<line x1="571.48" y1="384" x2="571.48" y2="386.2" stroke="#4a4a4a" stroke-width="1.25"/>
<text transform="translate(571.48,394.2) scale(0.98,1)" font-size="8.3" stroke="#1a1a1a" stroke-width="0.12" text-anchor="middle" fill="#1a1a1a">10</text>
<text transform="translate(546.2,315.9) scale(1.03,1)" font-size="8.6" font-weight="bold" stroke="#111" stroke-width="0.15" text-anchor="middle" fill="#111">EV221</text>
<polyline points="521.6,334.7 534.07,335.9 546.54,332.9 559.01,330.6 571.48,331" fill="none" stroke="#6464f4" stroke-width="1.1"/>
<line x1="521.6" y1="329.2" x2="521.6" y2="340.2" stroke="#6a6af5" stroke-width="0.9"/>
<line x1="520.3" y1="329.2" x2="522.9" y2="329.2" stroke="#3c3cf2" stroke-width="1"/>
<line x1="520.3" y1="340.2" x2="522.9" y2="340.2" stroke="#3c3cf2" stroke-width="1"/>
<rect x="520.5" y="333.6" width="2.2" height="2.2" fill="#3c3cf2"/>
<line x1="534.07" y1="326.2" x2="534.07" y2="345.6" stroke="#6a6af5" stroke-width="0.9"/>
<line x1="532.77" y1="326.2" x2="535.37" y2="326.2" stroke="#3c3cf2" stroke-width="1"/>
<line x1="532.77" y1="345.6" x2="535.37" y2="345.6" stroke="#3c3cf2" stroke-width="1"/>
<rect x="532.97" y="334.8" width="2.2" height="2.2" fill="#3c3cf2"/>
<line x1="546.54" y1="327.5" x2="546.54" y2="338.3" stroke="#6a6af5" stroke-width="0.9"/>
<line x1="545.24" y1="327.5" x2="547.84" y2="327.5" stroke="#3c3cf2" stroke-width="1"/>
<line x1="545.24" y1="338.3" x2="547.84" y2="338.3" stroke="#3c3cf2" stroke-width="1"/>
<rect x="545.44" y="331.8" width="2.2" height="2.2" fill="#3c3cf2"/>
<line x1="559.01" y1="326.1" x2="559.01" y2="335.1" stroke="#6a6af5" stroke-width="0.9"/>
<line x1="557.71" y1="326.1" x2="560.31" y2="326.1" stroke="#3c3cf2" stroke-width="1"/>
<line x1="557.71" y1="335.1" x2="560.31" y2="335.1" stroke="#3c3cf2" stroke-width="1"/>
<rect x="557.91" y="329.5" width="2.2" height="2.2" fill="#3c3cf2"/>
<line x1="571.48" y1="327.1" x2="571.48" y2="334.9" stroke="#6a6af5" stroke-width="0.9"/>
<line x1="570.18" y1="327.1" x2="572.78" y2="327.1" stroke="#3c3cf2" stroke-width="1"/>
<line x1="570.18" y1="334.9" x2="572.78" y2="334.9" stroke="#3c3cf2" stroke-width="1"/>
<rect x="570.38" y="329.9" width="2.2" height="2.2" fill="#3c3cf2"/>
<line x1="610.3" y1="324" x2="610.3" y2="384.5" stroke="#4a4a4a" stroke-width="1.25"/>
<line x1="607.9" y1="384" x2="610.3" y2="384" stroke="#4a4a4a" stroke-width="1.25"/>
<text transform="translate(607.1,387) scale(1.08,1)" font-size="7.9" stroke="#1a1a1a" stroke-width="0.11" text-anchor="end" fill="#1a1a1a">0</text>
<line x1="607.9" y1="374.08" x2="610.3" y2="374.08" stroke="#4a4a4a" stroke-width="1.25"/>
<text transform="translate(607.1,377.08) scale(1.08,1)" font-size="7.9" stroke="#1a1a1a" stroke-width="0.11" text-anchor="end" fill="#1a1a1a">20</text>
<line x1="607.9" y1="364.17" x2="610.3" y2="364.17" stroke="#4a4a4a" stroke-width="1.25"/>
<text transform="translate(607.1,367.17) scale(1.08,1)" font-size="7.9" stroke="#1a1a1a" stroke-width="0.11" text-anchor="end" fill="#1a1a1a">40</text>
<line x1="607.9" y1="354.25" x2="610.3" y2="354.25" stroke="#4a4a4a" stroke-width="1.25"/>
<text transform="translate(607.1,357.25) scale(1.08,1)" font-size="7.9" stroke="#1a1a1a" stroke-width="0.11" text-anchor="end" fill="#1a1a1a">60</text>
<line x1="607.9" y1="344.33" x2="610.3" y2="344.33" stroke="#4a4a4a" stroke-width="1.25"/>
<text transform="translate(607.1,347.33) scale(1.08,1)" font-size="7.9" stroke="#1a1a1a" stroke-width="0.11" text-anchor="end" fill="#1a1a1a">80</text>
<line x1="607.9" y1="334.42" x2="610.3" y2="334.42" stroke="#4a4a4a" stroke-width="1.25"/>
<text transform="translate(607.1,337.42) scale(1.08,1)" font-size="7.9" stroke="#1a1a1a" stroke-width="0.11" text-anchor="end" fill="#1a1a1a">100</text>
<line x1="607.9" y1="324.5" x2="610.3" y2="324.5" stroke="#4a4a4a" stroke-width="1.25"/>
<text transform="translate(607.1,327.5) scale(1.08,1)" font-size="7.9" stroke="#1a1a1a" stroke-width="0.11" text-anchor="end" fill="#1a1a1a">120</text>
<line x1="607.9" y1="384" x2="676.88" y2="384" stroke="#4a4a4a" stroke-width="1.25"/>
<line x1="618.3" y1="384" x2="618.3" y2="386.2" stroke="#4a4a4a" stroke-width="1.25"/>
<text transform="translate(618.3,394.2) scale(0.98,1)" font-size="8.3" stroke="#1a1a1a" stroke-width="0.12" text-anchor="middle" fill="#1a1a1a">0</text>
<line x1="630.77" y1="384" x2="630.77" y2="386.2" stroke="#4a4a4a" stroke-width="1.25"/>
<text transform="translate(630.77,394.2) scale(0.98,1)" font-size="8.3" stroke="#1a1a1a" stroke-width="0.12" text-anchor="middle" fill="#1a1a1a">0.5</text>
<line x1="643.24" y1="384" x2="643.24" y2="386.2" stroke="#4a4a4a" stroke-width="1.25"/>
<text transform="translate(643.24,394.2) scale(0.98,1)" font-size="8.3" stroke="#1a1a1a" stroke-width="0.12" text-anchor="middle" fill="#1a1a1a">1</text>
<line x1="655.71" y1="384" x2="655.71" y2="386.2" stroke="#4a4a4a" stroke-width="1.25"/>
<text transform="translate(655.71,394.2) scale(0.98,1)" font-size="8.3" stroke="#1a1a1a" stroke-width="0.12" text-anchor="middle" fill="#1a1a1a">5</text>
<line x1="668.18" y1="384" x2="668.18" y2="386.2" stroke="#4a4a4a" stroke-width="1.25"/>
<text transform="translate(668.18,394.2) scale(0.98,1)" font-size="8.3" stroke="#1a1a1a" stroke-width="0.12" text-anchor="middle" fill="#1a1a1a">10</text>
<text transform="translate(643.2,315.9) scale(1.03,1)" font-size="8.6" font-weight="bold" stroke="#111" stroke-width="0.15" text-anchor="middle" fill="#111">EV222</text>
<polyline points="618.3,334.6 630.77,334.2 643.24,336.4 655.71,334.7 668.18,334.9" fill="none" stroke="#6464f4" stroke-width="1.1"/>
<line x1="618.3" y1="331.4" x2="618.3" y2="337.8" stroke="#6a6af5" stroke-width="0.9"/>
<line x1="617" y1="331.4" x2="619.6" y2="331.4" stroke="#3c3cf2" stroke-width="1"/>
<line x1="617" y1="337.8" x2="619.6" y2="337.8" stroke="#3c3cf2" stroke-width="1"/>
<rect x="617.2" y="333.5" width="2.2" height="2.2" fill="#3c3cf2"/>
<line x1="630.77" y1="331.7" x2="630.77" y2="336.7" stroke="#6a6af5" stroke-width="0.9"/>
<line x1="629.47" y1="331.7" x2="632.07" y2="331.7" stroke="#3c3cf2" stroke-width="1"/>
<line x1="629.47" y1="336.7" x2="632.07" y2="336.7" stroke="#3c3cf2" stroke-width="1"/>
<rect x="629.67" y="333.1" width="2.2" height="2.2" fill="#3c3cf2"/>
<line x1="643.24" y1="328.4" x2="643.24" y2="344.4" stroke="#6a6af5" stroke-width="0.9"/>
<line x1="641.94" y1="328.4" x2="644.54" y2="328.4" stroke="#3c3cf2" stroke-width="1"/>
<line x1="641.94" y1="344.4" x2="644.54" y2="344.4" stroke="#3c3cf2" stroke-width="1"/>
<rect x="642.14" y="335.3" width="2.2" height="2.2" fill="#3c3cf2"/>
<line x1="655.71" y1="328.9" x2="655.71" y2="340.5" stroke="#6a6af5" stroke-width="0.9"/>
<line x1="654.41" y1="328.9" x2="657.01" y2="328.9" stroke="#3c3cf2" stroke-width="1"/>
<line x1="654.41" y1="340.5" x2="657.01" y2="340.5" stroke="#3c3cf2" stroke-width="1"/>
<rect x="654.61" y="333.6" width="2.2" height="2.2" fill="#3c3cf2"/>
<line x1="668.18" y1="326.3" x2="668.18" y2="343.5" stroke="#6a6af5" stroke-width="0.9"/>
<line x1="666.88" y1="326.3" x2="669.48" y2="326.3" stroke="#3c3cf2" stroke-width="1"/>
<line x1="666.88" y1="343.5" x2="669.48" y2="343.5" stroke="#3c3cf2" stroke-width="1"/>
<rect x="667.08" y="333.8" width="2.2" height="2.2" fill="#3c3cf2"/>
<line x1="138.4" y1="475.1" x2="138.4" y2="535.5" stroke="#4a4a4a" stroke-width="1.25"/>
<line x1="136" y1="535" x2="138.4" y2="535" stroke="#4a4a4a" stroke-width="1.25"/>
<text transform="translate(135.2,538) scale(0.91,1)" font-size="8.7" stroke="#1a1a1a" stroke-width="0.13" text-anchor="end" fill="#1a1a1a">0</text>
<line x1="136" y1="525.1" x2="138.4" y2="525.1" stroke="#4a4a4a" stroke-width="1.25"/>
<text transform="translate(135.2,528.1) scale(0.91,1)" font-size="8.7" stroke="#1a1a1a" stroke-width="0.13" text-anchor="end" fill="#1a1a1a">20</text>
<line x1="136" y1="515.2" x2="138.4" y2="515.2" stroke="#4a4a4a" stroke-width="1.25"/>
<text transform="translate(135.2,518.2) scale(0.91,1)" font-size="8.7" stroke="#1a1a1a" stroke-width="0.13" text-anchor="end" fill="#1a1a1a">40</text>
<line x1="136" y1="505.3" x2="138.4" y2="505.3" stroke="#4a4a4a" stroke-width="1.25"/>
<text transform="translate(135.2,508.3) scale(0.91,1)" font-size="8.7" stroke="#1a1a1a" stroke-width="0.13" text-anchor="end" fill="#1a1a1a">60</text>
<line x1="136" y1="495.4" x2="138.4" y2="495.4" stroke="#4a4a4a" stroke-width="1.25"/>
<text transform="translate(135.2,498.4) scale(0.91,1)" font-size="8.7" stroke="#1a1a1a" stroke-width="0.13" text-anchor="end" fill="#1a1a1a">80</text>
<line x1="136" y1="485.5" x2="138.4" y2="485.5" stroke="#4a4a4a" stroke-width="1.25"/>
<text transform="translate(135.2,488.5) scale(0.91,1)" font-size="8.7" stroke="#1a1a1a" stroke-width="0.13" text-anchor="end" fill="#1a1a1a">100</text>
<line x1="136" y1="475.6" x2="138.4" y2="475.6" stroke="#4a4a4a" stroke-width="1.25"/>
<text transform="translate(135.2,478.6) scale(0.91,1)" font-size="8.7" stroke="#1a1a1a" stroke-width="0.13" text-anchor="end" fill="#1a1a1a">120</text>
<line x1="136" y1="535" x2="204.92" y2="535" stroke="#4a4a4a" stroke-width="1.25"/>
<line x1="145.7" y1="535" x2="145.7" y2="537.2" stroke="#4a4a4a" stroke-width="1.25"/>
<text transform="translate(145.7,545.6) scale(0.8,1)" font-size="8.6" stroke="#1a1a1a" stroke-width="0.15" text-anchor="middle" fill="#1a1a1a">0</text>
<line x1="158.63" y1="535" x2="158.63" y2="537.2" stroke="#4a4a4a" stroke-width="1.25"/>
<text transform="translate(158.63,545.6) scale(0.8,1)" font-size="8.6" stroke="#1a1a1a" stroke-width="0.15" text-anchor="middle" fill="#1a1a1a">0.05</text>
<line x1="171.56" y1="535" x2="171.56" y2="537.2" stroke="#4a4a4a" stroke-width="1.25"/>
<text transform="translate(171.56,545.6) scale(0.8,1)" font-size="8.6" stroke="#1a1a1a" stroke-width="0.15" text-anchor="middle" fill="#1a1a1a">0.1</text>
<line x1="184.49" y1="535" x2="184.49" y2="537.2" stroke="#4a4a4a" stroke-width="1.25"/>
<text transform="translate(184.49,545.6) scale(0.8,1)" font-size="8.6" stroke="#1a1a1a" stroke-width="0.15" text-anchor="middle" fill="#1a1a1a">0.5</text>
<line x1="197.42" y1="535" x2="197.42" y2="537.2" stroke="#4a4a4a" stroke-width="1.25"/>
<text transform="translate(197.42,545.6) scale(0.8,1)" font-size="8.6" stroke="#1a1a1a" stroke-width="0.15" text-anchor="middle" fill="#1a1a1a">1</text>
<text transform="translate(171.3,466) scale(1.03,1)" font-size="8.6" font-weight="bold" stroke="#111" stroke-width="0.15" text-anchor="middle" fill="#111">Evo</text>
<polyline points="145.7,485.7 158.63,491.1 171.56,492.6 184.49,491.1 197.42,499" fill="none" stroke="#6464f4" stroke-width="1.1"/>
<line x1="145.7" y1="481.2" x2="145.7" y2="490.2" stroke="#6a6af5" stroke-width="0.9"/>
<line x1="144.4" y1="481.2" x2="147" y2="481.2" stroke="#3c3cf2" stroke-width="1"/>
<line x1="144.4" y1="490.2" x2="147" y2="490.2" stroke="#3c3cf2" stroke-width="1"/>
<rect x="144.6" y="484.6" width="2.2" height="2.2" fill="#3c3cf2"/>
<line x1="158.63" y1="487.1" x2="158.63" y2="495.1" stroke="#6a6af5" stroke-width="0.9"/>
<line x1="157.33" y1="487.1" x2="159.93" y2="487.1" stroke="#3c3cf2" stroke-width="1"/>
<line x1="157.33" y1="495.1" x2="159.93" y2="495.1" stroke="#3c3cf2" stroke-width="1"/>
<rect x="157.53" y="490" width="2.2" height="2.2" fill="#3c3cf2"/>
<line x1="171.56" y1="489.1" x2="171.56" y2="496.1" stroke="#6a6af5" stroke-width="0.9"/>
<line x1="170.26" y1="489.1" x2="172.86" y2="489.1" stroke="#3c3cf2" stroke-width="1"/>
<line x1="170.26" y1="496.1" x2="172.86" y2="496.1" stroke="#3c3cf2" stroke-width="1"/>
<rect x="170.46" y="491.5" width="2.2" height="2.2" fill="#3c3cf2"/>
<line x1="184.49" y1="486.1" x2="184.49" y2="496.1" stroke="#6a6af5" stroke-width="0.9"/>
<line x1="183.19" y1="486.1" x2="185.79" y2="486.1" stroke="#3c3cf2" stroke-width="1"/>
<line x1="183.19" y1="496.1" x2="185.79" y2="496.1" stroke="#3c3cf2" stroke-width="1"/>
<rect x="183.39" y="490" width="2.2" height="2.2" fill="#3c3cf2"/>
<line x1="197.42" y1="497" x2="197.42" y2="501" stroke="#6a6af5" stroke-width="0.9"/>
<line x1="196.12" y1="497" x2="198.72" y2="497" stroke="#3c3cf2" stroke-width="1"/>
<line x1="196.12" y1="501" x2="198.72" y2="501" stroke="#3c3cf2" stroke-width="1"/>
<rect x="196.32" y="497.9" width="2.2" height="2.2" fill="#3c3cf2"/>
<text transform="translate(197.87,496.5)" font-size="7.3" letter-spacing="0.9" stroke="#000" stroke-width="0.2" text-anchor="middle" fill="#000">***</text>
<text transform="translate(116.6,506.9) rotate(-90) scale(1.07,1)" font-size="8.5" font-weight="bold" stroke="#111" stroke-width="0.14" text-anchor="middle" fill="#111">Cell viability (%)</text>
<text transform="translate(138.3,545.6)" font-size="8.5" stroke="#1a1a1a" stroke-width="0.12" text-anchor="end" fill="#1a1a1a">(μM)</text>
<line x1="226.1" y1="475.1" x2="226.1" y2="535.5" stroke="#4a4a4a" stroke-width="1.25"/>
<line x1="223.7" y1="535" x2="226.1" y2="535" stroke="#4a4a4a" stroke-width="1.25"/>
<text transform="translate(222.9,538) scale(0.91,1)" font-size="8.7" stroke="#1a1a1a" stroke-width="0.13" text-anchor="end" fill="#1a1a1a">0</text>
<line x1="223.7" y1="525.1" x2="226.1" y2="525.1" stroke="#4a4a4a" stroke-width="1.25"/>
<text transform="translate(222.9,528.1) scale(0.91,1)" font-size="8.7" stroke="#1a1a1a" stroke-width="0.13" text-anchor="end" fill="#1a1a1a">20</text>
<line x1="223.7" y1="515.2" x2="226.1" y2="515.2" stroke="#4a4a4a" stroke-width="1.25"/>
<text transform="translate(222.9,518.2) scale(0.91,1)" font-size="8.7" stroke="#1a1a1a" stroke-width="0.13" text-anchor="end" fill="#1a1a1a">40</text>
<line x1="223.7" y1="505.3" x2="226.1" y2="505.3" stroke="#4a4a4a" stroke-width="1.25"/>
<text transform="translate(222.9,508.3) scale(0.91,1)" font-size="8.7" stroke="#1a1a1a" stroke-width="0.13" text-anchor="end" fill="#1a1a1a">60</text>
<line x1="223.7" y1="495.4" x2="226.1" y2="495.4" stroke="#4a4a4a" stroke-width="1.25"/>
<text transform="translate(222.9,498.4) scale(0.91,1)" font-size="8.7" stroke="#1a1a1a" stroke-width="0.13" text-anchor="end" fill="#1a1a1a">80</text>
<line x1="223.7" y1="485.5" x2="226.1" y2="485.5" stroke="#4a4a4a" stroke-width="1.25"/>
<text transform="translate(222.9,488.5) scale(0.91,1)" font-size="8.7" stroke="#1a1a1a" stroke-width="0.13" text-anchor="end" fill="#1a1a1a">100</text>
<line x1="223.7" y1="475.6" x2="226.1" y2="475.6" stroke="#4a4a4a" stroke-width="1.25"/>
<text transform="translate(222.9,478.6) scale(0.91,1)" font-size="8.7" stroke="#1a1a1a" stroke-width="0.13" text-anchor="end" fill="#1a1a1a">120</text>
<line x1="223.7" y1="535" x2="292.62" y2="535" stroke="#4a4a4a" stroke-width="1.25"/>
<line x1="233.4" y1="535" x2="233.4" y2="537.2" stroke="#4a4a4a" stroke-width="1.25"/>
<text transform="translate(233.4,545.6) scale(0.8,1)" font-size="8.6" stroke="#1a1a1a" stroke-width="0.15" text-anchor="middle" fill="#1a1a1a">0</text>
<line x1="246.33" y1="535" x2="246.33" y2="537.2" stroke="#4a4a4a" stroke-width="1.25"/>
<text transform="translate(246.33,545.6) scale(0.8,1)" font-size="8.6" stroke="#1a1a1a" stroke-width="0.15" text-anchor="middle" fill="#1a1a1a">0.05</text>
<line x1="259.26" y1="535" x2="259.26" y2="537.2" stroke="#4a4a4a" stroke-width="1.25"/>
<text transform="translate(259.26,545.6) scale(0.8,1)" font-size="8.6" stroke="#1a1a1a" stroke-width="0.15" text-anchor="middle" fill="#1a1a1a">0.1</text>
<line x1="272.19" y1="535" x2="272.19" y2="537.2" stroke="#4a4a4a" stroke-width="1.25"/>
<text transform="translate(272.19,545.6) scale(0.8,1)" font-size="8.6" stroke="#1a1a1a" stroke-width="0.15" text-anchor="middle" fill="#1a1a1a">0.5</text>
<line x1="285.12" y1="535" x2="285.12" y2="537.2" stroke="#4a4a4a" stroke-width="1.25"/>
<text transform="translate(285.12,545.6) scale(0.8,1)" font-size="8.6" stroke="#1a1a1a" stroke-width="0.15" text-anchor="middle" fill="#1a1a1a">1</text>
<text transform="translate(259,466) scale(1.03,1)" font-size="8.6" font-weight="bold" stroke="#111" stroke-width="0.15" text-anchor="middle" fill="#111">EV205</text>
<polyline points="233.4,486 246.33,487.4 259.26,488.9 272.19,491.9 285.12,501.9" fill="none" stroke="#6464f4" stroke-width="1.1"/>
<line x1="233.4" y1="484.5" x2="233.4" y2="487.5" stroke="#6a6af5" stroke-width="0.9"/>
<line x1="232.1" y1="484.5" x2="234.7" y2="484.5" stroke="#3c3cf2" stroke-width="1"/>
<line x1="232.1" y1="487.5" x2="234.7" y2="487.5" stroke="#3c3cf2" stroke-width="1"/>
<rect x="232.3" y="484.9" width="2.2" height="2.2" fill="#3c3cf2"/>
<line x1="246.33" y1="486.4" x2="246.33" y2="488.4" stroke="#6a6af5" stroke-width="0.9"/>
<line x1="245.03" y1="486.4" x2="247.63" y2="486.4" stroke="#3c3cf2" stroke-width="1"/>
<line x1="245.03" y1="488.4" x2="247.63" y2="488.4" stroke="#3c3cf2" stroke-width="1"/>
<rect x="245.23" y="486.3" width="2.2" height="2.2" fill="#3c3cf2"/>
<line x1="259.26" y1="487.9" x2="259.26" y2="489.9" stroke="#6a6af5" stroke-width="0.9"/>
<line x1="257.96" y1="487.9" x2="260.56" y2="487.9" stroke="#3c3cf2" stroke-width="1"/>
<line x1="257.96" y1="489.9" x2="260.56" y2="489.9" stroke="#3c3cf2" stroke-width="1"/>
<rect x="258.16" y="487.8" width="2.2" height="2.2" fill="#3c3cf2"/>
<line x1="272.19" y1="489.9" x2="272.19" y2="493.9" stroke="#6a6af5" stroke-width="0.9"/>
<line x1="270.89" y1="489.9" x2="273.49" y2="489.9" stroke="#3c3cf2" stroke-width="1"/>
<line x1="270.89" y1="493.9" x2="273.49" y2="493.9" stroke="#3c3cf2" stroke-width="1"/>
<rect x="271.09" y="490.8" width="2.2" height="2.2" fill="#3c3cf2"/>
<rect x="284.02" y="500.8" width="2.2" height="2.2" fill="#3c3cf2"/>
<text transform="translate(259.71,487.7)" font-size="7.3" letter-spacing="0.9" stroke="#000" stroke-width="0.2" text-anchor="middle" fill="#000">**</text>
<text transform="translate(272.64,490.2)" font-size="7.3" letter-spacing="0.9" stroke="#000" stroke-width="0.2" text-anchor="middle" fill="#000">***</text>
<text transform="translate(285.57,501.3)" font-size="7.3" letter-spacing="0.9" stroke="#000" stroke-width="0.2" text-anchor="middle" fill="#000">***</text>
<line x1="314.4" y1="475.1" x2="314.4" y2="535.5" stroke="#4a4a4a" stroke-width="1.25"/>
<line x1="312" y1="535" x2="314.4" y2="535" stroke="#4a4a4a" stroke-width="1.25"/>
<text transform="translate(311.2,538) scale(0.91,1)" font-size="8.7" stroke="#1a1a1a" stroke-width="0.13" text-anchor="end" fill="#1a1a1a">0</text>
<line x1="312" y1="525.1" x2="314.4" y2="525.1" stroke="#4a4a4a" stroke-width="1.25"/>
<text transform="translate(311.2,528.1) scale(0.91,1)" font-size="8.7" stroke="#1a1a1a" stroke-width="0.13" text-anchor="end" fill="#1a1a1a">20</text>
<line x1="312" y1="515.2" x2="314.4" y2="515.2" stroke="#4a4a4a" stroke-width="1.25"/>
<text transform="translate(311.2,518.2) scale(0.91,1)" font-size="8.7" stroke="#1a1a1a" stroke-width="0.13" text-anchor="end" fill="#1a1a1a">40</text>
<line x1="312" y1="505.3" x2="314.4" y2="505.3" stroke="#4a4a4a" stroke-width="1.25"/>
<text transform="translate(311.2,508.3) scale(0.91,1)" font-size="8.7" stroke="#1a1a1a" stroke-width="0.13" text-anchor="end" fill="#1a1a1a">60</text>
<line x1="312" y1="495.4" x2="314.4" y2="495.4" stroke="#4a4a4a" stroke-width="1.25"/>
<text transform="translate(311.2,498.4) scale(0.91,1)" font-size="8.7" stroke="#1a1a1a" stroke-width="0.13" text-anchor="end" fill="#1a1a1a">80</text>
<line x1="312" y1="485.5" x2="314.4" y2="485.5" stroke="#4a4a4a" stroke-width="1.25"/>
<text transform="translate(311.2,488.5) scale(0.91,1)" font-size="8.7" stroke="#1a1a1a" stroke-width="0.13" text-anchor="end" fill="#1a1a1a">100</text>
<line x1="312" y1="475.6" x2="314.4" y2="475.6" stroke="#4a4a4a" stroke-width="1.25"/>
<text transform="translate(311.2,478.6) scale(0.91,1)" font-size="8.7" stroke="#1a1a1a" stroke-width="0.13" text-anchor="end" fill="#1a1a1a">120</text>
<line x1="312" y1="535" x2="380.92" y2="535" stroke="#4a4a4a" stroke-width="1.25"/>
<line x1="321.7" y1="535" x2="321.7" y2="537.2" stroke="#4a4a4a" stroke-width="1.25"/>
<text transform="translate(321.7,545.6) scale(0.8,1)" font-size="8.6" stroke="#1a1a1a" stroke-width="0.15" text-anchor="middle" fill="#1a1a1a">0</text>
<line x1="334.63" y1="535" x2="334.63" y2="537.2" stroke="#4a4a4a" stroke-width="1.25"/>
<text transform="translate(334.63,545.6) scale(0.8,1)" font-size="8.6" stroke="#1a1a1a" stroke-width="0.15" text-anchor="middle" fill="#1a1a1a">0.05</text>
<line x1="347.56" y1="535" x2="347.56" y2="537.2" stroke="#4a4a4a" stroke-width="1.25"/>
<text transform="translate(347.56,545.6) scale(0.8,1)" font-size="8.6" stroke="#1a1a1a" stroke-width="0.15" text-anchor="middle" fill="#1a1a1a">0.1</text>
<line x1="360.49" y1="535" x2="360.49" y2="537.2" stroke="#4a4a4a" stroke-width="1.25"/>
<text transform="translate(360.49,545.6) scale(0.8,1)" font-size="8.6" stroke="#1a1a1a" stroke-width="0.15" text-anchor="middle" fill="#1a1a1a">0.5</text>
<line x1="373.42" y1="535" x2="373.42" y2="537.2" stroke="#4a4a4a" stroke-width="1.25"/>
<text transform="translate(373.42,545.6) scale(0.8,1)" font-size="8.6" stroke="#1a1a1a" stroke-width="0.15" text-anchor="middle" fill="#1a1a1a">1</text>
<text transform="translate(347.3,466) scale(1.03,1)" font-size="8.6" font-weight="bold" stroke="#111" stroke-width="0.15" text-anchor="middle" fill="#111">EV206</text>
<polyline points="321.7,485.7 334.63,487.4 347.56,497 360.49,521.7 373.42,519.6" fill="none" stroke="#6464f4" stroke-width="1.1"/>
<line x1="321.7" y1="484.2" x2="321.7" y2="487.2" stroke="#6a6af5" stroke-width="0.9"/>
<line x1="320.4" y1="484.2" x2="323" y2="484.2" stroke="#3c3cf2" stroke-width="1"/>
<line x1="320.4" y1="487.2" x2="323" y2="487.2" stroke="#3c3cf2" stroke-width="1"/>
<rect x="320.6" y="484.6" width="2.2" height="2.2" fill="#3c3cf2"/>
<line x1="334.63" y1="485.9" x2="334.63" y2="488.9" stroke="#6a6af5" stroke-width="0.9"/>
<line x1="333.33" y1="485.9" x2="335.93" y2="485.9" stroke="#3c3cf2" stroke-width="1"/>
<line x1="333.33" y1="488.9" x2="335.93" y2="488.9" stroke="#3c3cf2" stroke-width="1"/>
<rect x="333.53" y="486.3" width="2.2" height="2.2" fill="#3c3cf2"/>
<line x1="347.56" y1="495.5" x2="347.56" y2="498.5" stroke="#6a6af5" stroke-width="0.9"/>
<line x1="346.26" y1="495.5" x2="348.86" y2="495.5" stroke="#3c3cf2" stroke-width="1"/>
<line x1="346.26" y1="498.5" x2="348.86" y2="498.5" stroke="#3c3cf2" stroke-width="1"/>
<rect x="346.46" y="495.9" width="2.2" height="2.2" fill="#3c3cf2"/>
<line x1="360.49" y1="520.2" x2="360.49" y2="523.2" stroke="#6a6af5" stroke-width="0.9"/>
<line x1="359.19" y1="520.2" x2="361.79" y2="520.2" stroke="#3c3cf2" stroke-width="1"/>
<line x1="359.19" y1="523.2" x2="361.79" y2="523.2" stroke="#3c3cf2" stroke-width="1"/>
<rect x="359.39" y="520.6" width="2.2" height="2.2" fill="#3c3cf2"/>
<rect x="372.32" y="518.5" width="2.2" height="2.2" fill="#3c3cf2"/>
<text transform="translate(335.08,485.3)" font-size="7.3" letter-spacing="0.9" stroke="#000" stroke-width="0.2" text-anchor="middle" fill="#000">***</text>
<text transform="translate(348.01,495.1)" font-size="7.3" letter-spacing="0.9" stroke="#000" stroke-width="0.2" text-anchor="middle" fill="#000">***</text>
<text transform="translate(360.94,519.7)" font-size="7.3" letter-spacing="0.9" stroke="#000" stroke-width="0.2" text-anchor="middle" fill="#000">***</text>
<text transform="translate(373.87,519)" font-size="7.3" letter-spacing="0.9" stroke="#000" stroke-width="0.2" text-anchor="middle" fill="#000">***</text>
<line x1="402.4" y1="475.1" x2="402.4" y2="535.5" stroke="#4a4a4a" stroke-width="1.25"/>
<line x1="400" y1="535" x2="402.4" y2="535" stroke="#4a4a4a" stroke-width="1.25"/>
<text transform="translate(399.2,538) scale(0.91,1)" font-size="8.7" stroke="#1a1a1a" stroke-width="0.13" text-anchor="end" fill="#1a1a1a">0</text>
<line x1="400" y1="525.1" x2="402.4" y2="525.1" stroke="#4a4a4a" stroke-width="1.25"/>
<text transform="translate(399.2,528.1) scale(0.91,1)" font-size="8.7" stroke="#1a1a1a" stroke-width="0.13" text-anchor="end" fill="#1a1a1a">20</text>
<line x1="400" y1="515.2" x2="402.4" y2="515.2" stroke="#4a4a4a" stroke-width="1.25"/>
<text transform="translate(399.2,518.2) scale(0.91,1)" font-size="8.7" stroke="#1a1a1a" stroke-width="0.13" text-anchor="end" fill="#1a1a1a">40</text>
<line x1="400" y1="505.3" x2="402.4" y2="505.3" stroke="#4a4a4a" stroke-width="1.25"/>
<text transform="translate(399.2,508.3) scale(0.91,1)" font-size="8.7" stroke="#1a1a1a" stroke-width="0.13" text-anchor="end" fill="#1a1a1a">60</text>
<line x1="400" y1="495.4" x2="402.4" y2="495.4" stroke="#4a4a4a" stroke-width="1.25"/>
<text transform="translate(399.2,498.4) scale(0.91,1)" font-size="8.7" stroke="#1a1a1a" stroke-width="0.13" text-anchor="end" fill="#1a1a1a">80</text>
<line x1="400" y1="485.5" x2="402.4" y2="485.5" stroke="#4a4a4a" stroke-width="1.25"/>
<text transform="translate(399.2,488.5) scale(0.91,1)" font-size="8.7" stroke="#1a1a1a" stroke-width="0.13" text-anchor="end" fill="#1a1a1a">100</text>
<line x1="400" y1="475.6" x2="402.4" y2="475.6" stroke="#4a4a4a" stroke-width="1.25"/>
<text transform="translate(399.2,478.6) scale(0.91,1)" font-size="8.7" stroke="#1a1a1a" stroke-width="0.13" text-anchor="end" fill="#1a1a1a">120</text>
<line x1="400" y1="535" x2="468.72" y2="535" stroke="#4a4a4a" stroke-width="1.25"/>
<line x1="409.5" y1="535" x2="409.5" y2="537.2" stroke="#4a4a4a" stroke-width="1.25"/>
<text transform="translate(409.5,545.6) scale(0.8,1)" font-size="8.6" stroke="#1a1a1a" stroke-width="0.15" text-anchor="middle" fill="#1a1a1a">0</text>
<line x1="422.43" y1="535" x2="422.43" y2="537.2" stroke="#4a4a4a" stroke-width="1.25"/>
<text transform="translate(422.43,545.6) scale(0.8,1)" font-size="8.6" stroke="#1a1a1a" stroke-width="0.15" text-anchor="middle" fill="#1a1a1a">0.05</text>
<line x1="435.36" y1="535" x2="435.36" y2="537.2" stroke="#4a4a4a" stroke-width="1.25"/>
<text transform="translate(435.36,545.6) scale(0.8,1)" font-size="8.6" stroke="#1a1a1a" stroke-width="0.15" text-anchor="middle" fill="#1a1a1a">0.1</text>
<line x1="448.29" y1="535" x2="448.29" y2="537.2" stroke="#4a4a4a" stroke-width="1.25"/>
<text transform="translate(448.29,545.6) scale(0.8,1)" font-size="8.6" stroke="#1a1a1a" stroke-width="0.15" text-anchor="middle" fill="#1a1a1a">0.5</text>
<line x1="461.22" y1="535" x2="461.22" y2="537.2" stroke="#4a4a4a" stroke-width="1.25"/>
<text transform="translate(461.22,545.6) scale(0.8,1)" font-size="8.6" stroke="#1a1a1a" stroke-width="0.15" text-anchor="middle" fill="#1a1a1a">1</text>
<text transform="translate(435.3,466) scale(1.03,1)" font-size="8.6" font-weight="bold" stroke="#111" stroke-width="0.15" text-anchor="middle" fill="#111">EV217</text>
<polyline points="409.5,485.7 422.43,487.2 435.36,488.9 448.29,491.9 461.22,505.4" fill="none" stroke="#6464f4" stroke-width="1.1"/>
<line x1="409.5" y1="479.2" x2="409.5" y2="492.2" stroke="#6a6af5" stroke-width="0.9"/>
<line x1="408.2" y1="479.2" x2="410.8" y2="479.2" stroke="#3c3cf2" stroke-width="1"/>
<line x1="408.2" y1="492.2" x2="410.8" y2="492.2" stroke="#3c3cf2" stroke-width="1"/>
<rect x="408.4" y="484.6" width="2.2" height="2.2" fill="#3c3cf2"/>
<line x1="422.43" y1="479.9" x2="422.43" y2="494.5" stroke="#6a6af5" stroke-width="0.9"/>
<line x1="421.13" y1="479.9" x2="423.73" y2="479.9" stroke="#3c3cf2" stroke-width="1"/>
<line x1="421.13" y1="494.5" x2="423.73" y2="494.5" stroke="#3c3cf2" stroke-width="1"/>
<rect x="421.33" y="486.1" width="2.2" height="2.2" fill="#3c3cf2"/>
<line x1="435.36" y1="482.3" x2="435.36" y2="495.5" stroke="#6a6af5" stroke-width="0.9"/>
<line x1="434.06" y1="482.3" x2="436.66" y2="482.3" stroke="#3c3cf2" stroke-width="1"/>
<line x1="434.06" y1="495.5" x2="436.66" y2="495.5" stroke="#3c3cf2" stroke-width="1"/>
<rect x="434.26" y="487.8" width="2.2" height="2.2" fill="#3c3cf2"/>
<line x1="448.29" y1="483.4" x2="448.29" y2="500.4" stroke="#6a6af5" stroke-width="0.9"/>
<line x1="446.99" y1="483.4" x2="449.59" y2="483.4" stroke="#3c3cf2" stroke-width="1"/>
<line x1="446.99" y1="500.4" x2="449.59" y2="500.4" stroke="#3c3cf2" stroke-width="1"/>
<rect x="447.19" y="490.8" width="2.2" height="2.2" fill="#3c3cf2"/>
<line x1="461.22" y1="500.6" x2="461.22" y2="510.2" stroke="#6a6af5" stroke-width="0.9"/>
<line x1="459.92" y1="500.6" x2="462.52" y2="500.6" stroke="#3c3cf2" stroke-width="1"/>
<line x1="459.92" y1="510.2" x2="462.52" y2="510.2" stroke="#3c3cf2" stroke-width="1"/>
<rect x="460.12" y="504.3" width="2.2" height="2.2" fill="#3c3cf2"/>
<text transform="translate(461.67,500.8)" font-size="7.3" letter-spacing="0.9" stroke="#000" stroke-width="0.2" text-anchor="middle" fill="#000">*</text>
<line x1="490.2" y1="474.8" x2="490.2" y2="535.2" stroke="#4a4a4a" stroke-width="1.25"/>
<line x1="487.8" y1="534.7" x2="490.2" y2="534.7" stroke="#4a4a4a" stroke-width="1.25"/>
<text transform="translate(487,537.7) scale(0.91,1)" font-size="8.7" stroke="#1a1a1a" stroke-width="0.13" text-anchor="end" fill="#1a1a1a">0</text>
<line x1="487.8" y1="524.8" x2="490.2" y2="524.8" stroke="#4a4a4a" stroke-width="1.25"/>
<text transform="translate(487,527.8) scale(0.91,1)" font-size="8.7" stroke="#1a1a1a" stroke-width="0.13" text-anchor="end" fill="#1a1a1a">20</text>
<line x1="487.8" y1="514.9" x2="490.2" y2="514.9" stroke="#4a4a4a" stroke-width="1.25"/>
<text transform="translate(487,517.9) scale(0.91,1)" font-size="8.7" stroke="#1a1a1a" stroke-width="0.13" text-anchor="end" fill="#1a1a1a">40</text>
<line x1="487.8" y1="505" x2="490.2" y2="505" stroke="#4a4a4a" stroke-width="1.25"/>
<text transform="translate(487,508) scale(0.91,1)" font-size="8.7" stroke="#1a1a1a" stroke-width="0.13" text-anchor="end" fill="#1a1a1a">60</text>
<line x1="487.8" y1="495.1" x2="490.2" y2="495.1" stroke="#4a4a4a" stroke-width="1.25"/>
<text transform="translate(487,498.1) scale(0.91,1)" font-size="8.7" stroke="#1a1a1a" stroke-width="0.13" text-anchor="end" fill="#1a1a1a">80</text>
<line x1="487.8" y1="485.2" x2="490.2" y2="485.2" stroke="#4a4a4a" stroke-width="1.25"/>
<text transform="translate(487,488.2) scale(0.91,1)" font-size="8.7" stroke="#1a1a1a" stroke-width="0.13" text-anchor="end" fill="#1a1a1a">100</text>
<line x1="487.8" y1="475.3" x2="490.2" y2="475.3" stroke="#4a4a4a" stroke-width="1.25"/>
<text transform="translate(487,478.3) scale(0.91,1)" font-size="8.7" stroke="#1a1a1a" stroke-width="0.13" text-anchor="end" fill="#1a1a1a">120</text>
<line x1="487.8" y1="534.7" x2="556.62" y2="534.7" stroke="#4a4a4a" stroke-width="1.25"/>
<line x1="497.4" y1="534.7" x2="497.4" y2="536.9" stroke="#4a4a4a" stroke-width="1.25"/>
<text transform="translate(497.4,545.3) scale(0.8,1)" font-size="8.6" stroke="#1a1a1a" stroke-width="0.15" text-anchor="middle" fill="#1a1a1a">0</text>
<line x1="510.33" y1="534.7" x2="510.33" y2="536.9" stroke="#4a4a4a" stroke-width="1.25"/>
<text transform="translate(510.33,545.3) scale(0.8,1)" font-size="8.6" stroke="#1a1a1a" stroke-width="0.15" text-anchor="middle" fill="#1a1a1a">0.05</text>
<line x1="523.26" y1="534.7" x2="523.26" y2="536.9" stroke="#4a4a4a" stroke-width="1.25"/>
<text transform="translate(523.26,545.3) scale(0.8,1)" font-size="8.6" stroke="#1a1a1a" stroke-width="0.15" text-anchor="middle" fill="#1a1a1a">0.1</text>
<line x1="536.19" y1="534.7" x2="536.19" y2="536.9" stroke="#4a4a4a" stroke-width="1.25"/>
<text transform="translate(536.19,545.3) scale(0.8,1)" font-size="8.6" stroke="#1a1a1a" stroke-width="0.15" text-anchor="middle" fill="#1a1a1a">0.5</text>
<line x1="549.12" y1="534.7" x2="549.12" y2="536.9" stroke="#4a4a4a" stroke-width="1.25"/>
<text transform="translate(549.12,545.3) scale(0.8,1)" font-size="8.6" stroke="#1a1a1a" stroke-width="0.15" text-anchor="middle" fill="#1a1a1a">1</text>
<text transform="translate(523.1,466) scale(1.03,1)" font-size="8.6" font-weight="bold" stroke="#111" stroke-width="0.15" text-anchor="middle" fill="#111">EV218</text>
<polyline points="497.4,485.7 510.33,489.2 523.26,492.6 536.19,497.5 549.12,505.1" fill="none" stroke="#6464f4" stroke-width="1.1"/>
<line x1="497.4" y1="484.2" x2="497.4" y2="487.2" stroke="#6a6af5" stroke-width="0.9"/>
<line x1="496.1" y1="484.2" x2="498.7" y2="484.2" stroke="#3c3cf2" stroke-width="1"/>
<line x1="496.1" y1="487.2" x2="498.7" y2="487.2" stroke="#3c3cf2" stroke-width="1"/>
<rect x="496.3" y="484.6" width="2.2" height="2.2" fill="#3c3cf2"/>
<line x1="510.33" y1="485.5" x2="510.33" y2="492.9" stroke="#6a6af5" stroke-width="0.9"/>
<line x1="509.03" y1="485.5" x2="511.63" y2="485.5" stroke="#3c3cf2" stroke-width="1"/>
<line x1="509.03" y1="492.9" x2="511.63" y2="492.9" stroke="#3c3cf2" stroke-width="1"/>
<rect x="509.23" y="488.1" width="2.2" height="2.2" fill="#3c3cf2"/>
<line x1="523.26" y1="490.6" x2="523.26" y2="494.6" stroke="#6a6af5" stroke-width="0.9"/>
<line x1="521.96" y1="490.6" x2="524.56" y2="490.6" stroke="#3c3cf2" stroke-width="1"/>
<line x1="521.96" y1="494.6" x2="524.56" y2="494.6" stroke="#3c3cf2" stroke-width="1"/>
<rect x="522.16" y="491.5" width="2.2" height="2.2" fill="#3c3cf2"/>
<line x1="536.19" y1="495.5" x2="536.19" y2="499.5" stroke="#6a6af5" stroke-width="0.9"/>
<line x1="534.89" y1="495.5" x2="537.49" y2="495.5" stroke="#3c3cf2" stroke-width="1"/>
<line x1="534.89" y1="499.5" x2="537.49" y2="499.5" stroke="#3c3cf2" stroke-width="1"/>
<rect x="535.09" y="496.4" width="2.2" height="2.2" fill="#3c3cf2"/>
<rect x="548.02" y="504" width="2.2" height="2.2" fill="#3c3cf2"/>
<text transform="translate(510.78,485.8)" font-size="7.3" letter-spacing="0.9" stroke="#000" stroke-width="0.2" text-anchor="middle" fill="#000">*</text>
<text transform="translate(523.71,490.2)" font-size="7.3" letter-spacing="0.9" stroke="#000" stroke-width="0.2" text-anchor="middle" fill="#000">***</text>
<text transform="translate(536.64,494.6)" font-size="7.3" letter-spacing="0.9" stroke="#000" stroke-width="0.2" text-anchor="middle" fill="#000">***</text>
<text transform="translate(549.57,504.7)" font-size="7.3" letter-spacing="0.9" stroke="#000" stroke-width="0.2" text-anchor="middle" fill="#000">***</text>
<line x1="138.4" y1="572.1" x2="138.4" y2="632.4" stroke="#4a4a4a" stroke-width="1.25"/>
<line x1="136" y1="631.9" x2="138.4" y2="631.9" stroke="#4a4a4a" stroke-width="1.25"/>
<text transform="translate(135.2,634.9) scale(0.91,1)" font-size="8.7" stroke="#1a1a1a" stroke-width="0.13" text-anchor="end" fill="#1a1a1a">0</text>
<line x1="136" y1="622.02" x2="138.4" y2="622.02" stroke="#4a4a4a" stroke-width="1.25"/>
<text transform="translate(135.2,625.02) scale(0.91,1)" font-size="8.7" stroke="#1a1a1a" stroke-width="0.13" text-anchor="end" fill="#1a1a1a">20</text>
<line x1="136" y1="612.13" x2="138.4" y2="612.13" stroke="#4a4a4a" stroke-width="1.25"/>
<text transform="translate(135.2,615.13) scale(0.91,1)" font-size="8.7" stroke="#1a1a1a" stroke-width="0.13" text-anchor="end" fill="#1a1a1a">40</text>
<line x1="136" y1="602.25" x2="138.4" y2="602.25" stroke="#4a4a4a" stroke-width="1.25"/>
<text transform="translate(135.2,605.25) scale(0.91,1)" font-size="8.7" stroke="#1a1a1a" stroke-width="0.13" text-anchor="end" fill="#1a1a1a">60</text>
<line x1="136" y1="592.37" x2="138.4" y2="592.37" stroke="#4a4a4a" stroke-width="1.25"/>
<text transform="translate(135.2,595.37) scale(0.91,1)" font-size="8.7" stroke="#1a1a1a" stroke-width="0.13" text-anchor="end" fill="#1a1a1a">80</text>
<line x1="136" y1="582.48" x2="138.4" y2="582.48" stroke="#4a4a4a" stroke-width="1.25"/>
<text transform="translate(135.2,585.48) scale(0.91,1)" font-size="8.7" stroke="#1a1a1a" stroke-width="0.13" text-anchor="end" fill="#1a1a1a">100</text>
<line x1="136" y1="572.6" x2="138.4" y2="572.6" stroke="#4a4a4a" stroke-width="1.25"/>
<text transform="translate(135.2,575.6) scale(0.91,1)" font-size="8.7" stroke="#1a1a1a" stroke-width="0.13" text-anchor="end" fill="#1a1a1a">120</text>
<line x1="136" y1="631.9" x2="204.92" y2="631.9" stroke="#4a4a4a" stroke-width="1.25"/>
<line x1="145.7" y1="631.9" x2="145.7" y2="634.1" stroke="#4a4a4a" stroke-width="1.25"/>
<text transform="translate(145.7,642.5) scale(0.8,1)" font-size="8.6" stroke="#1a1a1a" stroke-width="0.15" text-anchor="middle" fill="#1a1a1a">0</text>
<line x1="158.63" y1="631.9" x2="158.63" y2="634.1" stroke="#4a4a4a" stroke-width="1.25"/>
<text transform="translate(158.63,642.5) scale(0.8,1)" font-size="8.6" stroke="#1a1a1a" stroke-width="0.15" text-anchor="middle" fill="#1a1a1a">0.05</text>
<line x1="171.56" y1="631.9" x2="171.56" y2="634.1" stroke="#4a4a4a" stroke-width="1.25"/>
<text transform="translate(171.56,642.5) scale(0.8,1)" font-size="8.6" stroke="#1a1a1a" stroke-width="0.15" text-anchor="middle" fill="#1a1a1a">0.1</text>
<line x1="184.49" y1="631.9" x2="184.49" y2="634.1" stroke="#4a4a4a" stroke-width="1.25"/>
<text transform="translate(184.49,642.5) scale(0.8,1)" font-size="8.6" stroke="#1a1a1a" stroke-width="0.15" text-anchor="middle" fill="#1a1a1a">0.5</text>
<line x1="197.42" y1="631.9" x2="197.42" y2="634.1" stroke="#4a4a4a" stroke-width="1.25"/>
<text transform="translate(197.42,642.5) scale(0.8,1)" font-size="8.6" stroke="#1a1a1a" stroke-width="0.15" text-anchor="middle" fill="#1a1a1a">1</text>
<text transform="translate(171.3,570) scale(1.03,1)" font-size="8.6" font-weight="bold" stroke="#111" stroke-width="0.15" text-anchor="middle" fill="#111">Evo</text>
<polyline points="145.7,582.6 158.63,583.6 171.56,586.2 184.49,586.5 197.42,604.3" fill="none" stroke="#6464f4" stroke-width="1.1"/>
<rect x="144.6" y="581.5" width="2.2" height="2.2" fill="#3c3cf2"/>
<line x1="158.63" y1="580.6" x2="158.63" y2="586.6" stroke="#6a6af5" stroke-width="0.9"/>
<line x1="157.33" y1="580.6" x2="159.93" y2="580.6" stroke="#3c3cf2" stroke-width="1"/>
<line x1="157.33" y1="586.6" x2="159.93" y2="586.6" stroke="#3c3cf2" stroke-width="1"/>
<rect x="157.53" y="582.5" width="2.2" height="2.2" fill="#3c3cf2"/>
<line x1="171.56" y1="581" x2="171.56" y2="591.4" stroke="#6a6af5" stroke-width="0.9"/>
<line x1="170.26" y1="581" x2="172.86" y2="581" stroke="#3c3cf2" stroke-width="1"/>
<line x1="170.26" y1="591.4" x2="172.86" y2="591.4" stroke="#3c3cf2" stroke-width="1"/>
<rect x="170.46" y="585.1" width="2.2" height="2.2" fill="#3c3cf2"/>
<line x1="184.49" y1="584" x2="184.49" y2="589" stroke="#6a6af5" stroke-width="0.9"/>
<line x1="183.19" y1="584" x2="185.79" y2="584" stroke="#3c3cf2" stroke-width="1"/>
<line x1="183.19" y1="589" x2="185.79" y2="589" stroke="#3c3cf2" stroke-width="1"/>
<rect x="183.39" y="585.4" width="2.2" height="2.2" fill="#3c3cf2"/>
<line x1="197.42" y1="601.6" x2="197.42" y2="607" stroke="#6a6af5" stroke-width="0.9"/>
<line x1="196.12" y1="601.6" x2="198.72" y2="601.6" stroke="#3c3cf2" stroke-width="1"/>
<line x1="196.12" y1="607" x2="198.72" y2="607" stroke="#3c3cf2" stroke-width="1"/>
<rect x="196.32" y="603.2" width="2.2" height="2.2" fill="#3c3cf2"/>
<text transform="translate(197.87,602.1)" font-size="7.3" letter-spacing="0.9" stroke="#000" stroke-width="0.2" text-anchor="middle" fill="#000">***</text>
<text transform="translate(116.6,603.85) rotate(-90) scale(1.07,1)" font-size="8.5" font-weight="bold" stroke="#111" stroke-width="0.14" text-anchor="middle" fill="#111">Cell viability (%)</text>
<text transform="translate(138.3,642.5)" font-size="8.5" stroke="#1a1a1a" stroke-width="0.12" text-anchor="end" fill="#1a1a1a">(μM)</text>
<line x1="225.6" y1="572" x2="225.6" y2="632.3" stroke="#4a4a4a" stroke-width="1.25"/>
<line x1="223.2" y1="631.8" x2="225.6" y2="631.8" stroke="#4a4a4a" stroke-width="1.25"/>
<text transform="translate(222.4,634.8) scale(0.91,1)" font-size="8.7" stroke="#1a1a1a" stroke-width="0.13" text-anchor="end" fill="#1a1a1a">0</text>
<line x1="223.2" y1="621.92" x2="225.6" y2="621.92" stroke="#4a4a4a" stroke-width="1.25"/>
<text transform="translate(222.4,624.92) scale(0.91,1)" font-size="8.7" stroke="#1a1a1a" stroke-width="0.13" text-anchor="end" fill="#1a1a1a">20</text>
<line x1="223.2" y1="612.03" x2="225.6" y2="612.03" stroke="#4a4a4a" stroke-width="1.25"/>
<text transform="translate(222.4,615.03) scale(0.91,1)" font-size="8.7" stroke="#1a1a1a" stroke-width="0.13" text-anchor="end" fill="#1a1a1a">40</text>
<line x1="223.2" y1="602.15" x2="225.6" y2="602.15" stroke="#4a4a4a" stroke-width="1.25"/>
<text transform="translate(222.4,605.15) scale(0.91,1)" font-size="8.7" stroke="#1a1a1a" stroke-width="0.13" text-anchor="end" fill="#1a1a1a">60</text>
<line x1="223.2" y1="592.27" x2="225.6" y2="592.27" stroke="#4a4a4a" stroke-width="1.25"/>
<text transform="translate(222.4,595.27) scale(0.91,1)" font-size="8.7" stroke="#1a1a1a" stroke-width="0.13" text-anchor="end" fill="#1a1a1a">80</text>
<line x1="223.2" y1="582.38" x2="225.6" y2="582.38" stroke="#4a4a4a" stroke-width="1.25"/>
<text transform="translate(222.4,585.38) scale(0.91,1)" font-size="8.7" stroke="#1a1a1a" stroke-width="0.13" text-anchor="end" fill="#1a1a1a">100</text>
<line x1="223.2" y1="572.5" x2="225.6" y2="572.5" stroke="#4a4a4a" stroke-width="1.25"/>
<text transform="translate(222.4,575.5) scale(0.91,1)" font-size="8.7" stroke="#1a1a1a" stroke-width="0.13" text-anchor="end" fill="#1a1a1a">120</text>
<line x1="223.2" y1="631.8" x2="292.12" y2="631.8" stroke="#4a4a4a" stroke-width="1.25"/>
<line x1="232.9" y1="631.8" x2="232.9" y2="634" stroke="#4a4a4a" stroke-width="1.25"/>
<text transform="translate(232.9,642.4) scale(0.8,1)" font-size="8.6" stroke="#1a1a1a" stroke-width="0.15" text-anchor="middle" fill="#1a1a1a">0</text>
<line x1="245.83" y1="631.8" x2="245.83" y2="634" stroke="#4a4a4a" stroke-width="1.25"/>
<text transform="translate(245.83,642.4) scale(0.8,1)" font-size="8.6" stroke="#1a1a1a" stroke-width="0.15" text-anchor="middle" fill="#1a1a1a">0.05</text>
<line x1="258.76" y1="631.8" x2="258.76" y2="634" stroke="#4a4a4a" stroke-width="1.25"/>
<text transform="translate(258.76,642.4) scale(0.8,1)" font-size="8.6" stroke="#1a1a1a" stroke-width="0.15" text-anchor="middle" fill="#1a1a1a">0.1</text>
<line x1="271.69" y1="631.8" x2="271.69" y2="634" stroke="#4a4a4a" stroke-width="1.25"/>
<text transform="translate(271.69,642.4) scale(0.8,1)" font-size="8.6" stroke="#1a1a1a" stroke-width="0.15" text-anchor="middle" fill="#1a1a1a">0.5</text>
<line x1="284.62" y1="631.8" x2="284.62" y2="634" stroke="#4a4a4a" stroke-width="1.25"/>
<text transform="translate(284.62,642.4) scale(0.8,1)" font-size="8.6" stroke="#1a1a1a" stroke-width="0.15" text-anchor="middle" fill="#1a1a1a">1</text>
<text transform="translate(258.5,570) scale(1.03,1)" font-size="8.6" font-weight="bold" stroke="#111" stroke-width="0.15" text-anchor="middle" fill="#111">EV205</text>
<polyline points="232.9,582.6 245.83,584 258.76,582.1 271.69,585.8 284.62,595.7" fill="none" stroke="#6464f4" stroke-width="1.1"/>
<line x1="232.9" y1="579.4" x2="232.9" y2="585.8" stroke="#6a6af5" stroke-width="0.9"/>
<line x1="231.6" y1="579.4" x2="234.2" y2="579.4" stroke="#3c3cf2" stroke-width="1"/>
<line x1="231.6" y1="585.8" x2="234.2" y2="585.8" stroke="#3c3cf2" stroke-width="1"/>
<rect x="231.8" y="581.5" width="2.2" height="2.2" fill="#3c3cf2"/>
<rect x="244.73" y="582.9" width="2.2" height="2.2" fill="#3c3cf2"/>
<line x1="258.76" y1="576.6" x2="258.76" y2="587.6" stroke="#6a6af5" stroke-width="0.9"/>
<line x1="257.46" y1="576.6" x2="260.06" y2="576.6" stroke="#3c3cf2" stroke-width="1"/>
<line x1="257.46" y1="587.6" x2="260.06" y2="587.6" stroke="#3c3cf2" stroke-width="1"/>
<rect x="257.66" y="581" width="2.2" height="2.2" fill="#3c3cf2"/>
<line x1="271.69" y1="582.7" x2="271.69" y2="588.9" stroke="#6a6af5" stroke-width="0.9"/>
<line x1="270.39" y1="582.7" x2="272.99" y2="582.7" stroke="#3c3cf2" stroke-width="1"/>
<line x1="270.39" y1="588.9" x2="272.99" y2="588.9" stroke="#3c3cf2" stroke-width="1"/>
<rect x="270.59" y="584.7" width="2.2" height="2.2" fill="#3c3cf2"/>
<line x1="284.62" y1="594.2" x2="284.62" y2="597.2" stroke="#6a6af5" stroke-width="0.9"/>
<line x1="283.32" y1="594.2" x2="285.92" y2="594.2" stroke="#3c3cf2" stroke-width="1"/>
<line x1="283.32" y1="597.2" x2="285.92" y2="597.2" stroke="#3c3cf2" stroke-width="1"/>
<rect x="283.52" y="594.6" width="2.2" height="2.2" fill="#3c3cf2"/>
<text transform="translate(285.07,594.4)" font-size="7.3" letter-spacing="0.9" stroke="#000" stroke-width="0.2" text-anchor="middle" fill="#000">***</text>
<line x1="314.5" y1="572.1" x2="314.5" y2="632.4" stroke="#4a4a4a" stroke-width="1.25"/>
<line x1="312.1" y1="631.9" x2="314.5" y2="631.9" stroke="#4a4a4a" stroke-width="1.25"/>
<text transform="translate(311.3,634.9) scale(0.91,1)" font-size="8.7" stroke="#1a1a1a" stroke-width="0.13" text-anchor="end" fill="#1a1a1a">0</text>
<line x1="312.1" y1="622.02" x2="314.5" y2="622.02" stroke="#4a4a4a" stroke-width="1.25"/>
<text transform="translate(311.3,625.02) scale(0.91,1)" font-size="8.7" stroke="#1a1a1a" stroke-width="0.13" text-anchor="end" fill="#1a1a1a">20</text>
<line x1="312.1" y1="612.13" x2="314.5" y2="612.13" stroke="#4a4a4a" stroke-width="1.25"/>
<text transform="translate(311.3,615.13) scale(0.91,1)" font-size="8.7" stroke="#1a1a1a" stroke-width="0.13" text-anchor="end" fill="#1a1a1a">40</text>
<line x1="312.1" y1="602.25" x2="314.5" y2="602.25" stroke="#4a4a4a" stroke-width="1.25"/>
<text transform="translate(311.3,605.25) scale(0.91,1)" font-size="8.7" stroke="#1a1a1a" stroke-width="0.13" text-anchor="end" fill="#1a1a1a">60</text>
<line x1="312.1" y1="592.37" x2="314.5" y2="592.37" stroke="#4a4a4a" stroke-width="1.25"/>
<text transform="translate(311.3,595.37) scale(0.91,1)" font-size="8.7" stroke="#1a1a1a" stroke-width="0.13" text-anchor="end" fill="#1a1a1a">80</text>
<line x1="312.1" y1="582.48" x2="314.5" y2="582.48" stroke="#4a4a4a" stroke-width="1.25"/>
<text transform="translate(311.3,585.48) scale(0.91,1)" font-size="8.7" stroke="#1a1a1a" stroke-width="0.13" text-anchor="end" fill="#1a1a1a">100</text>
<line x1="312.1" y1="572.6" x2="314.5" y2="572.6" stroke="#4a4a4a" stroke-width="1.25"/>
<text transform="translate(311.3,575.6) scale(0.91,1)" font-size="8.7" stroke="#1a1a1a" stroke-width="0.13" text-anchor="end" fill="#1a1a1a">120</text>
<line x1="312.1" y1="631.9" x2="381.02" y2="631.9" stroke="#4a4a4a" stroke-width="1.25"/>
<line x1="321.8" y1="631.9" x2="321.8" y2="634.1" stroke="#4a4a4a" stroke-width="1.25"/>
<text transform="translate(321.8,642.5) scale(0.8,1)" font-size="8.6" stroke="#1a1a1a" stroke-width="0.15" text-anchor="middle" fill="#1a1a1a">0</text>
<line x1="334.73" y1="631.9" x2="334.73" y2="634.1" stroke="#4a4a4a" stroke-width="1.25"/>
<text transform="translate(334.73,642.5) scale(0.8,1)" font-size="8.6" stroke="#1a1a1a" stroke-width="0.15" text-anchor="middle" fill="#1a1a1a">0.05</text>
<line x1="347.66" y1="631.9" x2="347.66" y2="634.1" stroke="#4a4a4a" stroke-width="1.25"/>
<text transform="translate(347.66,642.5) scale(0.8,1)" font-size="8.6" stroke="#1a1a1a" stroke-width="0.15" text-anchor="middle" fill="#1a1a1a">0.1</text>
<line x1="360.59" y1="631.9" x2="360.59" y2="634.1" stroke="#4a4a4a" stroke-width="1.25"/>
<text transform="translate(360.59,642.5) scale(0.8,1)" font-size="8.6" stroke="#1a1a1a" stroke-width="0.15" text-anchor="middle" fill="#1a1a1a">0.5</text>
<line x1="373.52" y1="631.9" x2="373.52" y2="634.1" stroke="#4a4a4a" stroke-width="1.25"/>
<text transform="translate(373.52,642.5) scale(0.8,1)" font-size="8.6" stroke="#1a1a1a" stroke-width="0.15" text-anchor="middle" fill="#1a1a1a">1</text>
<text transform="translate(347.4,570) scale(1.03,1)" font-size="8.6" font-weight="bold" stroke="#111" stroke-width="0.15" text-anchor="middle" fill="#111">EV206</text>
<polyline points="321.8,582.6 334.73,584.3 347.66,584.6 360.59,612.8 373.52,611.8" fill="none" stroke="#6464f4" stroke-width="1.1"/>
<line x1="321.8" y1="581.1" x2="321.8" y2="584.1" stroke="#6a6af5" stroke-width="0.9"/>
<line x1="320.5" y1="581.1" x2="323.1" y2="581.1" stroke="#3c3cf2" stroke-width="1"/>
<line x1="320.5" y1="584.1" x2="323.1" y2="584.1" stroke="#3c3cf2" stroke-width="1"/>
<rect x="320.7" y="581.5" width="2.2" height="2.2" fill="#3c3cf2"/>
<line x1="334.73" y1="583.3" x2="334.73" y2="585.3" stroke="#6a6af5" stroke-width="0.9"/>
<line x1="333.43" y1="583.3" x2="336.03" y2="583.3" stroke="#3c3cf2" stroke-width="1"/>
<line x1="333.43" y1="585.3" x2="336.03" y2="585.3" stroke="#3c3cf2" stroke-width="1"/>
<rect x="333.63" y="583.2" width="2.2" height="2.2" fill="#3c3cf2"/>
<line x1="347.66" y1="583.1" x2="347.66" y2="586.1" stroke="#6a6af5" stroke-width="0.9"/>
<line x1="346.36" y1="583.1" x2="348.96" y2="583.1" stroke="#3c3cf2" stroke-width="1"/>
<line x1="346.36" y1="586.1" x2="348.96" y2="586.1" stroke="#3c3cf2" stroke-width="1"/>
<rect x="346.56" y="583.5" width="2.2" height="2.2" fill="#3c3cf2"/>
<rect x="359.49" y="611.7" width="2.2" height="2.2" fill="#3c3cf2"/>
<rect x="372.42" y="610.7" width="2.2" height="2.2" fill="#3c3cf2"/>
<text transform="translate(361.04,612.3)" font-size="7.3" letter-spacing="0.9" stroke="#000" stroke-width="0.2" text-anchor="middle" fill="#000">***</text>
<text transform="translate(373.97,611.2)" font-size="7.3" letter-spacing="0.9" stroke="#000" stroke-width="0.2" text-anchor="middle" fill="#000">***</text>
<line x1="402.3" y1="572.1" x2="402.3" y2="632.4" stroke="#4a4a4a" stroke-width="1.25"/>
<line x1="399.9" y1="631.9" x2="402.3" y2="631.9" stroke="#4a4a4a" stroke-width="1.25"/>
<text transform="translate(399.1,634.9) scale(0.91,1)" font-size="8.7" stroke="#1a1a1a" stroke-width="0.13" text-anchor="end" fill="#1a1a1a">0</text>
<line x1="399.9" y1="622.02" x2="402.3" y2="622.02" stroke="#4a4a4a" stroke-width="1.25"/>
<text transform="translate(399.1,625.02) scale(0.91,1)" font-size="8.7" stroke="#1a1a1a" stroke-width="0.13" text-anchor="end" fill="#1a1a1a">20</text>
<line x1="399.9" y1="612.13" x2="402.3" y2="612.13" stroke="#4a4a4a" stroke-width="1.25"/>
<text transform="translate(399.1,615.13) scale(0.91,1)" font-size="8.7" stroke="#1a1a1a" stroke-width="0.13" text-anchor="end" fill="#1a1a1a">40</text>
<line x1="399.9" y1="602.25" x2="402.3" y2="602.25" stroke="#4a4a4a" stroke-width="1.25"/>
<text transform="translate(399.1,605.25) scale(0.91,1)" font-size="8.7" stroke="#1a1a1a" stroke-width="0.13" text-anchor="end" fill="#1a1a1a">60</text>
<line x1="399.9" y1="592.37" x2="402.3" y2="592.37" stroke="#4a4a4a" stroke-width="1.25"/>
<text transform="translate(399.1,595.37) scale(0.91,1)" font-size="8.7" stroke="#1a1a1a" stroke-width="0.13" text-anchor="end" fill="#1a1a1a">80</text>
<line x1="399.9" y1="582.48" x2="402.3" y2="582.48" stroke="#4a4a4a" stroke-width="1.25"/>
<text transform="translate(399.1,585.48) scale(0.91,1)" font-size="8.7" stroke="#1a1a1a" stroke-width="0.13" text-anchor="end" fill="#1a1a1a">100</text>
<line x1="399.9" y1="572.6" x2="402.3" y2="572.6" stroke="#4a4a4a" stroke-width="1.25"/>
<text transform="translate(399.1,575.6) scale(0.91,1)" font-size="8.7" stroke="#1a1a1a" stroke-width="0.13" text-anchor="end" fill="#1a1a1a">120</text>
<line x1="399.9" y1="631.9" x2="468.72" y2="631.9" stroke="#4a4a4a" stroke-width="1.25"/>
<line x1="409.5" y1="631.9" x2="409.5" y2="634.1" stroke="#4a4a4a" stroke-width="1.25"/>
<text transform="translate(409.5,642.5) scale(0.8,1)" font-size="8.6" stroke="#1a1a1a" stroke-width="0.15" text-anchor="middle" fill="#1a1a1a">0</text>
<line x1="422.43" y1="631.9" x2="422.43" y2="634.1" stroke="#4a4a4a" stroke-width="1.25"/>
<text transform="translate(422.43,642.5) scale(0.8,1)" font-size="8.6" stroke="#1a1a1a" stroke-width="0.15" text-anchor="middle" fill="#1a1a1a">0.05</text>
<line x1="435.36" y1="631.9" x2="435.36" y2="634.1" stroke="#4a4a4a" stroke-width="1.25"/>
<text transform="translate(435.36,642.5) scale(0.8,1)" font-size="8.6" stroke="#1a1a1a" stroke-width="0.15" text-anchor="middle" fill="#1a1a1a">0.1</text>
<line x1="448.29" y1="631.9" x2="448.29" y2="634.1" stroke="#4a4a4a" stroke-width="1.25"/>
<text transform="translate(448.29,642.5) scale(0.8,1)" font-size="8.6" stroke="#1a1a1a" stroke-width="0.15" text-anchor="middle" fill="#1a1a1a">0.5</text>
<line x1="461.22" y1="631.9" x2="461.22" y2="634.1" stroke="#4a4a4a" stroke-width="1.25"/>
<text transform="translate(461.22,642.5) scale(0.8,1)" font-size="8.6" stroke="#1a1a1a" stroke-width="0.15" text-anchor="middle" fill="#1a1a1a">1</text>
<text transform="translate(435.2,570) scale(1.03,1)" font-size="8.6" font-weight="bold" stroke="#111" stroke-width="0.15" text-anchor="middle" fill="#111">EV217</text>
<polyline points="409.5,582.6 422.43,585.5 435.36,588.7 448.29,602.1 461.22,613.9" fill="none" stroke="#6464f4" stroke-width="1.1"/>
<line x1="409.5" y1="579.6" x2="409.5" y2="585.6" stroke="#6a6af5" stroke-width="0.9"/>
<line x1="408.2" y1="579.6" x2="410.8" y2="579.6" stroke="#3c3cf2" stroke-width="1"/>
<line x1="408.2" y1="585.6" x2="410.8" y2="585.6" stroke="#3c3cf2" stroke-width="1"/>
<rect x="408.4" y="581.5" width="2.2" height="2.2" fill="#3c3cf2"/>
<line x1="422.43" y1="584.5" x2="422.43" y2="586.5" stroke="#6a6af5" stroke-width="0.9"/>
<line x1="421.13" y1="584.5" x2="423.73" y2="584.5" stroke="#3c3cf2" stroke-width="1"/>
<line x1="421.13" y1="586.5" x2="423.73" y2="586.5" stroke="#3c3cf2" stroke-width="1"/>
<rect x="421.33" y="584.4" width="2.2" height="2.2" fill="#3c3cf2"/>
<line x1="435.36" y1="585.7" x2="435.36" y2="591.7" stroke="#6a6af5" stroke-width="0.9"/>
<line x1="434.06" y1="585.7" x2="436.66" y2="585.7" stroke="#3c3cf2" stroke-width="1"/>
<line x1="434.06" y1="591.7" x2="436.66" y2="591.7" stroke="#3c3cf2" stroke-width="1"/>
<rect x="434.26" y="587.6" width="2.2" height="2.2" fill="#3c3cf2"/>
<line x1="448.29" y1="594.6" x2="448.29" y2="609.6" stroke="#6a6af5" stroke-width="0.9"/>
<line x1="446.99" y1="594.6" x2="449.59" y2="594.6" stroke="#3c3cf2" stroke-width="1"/>
<line x1="446.99" y1="609.6" x2="449.59" y2="609.6" stroke="#3c3cf2" stroke-width="1"/>
<rect x="447.19" y="601" width="2.2" height="2.2" fill="#3c3cf2"/>
<line x1="461.22" y1="609" x2="461.22" y2="618.8" stroke="#6a6af5" stroke-width="0.9"/>
<line x1="459.92" y1="609" x2="462.52" y2="609" stroke="#3c3cf2" stroke-width="1"/>
<line x1="459.92" y1="618.8" x2="462.52" y2="618.8" stroke="#3c3cf2" stroke-width="1"/>
<rect x="460.12" y="612.8" width="2.2" height="2.2" fill="#3c3cf2"/>
<text transform="translate(448.74,594.8)" font-size="7.3" letter-spacing="0.9" stroke="#000" stroke-width="0.2" text-anchor="middle" fill="#000">*</text>
<text transform="translate(461.67,609)" font-size="7.3" letter-spacing="0.9" stroke="#000" stroke-width="0.2" text-anchor="middle" fill="#000">***</text>
<line x1="490.2" y1="572.2" x2="490.2" y2="632.5" stroke="#4a4a4a" stroke-width="1.25"/>
<line x1="487.8" y1="632" x2="490.2" y2="632" stroke="#4a4a4a" stroke-width="1.25"/>
<text transform="translate(487,635) scale(0.91,1)" font-size="8.7" stroke="#1a1a1a" stroke-width="0.13" text-anchor="end" fill="#1a1a1a">0</text>
<line x1="487.8" y1="622.12" x2="490.2" y2="622.12" stroke="#4a4a4a" stroke-width="1.25"/>
<text transform="translate(487,625.12) scale(0.91,1)" font-size="8.7" stroke="#1a1a1a" stroke-width="0.13" text-anchor="end" fill="#1a1a1a">20</text>
<line x1="487.8" y1="612.23" x2="490.2" y2="612.23" stroke="#4a4a4a" stroke-width="1.25"/>
<text transform="translate(487,615.23) scale(0.91,1)" font-size="8.7" stroke="#1a1a1a" stroke-width="0.13" text-anchor="end" fill="#1a1a1a">40</text>
<line x1="487.8" y1="602.35" x2="490.2" y2="602.35" stroke="#4a4a4a" stroke-width="1.25"/>
<text transform="translate(487,605.35) scale(0.91,1)" font-size="8.7" stroke="#1a1a1a" stroke-width="0.13" text-anchor="end" fill="#1a1a1a">60</text>
<line x1="487.8" y1="592.47" x2="490.2" y2="592.47" stroke="#4a4a4a" stroke-width="1.25"/>
<text transform="translate(487,595.47) scale(0.91,1)" font-size="8.7" stroke="#1a1a1a" stroke-width="0.13" text-anchor="end" fill="#1a1a1a">80</text>
<line x1="487.8" y1="582.58" x2="490.2" y2="582.58" stroke="#4a4a4a" stroke-width="1.25"/>
<text transform="translate(487,585.58) scale(0.91,1)" font-size="8.7" stroke="#1a1a1a" stroke-width="0.13" text-anchor="end" fill="#1a1a1a">100</text>
<line x1="487.8" y1="572.7" x2="490.2" y2="572.7" stroke="#4a4a4a" stroke-width="1.25"/>
<text transform="translate(487,575.7) scale(0.91,1)" font-size="8.7" stroke="#1a1a1a" stroke-width="0.13" text-anchor="end" fill="#1a1a1a">120</text>
<line x1="487.8" y1="632" x2="556.62" y2="632" stroke="#4a4a4a" stroke-width="1.25"/>
<line x1="497.4" y1="632" x2="497.4" y2="634.2" stroke="#4a4a4a" stroke-width="1.25"/>
<text transform="translate(497.4,642.6) scale(0.8,1)" font-size="8.6" stroke="#1a1a1a" stroke-width="0.15" text-anchor="middle" fill="#1a1a1a">0</text>
<line x1="510.33" y1="632" x2="510.33" y2="634.2" stroke="#4a4a4a" stroke-width="1.25"/>
<text transform="translate(510.33,642.6) scale(0.8,1)" font-size="8.6" stroke="#1a1a1a" stroke-width="0.15" text-anchor="middle" fill="#1a1a1a">0.05</text>
<line x1="523.26" y1="632" x2="523.26" y2="634.2" stroke="#4a4a4a" stroke-width="1.25"/>
<text transform="translate(523.26,642.6) scale(0.8,1)" font-size="8.6" stroke="#1a1a1a" stroke-width="0.15" text-anchor="middle" fill="#1a1a1a">0.1</text>
<line x1="536.19" y1="632" x2="536.19" y2="634.2" stroke="#4a4a4a" stroke-width="1.25"/>
<text transform="translate(536.19,642.6) scale(0.8,1)" font-size="8.6" stroke="#1a1a1a" stroke-width="0.15" text-anchor="middle" fill="#1a1a1a">0.5</text>
<line x1="549.12" y1="632" x2="549.12" y2="634.2" stroke="#4a4a4a" stroke-width="1.25"/>
<text transform="translate(549.12,642.6) scale(0.8,1)" font-size="8.6" stroke="#1a1a1a" stroke-width="0.15" text-anchor="middle" fill="#1a1a1a">1</text>
<text transform="translate(523.1,570) scale(1.03,1)" font-size="8.6" font-weight="bold" stroke="#111" stroke-width="0.15" text-anchor="middle" fill="#111">EV218</text>
<polyline points="497.4,582.6 510.33,584 523.26,585 536.19,587.7 549.12,608.1" fill="none" stroke="#6464f4" stroke-width="1.1"/>
<rect x="496.3" y="581.5" width="2.2" height="2.2" fill="#3c3cf2"/>
<rect x="509.23" y="582.9" width="2.2" height="2.2" fill="#3c3cf2"/>
<line x1="523.26" y1="584" x2="523.26" y2="586" stroke="#6a6af5" stroke-width="0.9"/>
<line x1="521.96" y1="584" x2="524.56" y2="584" stroke="#3c3cf2" stroke-width="1"/>
<line x1="521.96" y1="586" x2="524.56" y2="586" stroke="#3c3cf2" stroke-width="1"/>
<rect x="522.16" y="583.9" width="2.2" height="2.2" fill="#3c3cf2"/>
<line x1="536.19" y1="584.3" x2="536.19" y2="591.1" stroke="#6a6af5" stroke-width="0.9"/>
<line x1="534.89" y1="584.3" x2="537.49" y2="584.3" stroke="#3c3cf2" stroke-width="1"/>
<line x1="534.89" y1="591.1" x2="537.49" y2="591.1" stroke="#3c3cf2" stroke-width="1"/>
<rect x="535.09" y="586.6" width="2.2" height="2.2" fill="#3c3cf2"/>
<rect x="548.02" y="607" width="2.2" height="2.2" fill="#3c3cf2"/>
<text transform="translate(549.57,607.5)" font-size="7.3" letter-spacing="0.9" stroke="#000" stroke-width="0.2" text-anchor="middle" fill="#000">***</text>
<rect x="103.8" y="468.7" width="2" height="78" fill="#d7c6f8"/>
<rect x="103.8" y="566" width="2" height="80" fill="#a9d2f8"/>
<text transform="translate(99.3,507.4) rotate(-90) scale(1.1,1)" font-size="8.3" font-weight="bold" stroke="#111" stroke-width="0.11" text-anchor="middle" fill="#111">H1299</text>
<text transform="translate(99.3,604.6) rotate(-90) scale(1.1,1)" font-size="8.3" font-weight="bold" stroke="#111" stroke-width="0.11" text-anchor="middle" fill="#111">H460</text>
<text transform="translate(-0.4,102.8)" font-size="14.6" font-weight="bold" stroke="#000" stroke-width="0.15" text-anchor="start" fill="#000">a</text>
<text transform="translate(-0.9,472.6)" font-size="15.5" font-weight="bold" stroke="#000" stroke-width="0.15" text-anchor="start" fill="#000">b</text>
<text transform="translate(640,8) scale(1.12,1)" font-size="10.9" font-weight="bold" stroke="#000" stroke-width="0.13" text-anchor="start" fill="#000">Figure 2</text>
</svg>
</body></html>
